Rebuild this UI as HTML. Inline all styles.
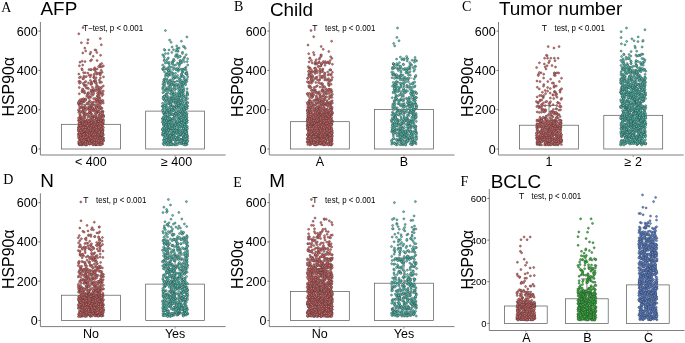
<!DOCTYPE html><html><head><meta charset="utf-8"><style>html,body{margin:0;padding:0;background:#fff;overflow:hidden}svg{display:block;will-change:transform;filter:blur(0.35px)}</style></head><body><svg width="685" height="343" viewBox="0 0 685 343" font-family="&quot;Liberation Sans&quot;, sans-serif"><defs><marker id="mr" markerWidth="4" markerHeight="4" refX="2" refY="2" markerUnits="userSpaceOnUse" viewBox="0 0 4 4" overflow="visible"><circle cx="2" cy="2" r="1.0" fill="#F46666" stroke="#3a3a3a" stroke-width="0.45"/></marker><marker id="mt" markerWidth="4" markerHeight="4" refX="2" refY="2" markerUnits="userSpaceOnUse" viewBox="0 0 4 4" overflow="visible"><circle cx="2" cy="2" r="1.0" fill="#48D8C6" stroke="#3a3a3a" stroke-width="0.45"/></marker><marker id="mg" markerWidth="4" markerHeight="4" refX="2" refY="2" markerUnits="userSpaceOnUse" viewBox="0 0 4 4" overflow="visible"><circle cx="2" cy="2" r="1.0" fill="#2AD232" stroke="#3a3a3a" stroke-width="0.45"/></marker><marker id="mb" markerWidth="4" markerHeight="4" refX="2" refY="2" markerUnits="userSpaceOnUse" viewBox="0 0 4 4" overflow="visible"><circle cx="2" cy="2" r="1.0" fill="#5E94FF" stroke="#3a3a3a" stroke-width="0.45"/></marker></defs><rect width="685" height="343" fill="#fff"/><text x="1.2" y="12.4" font-family="&quot;Liberation Serif&quot;, serif" font-size="14">A</text><text x="40.5" y="15.0" font-size="18.9">AFP</text><text transform="translate(13.9,116.5) rotate(-90)" font-size="15.9">HSP90α</text><path d="M40.4 22.0V155.0H225.6" fill="none" stroke="#7f7f7f" stroke-width="1"/><path d="M38.4 149H40.4" stroke="#555" stroke-width="0.8"/><text x="37.6" y="153.5" font-size="12.5" text-anchor="end" fill="#000">0</text><path d="M38.4 109.7H40.4" stroke="#555" stroke-width="0.8"/><text x="37.6" y="114.2" font-size="12.5" text-anchor="end" fill="#000">200</text><path d="M38.4 70.4H40.4" stroke="#555" stroke-width="0.8"/><text x="37.6" y="74.9" font-size="12.5" text-anchor="end" fill="#000">400</text><path d="M38.4 31.1H40.4" stroke="#555" stroke-width="0.8"/><text x="37.6" y="35.6" font-size="12.5" text-anchor="end" fill="#000">600</text><path d="M90.9 155.0v2" stroke="#7f7f7f" stroke-width="0.8"/><text x="90.9" y="166.2" font-size="12.5" text-anchor="middle" fill="#000">< 400</text><path d="M175.1 155.0v2" stroke="#7f7f7f" stroke-width="0.8"/><text x="176.6" y="166.2" font-size="12.5" text-anchor="middle" fill="#000">≥ 400</text><rect x="61.5" y="124.3" width="58.9" height="24.7" fill="none" stroke="#555" stroke-width="0.7"/><rect x="145.7" y="111.1" width="58.9" height="37.9" fill="none" stroke="#555" stroke-width="0.7"/><path d="M90.9 104.6V143.9M82.5 104.6H99.3M82.5 143.9H99.3" stroke="#333" stroke-width="0.6" fill="none"/><path d="M175.1 81.6V140.6M166.7 81.6H183.5M166.7 140.6H183.5" stroke="#333" stroke-width="0.6" fill="none"/><text x="83.2" y="31" font-size="8.6" fill="#000" textLength="59.9" lengthAdjust="spacingAndGlyphs">T−test, p < 0.001</text><polyline points="86.7,120.3 81,138.2 97.6,127.4 89.1,124.8 92.6,141 85.5,125.6 87.4,139.6 97.3,112 90.2,138 93.4,102.1 89,69.6 92.4,132.4 101,117.3 85,99.1 91.4,94.3 95.6,124.6 80.5,123.6 102.6,120.5 90.9,84.5 84.5,140.1 97.5,138.3 98.9,138.7 94.2,128.4 101.4,119.5 80.5,125.6 91.6,83.5 97.1,60.6 101.4,130 94.5,127.6 93.5,142.2 88.1,132.8 92.7,126.1 92.3,116.3 101.2,126 99.2,92 96.9,112.8 101.6,137.9 80,62.2 97.7,123.7 90,109.6 97.3,138.4 85.8,134 90.1,54 99.1,89.4 79.2,133.6 85.6,130.7 90.6,133.6 99.8,137.3 85.1,140.4 99.1,117.6 84.5,122 85.9,137.3 92.3,136.7 94.8,129.5 100.5,143.8 100.5,90.7 84.6,99.4 97.1,123.9 94.3,126.8 88,108.7 97.9,133.4 101,131.3 90.4,140 101.4,101.5 81.5,137.3 82.5,133.7 97.6,96.6 86,144.3 93.1,144.4 90.8,97.3 82,91.1 97.3,143.9 97,126.4 82,140.6 84.9,141.8 98.5,119.8 101.3,44.8 100.3,75.1 91,74.9 87.6,121.1 89.5,134.5 82.7,110.5 90.8,91.2 84.1,113 82.4,142.7 87.9,73.1 79.9,118.9 90.2,136.8 95.9,106.4 94.7,142.7 102.9,133.2 100.7,133.2 94.3,125.6 101,119.3 89.5,96.3 98.5,106.8 85.5,145 91.6,127.7 103,100.7 93.4,110.6 91.1,133.9 98.2,95.2 86.2,109.8 99.3,91.8 78.8,112.3 84.3,138.8 82.8,78.6 84.8,93.1 102.2,72.3 78.9,126.1 85.8,143.2 92.8,138.8 96.1,123.1 97.8,121.8 88,126.9 83.9,114 99.8,133.4 81.4,138.8 79.9,137.7 84.1,130.4 90.7,136.3 102.1,114.9 96.7,74.2 92.5,138.2 91.5,83.8 95.8,128.1 94.1,81.2 86.8,135.2 80.6,125.7 83.4,110 98.1,93.2 94.3,81.3 98.4,111.2 79.4,103.9 101,143.1 87.9,131.2 101.7,132.6 93.3,119.8 92.1,132.6 99,100.7 94.1,121.9 95.3,113.4 82.3,106.8 93.6,117.3 87.3,94.2 80.2,116.5 81.7,133.4 90.4,138.8 84.9,82.3 97.6,142.7 81.4,42.7 78.6,129.4 103.5,140.6 86.2,122.9 91.2,134.5 83.6,72.7 83.6,133.5 88.5,136.3 98.2,130.1 79.3,144.7 99.4,137.3 103.3,103 92.4,117.8 87.4,139.5 84.2,138.4 82.9,126 86.5,135.3 99.8,129.9 78.4,120.5 98.1,140.4 95.1,141.5 78.8,127.2 80,114.3 96.9,113.3 95.3,144.2 86.2,135.3 100,98.1 83.6,128.3 89.1,123.3 81.2,123 94.6,131 80.5,143.7 82.8,137.7 97.6,118.9 90.9,119.9 95,136.1 96.8,112.5 93.6,133.8 83.3,143.6 95.9,50.2 81.2,122.1 85.1,121.2 89.6,143.9 81.2,142.6 81,125.3 94.8,116.6 97,105.6 87.7,87.9 88.1,124.1 83.5,123.7 91.5,82 93,133.8 101.9,126.5 79.3,93.8 101.2,107.7 103.3,91 87,114 96.6,117.5 99.1,127.6 94.7,127.1 85.6,139.6 94,135.8 100.4,138.4 81,135.1 90.4,122.3 78.9,110.8 99.6,106.9 98,142.4 79.5,123.2 97.1,85.5 95.8,144.9 81.5,104.6 91.6,92 95.7,140.4 86.8,138.6 91,83.2 102.9,124.4 94.3,139.7 91,129 80,114.8 81.4,126.1 99.8,114.3 97,121 99.4,80.1 92.9,131.3 92.8,138.1 91.7,106.5 96.9,134.3 86.6,139.2 90.8,129.8 90.2,139.1 95,129 83.8,131 78.9,143.7 80.5,117.7 82.8,89.6 99.9,72.7 96.4,119.1 97.2,73.2 89.5,108.3 80.9,119.9 90,136.7 100.1,144.5 91.2,130.7 94.3,73.9 87.7,138.6 82.1,61.2 94.1,125.2 90.5,60.8 87,137.2 84.8,48.1 95.9,87.5 86.3,131 92.8,131.7 84.9,85.4 97.3,127.2 87.8,135.8 90.4,125.4 101.7,111.8 96.4,118.7 96.9,142.7 86.9,135.3 99.5,138 88,141 103.3,138.1 100.9,137.6 94.9,142.1 99.3,133.8 92,89.9 96.8,85.8 81.4,107.1 103.3,134.9 98.5,87.5 81.9,99.2 84.4,127.4 92.8,116.9 97.6,128 82.1,131.4 102.6,127.3 87,128.3 103.4,115.4 97.3,96.3 90.6,135.6 87.5,133 80.7,141.4 80.5,76.9 94.2,128.3 97.8,122.9 101.2,122.2 87.5,104.1 102,108.3 85.8,131.9 102,130.3 101.5,143.8 82.2,102.6 100,129.3 96.1,99.9 96,83.4 99.5,128.8 91.8,123.9 91.1,127.6 87.6,119.7 100.1,64.6 101.1,88.2 82.3,119.1 97.8,132.7 85.2,140.7 82.9,132.9 83.3,137.9 92.8,109 85.4,121.6 84.4,144 80.8,141 86.5,129.5 97.8,98.8 78.8,74.1 90.5,125.9 93.5,108.9 79.5,133.5 85.7,141.6 101.2,70.3 103.4,65.9 99.8,102.7 82.6,140.2 97.6,136 89.7,137.3 82.6,144.9 90.4,130.1 101.6,142.7 100.4,114.5 88.2,132.3 79.9,108.4 101,117.7 103.2,119.5 91.2,128.9 84,92.3 92,140 95.9,117.4 90.5,143.1 87.2,131.9 84.5,139.1 85.8,128 79.5,120.4 84.7,122.4 102.4,131 78.5,109.9 96.7,122.9 98.2,129.7 88.5,88.7 93.3,121.7 83.9,102.1 95.2,128 96.2,119.5 96.8,107.2 90.7,120 102.8,114.6 100.2,65.9 92.8,108.7 95.5,125.5 85.2,107.8 102.1,116.2 94.6,122.5 100.9,128.4 85.6,113.6 103.1,130 81,129.8 91.7,117.5 81.1,127.5 83.1,128.7 97.6,142.6 80,140.5 88,136.6 83.1,124.7 99.8,138.4 80.4,135.3 86.8,141.5 99.9,141.1 95.6,138.7 96.1,130.4 103.3,140.4 78.9,104.8 95.1,126.1 97.1,69.1 97.2,131.2 96.3,82.9 80.1,143.6 80.4,102.6 97.8,124.6 93.7,91.2 84.9,127.9 78.5,131.2 91.8,127.6 80.6,118.4 97.2,135.4 86.9,142.9 98.7,121.5 80.7,101.4 90.8,125.2 80.8,136.1 98,139.1 92.4,122.3 84.2,143.9 102.6,130.9 95.5,116.2 86.8,126.1 99.9,117.5 87.9,136.2 102.1,132.8 85.8,136.5 103.2,140.2 79.9,123.9 96.8,110.2 85.7,50.9 89,116.2 94.4,115.9 79.4,77.7 83.9,120.7 80.9,125.4 97,138.4 83.9,134.2 90.9,128.6 86.6,142.3 84.3,108.7 101.9,134.5 91.1,69.9 94.7,116.9 96.1,137.7 99,138.4 84.9,100.5 80.3,137.7 90.1,122.7 82.6,89 78.8,33.8 101.5,132.4 94.1,133.2 88.8,98.2 81.7,144.6 97.5,93.3 91.8,143.4 82.7,65.1 103.1,123.4 102.3,141.2 101.7,63.5 99.2,112 91.7,139.4 85.9,142.9 94.8,144.6 82.1,134.7 93.9,111.1 80,123.9 78.6,127.5 96.4,89.8 86.9,144.9 95.9,138.4 98,136.1 99.4,135.8 93.8,125.3 99.7,142.8 94.9,116.3 101.7,120.4 100.9,133.4 79.4,128.1 85.1,128.8 88.1,92.7 84.7,130.7 82.8,52.9 100.4,119.8 78.9,103.8 82.9,112.2 97.5,90.2 83.9,84.7 84.8,131.3 102.7,144 97.6,135.9 89.6,144.2 81.7,121.6 85.1,124.3 103.1,111.7 98.3,100.9 80.1,134.9 96.1,144.7 87.8,137.5 96.5,125.8 85.8,81.5 81.6,130.1 78.8,142.6 85.8,122.4 100,67.1 100.8,123.5 95.5,81.2 97.2,124.7 83.2,135.8 87.2,132.8 101,135 103.2,140.3 89.5,112.9 97.9,89 101.9,125.5 103.5,138.3 85.8,128.1 94.8,139.2 88.1,141.8 90,113 90,108.1 85.3,140.1 78.8,134.8 97.7,140.1 95.9,129.1 99.5,120.7 82.2,91.9 84.3,128.7 93.3,130.2 101.9,66.8 90.2,137.5 83.4,133 93.3,128.4 102.5,127.4 100.2,92.3 101,109.2 88.7,102 84.9,86.2 100.3,102.3 98.2,139.8 99.8,82.6 88.2,143.4 85.5,142.5 84.4,91.1 100.3,119.2 101.5,142.9 87.6,136 100.4,78 87.9,133.9 89.6,133.5 92.6,141.5 83.9,132.8 85,129.4 85,143.1 84.9,135.7 91.3,140.2 80.8,107.5 98,121.7 82.7,100.6 89.5,135.3 94.5,143.1 81.8,68.8 88.6,130.7 92.5,141.6 92.2,135.7 100.8,129.3 98.1,131.6 81.3,133.9 99.3,124.8 92.2,133.4 95.4,140.4 82.3,69.9 90.2,135.9 96,110.9 98.4,119.5 98.6,100.9 83.8,131.4 99.3,143.9 92.6,95.3 95.2,131 99.8,100.9 88.5,83.1 101.5,87.3 100.6,134.3 98.7,107.9 87.9,142.7 91.6,59.8 82.7,101.9 97.5,123.7 100.8,122.4 82.4,121.1 97.1,144.5 95.8,108.5 79.2,125.6 101.5,137.3 90.4,80.4 85.1,143.9 79.1,143.8 98,130.7 86.8,127.5 91.3,120 83.2,135.2 93.6,133.6 88.3,96.9 98.7,142 95.1,120.1 96.5,144.5 84.6,128 79.9,139.1 100.5,137.4 101.9,133.6 94.5,143 101.6,142.6 96.1,102.5 93.6,69.3 88.9,102.7 87.3,129.1 90.7,125.8 83.9,108.1 89.1,127.9 91.1,132.7 79.1,103.9 88.2,143.3 85.5,121.2 94.3,143.6 98.8,106.6 93.8,131.1 95.1,133.7 93.8,124.7 84.8,105.9 87.8,125.4 99.6,121.5 102.2,135.8 82.9,141 78.6,137.7 102.6,111.2 100,144.9 93.6,98.7 98.9,134.9 93.3,127.3 101.1,133.2 84.4,128.8 89.5,130.9 95.2,142.2 83.7,119.2 96.3,107.3 84.9,134 96.2,100.5 98.6,119.4 89,75.2 103.3,122.8 94.2,136 97.4,132.2 78.8,128.1 81.1,117.9 96.3,113.4 102.1,95.6 94.2,124.5 101.3,135.6 79.8,81.5 100.8,121.3 100.5,102 94.2,105.3 89.1,107 96.1,90.6 84.5,142 95.2,131.3 95.8,133.7 91.9,107.8 84.9,124.2 78.3,134 83.2,143.7 99.4,112.2 83.7,129.6 80.2,138.1 84.5,143.5 91.4,102.7 93.1,138.3 100.4,129.9 99.9,138.7 102.8,130 100.6,143.3 89.7,132 81.9,135.6 102.4,112.2 84.1,143.9 94,132.7 85,125.5 98.9,127.6 83.4,78.9 88.9,129.7 83.8,135.2 100,94.1 93.9,142.2 94.2,122.7 86.2,137.1 82.7,128.5 99.9,141.6 97.6,95.6 96.8,140.2 103.5,116.2 92.4,124.6 82.8,133.5 93.7,93.8 85.5,129.8 91.2,125.7 89.9,131.2 92.5,118.9 101.6,134.6 98.8,95.9 88.8,125.4 98.9,73.5 100,141.5 97.8,123.4 92.2,137.6 101,120.6 90.7,52.3 81,140.5 85.2,143.3 94.9,126.6 87.9,127.5 89,130.9 88.4,127.6 83.1,108.4 80.7,144 79.5,130.3 95.3,126.5 86.5,126.1 89.8,100.6 101.9,123.6 94.1,137 98.8,115.5 97.5,124.3 102.4,113.1 80,144.4 88,39.7 102.3,132.5 90,142.3 102.2,100.4 83,112.3 79.8,144 100.9,120 88.7,93.6 91.1,125.3 101.9,93 83.8,128.3 102.7,123.1 88.3,142.1 84.5,135.7 84.2,137.8 91.4,105.8 90.1,139.5 100.7,129.6 79.6,102.5 79.4,65.8 82.1,142.8 93.6,143.9 98,132.9 90.4,130.6 93.8,126 94.5,128.6 78.8,81.5 84.5,140.2 103.5,120.4 86.6,130.4 102.2,139.3 90.7,134.5 83.9,115.5 78.4,103 83.8,76.2 86.4,124.1 89.4,112.2 89.6,106 92.1,126 90.3,111.1 79.1,138.7 85,115.7 102.6,141.8 79,101.3 96.8,52.5 90.3,119.2 96.1,77.7 86.7,124.6 87.6,43 91.3,113.5 101.3,144.4 86.6,133.4 80.5,123.7 79.3,87.5 100.6,107.4 86.2,125.6 81.3,144.8 93.4,126.1 99.6,140.1 93.4,108.8 82.1,100.7 88.5,113.5 85,61.6 78.7,127.6 102.7,124.3 89.9,135.3 81.7,116.7 100.6,127.9 103.2,121.5 98.9,144.5 84.7,124.6 83.1,134.3 91.6,122.7 93,144.9 100.5,73.3 102.7,139 101.3,129.1 86.9,103.3 93.1,141.8 81.4,143.3 91.4,136.8 80.1,136.1 81.1,131 81.4,140.3 85.9,144.6 86.1,122.1 96.1,131.3 80.2,143.5 81.1,112.1 94.9,139.3 95.3,137.5 96.2,130.9 96.5,99.3 95,70.5 92.2,137.3 97,101.3 80.3,135.7 83.6,141.6 97,140.9 83.2,83.4 91.7,125.5 84.9,111.6 89.2,138.3 99.4,127.5 95,69.1 89.5,137.1 85.2,72.8 98.6,125.7 94.9,80.6 89.4,140.7 100.2,137.9 95.8,115.8 103.1,116 95.1,144.1 101,119.1 92.2,140.1 96.2,144.1 99.6,128.3 80.6,139.5 90.3,116.7 93.6,135.2 79.7,101.5 98.2,103.3 96.4,127.3 101.9,137.9 87.7,142.4 90.1,129.1 101.3,103.3 88.7,138.9 99.4,141.2 88.9,128.7 86.8,129.8 85.3,106.9 83.7,131.1 89.2,139.5 82.4,112.1 99.2,111.4 102.9,131.2 80.8,111.4 79.7,134.1 78.4,136.1 101.8,126.4 80.2,99.7 95.5,140.3 86,114.8 83.3,131.1 84.5,133.8 95.7,140.2 78.7,130.5 100.1,134.8 92.6,132 84.2,122.7 83.6,108.1 94.8,67.8 94.2,91.4 86.3,76.6 86.7,96 90,142.2 101.3,142.4 91.9,105.1 99.5,109 94.5,140.4 92.5,108.2 90.7,137.8 95.5,122.9 90.7,127.9 96.6,119.3 82.9,124.2 86.4,85.3 100.3,38.6 88.3,93 99.6,99.5 102,124.3 92.9,137.9 80.9,139.1 97.4,137.3 95.1,98.4 85.6,141.7 100.1,125.8 90.5,143.7 79.7,121.6 80,134.4 84.1,123.2 93.7,77.3 98.9,126.5 80.8,137.7 78.9,123.3 94,75.8 88.6,123.1 89.4,139.8 99,107.8 101.5,82.3 102.7,137.8 98,134.6 78.4,129.4 82.1,138.6 93.1,103.5 102.4,138 80.3,142.8 91.3,90 88.3,140.4 88.6,124.2 85.1,130.1 85.1,137.8 84.3,129.4 80.9,125.3 92.3,139.8 89.6,123.4 96.3,143.1 94.5,108.9 102.4,131.4 86.9,131.1 100.6,55.3 88,117 95,49.9 98.6,66.5 88.3,124.2 89.6,133 94.2,124.2 81.1,102.4 91.7,102.5 80.7,142.3 84,135.4 94,134.2 102.8,137.8 103.5,76.9 84.9,130.6 82,140.5 91.4,122.8 89.4,143.1 87.9,139.6 97.7,138.5 96.2,128.4 92.5,140 94,78 93,135.4 95.4,109.5 101.7,133.3 102.2,92.7 103,141.3 100,81.8 80.9,120.6 89.7,134.1 98,98.7 85.7,100.1 93.6,134.4 79.7,144 83.4,136.9 88.4,122.2 80.1,116.1 89,110.4 84.1,133.9 100.1,126.7 86.3,88.1 87.9,96.7 98.5,121.3 92.4,114.9 79.6,83.3 83.8,140.1 93.7,90 83.3,134.7 84.6,77.2 94,139.3 90.8,69.4 85.1,117.9 92.4,87.1 94.3,142.4 79.3,119.5 85.2,129.3 86.1,123.4 100.5,88.5 79.6,132.6 87.1,126.3 83.2,108.4 95.8,112.9 98.8,116.3 79.7,117.9 100.1,104.7 95.9,72.3 83.8,117.2 101.4,142.5 85.7,99 98.2,132.8 80.2,125.9 89.8,136.1 91.1,138.4 100.9,144.2 99.4,133.6 92.1,130 79.6,107.1 89.2,121.1 87.8,114.6 103.4,127.5 95.5,80.1 88.5,138.4 87.5,125.5 97.7,144.6 80.7,143.9 98.9,119.1 95.2,134.6 89.3,140.7 96.2,139.3 88.3,121.8 81.9,132.7 88.8,140.9 79.6,123.5 80.5,82.3 89.4,135.8 99.1,96.6 83.4,98.7 90.9,113.9 103,94.2 99.2,87.4 101.1,140.6 95.3,126.7 93.2,56.3 93,129.9 93.5,89.1 90,108.4 87.4,144.1 84.3,124.1 79.9,128.1 87.6,134.7 97.7,140 92.3,91.9 82.4,128.9 98.9,127.6 79.3,132.9 101.8,135.1 94.8,124.4 92.3,140.6 88.7,140.3 99.1,132.8 78.5,118 78.7,141.6 91.4,125.7 85.8,127.6 88.4,139.6 91.8,138.2 79.4,128.4 103.1,134.9 95.4,82.6 80.8,130.4 96.9,140.6 91.8,141 95.6,101.2 96.9,129 103.3,85.9 81.3,140.2 103.5,116.9 90.3,137.2 83.4,127.5 87.7,119.9 87.5,107.7 100.9,120.2 91.5,111 80,143.8 96.3,127.3 90.9,120 98.9,140.9 79.5,141.7 100.1,74.2 100.8,123.2 78.5,102.8 90.3,76.9 81.4,132.1 91.7,133.2 83,27.6" fill="none" stroke="none" marker-start="url(#mr)" marker-mid="url(#mr)" marker-end="url(#mr)"/><polyline points="166.9,73.7 180.8,112.1 166,74.8 170.1,139.7 164.3,57.5 178.9,69.8 180.8,101.5 181.3,74.5 182.1,108.9 172.5,63 167,110.6 162.6,69 173.6,135.2 186.1,98 173.8,139 178,69.8 185.6,125.6 184.3,121.5 181.2,86.7 177.5,112.8 168.3,121.3 181.4,134.8 173,74.1 180.3,91.7 168.1,121 186.3,135.7 166.6,124.4 182.5,138.8 185,144.1 166.3,143 184.3,127.5 178.8,110.8 177.7,142.9 168.9,74.6 170.8,105.7 168.4,62.9 173.6,59.2 178.9,93.1 180.9,89.8 180.3,56.5 171.3,97.7 171,137.8 181.8,69.6 187.1,128.1 168.1,117.3 172.9,113.7 169.5,86.2 187.1,138.2 162.9,92.7 185,109.4 181.9,113.8 170.9,108.7 179.7,139 171.8,133.7 178.6,133.8 173.2,135 185.6,84.8 174,115.4 183,127.6 177,105.5 171.9,134.2 186.9,144.5 167.4,69.4 185.4,135.4 187.3,120.5 183.9,127.2 177.9,85.3 178.2,125.7 185.9,67.2 173.4,125.8 183.3,115.2 182.1,142 184.2,106.9 173.6,109.8 179,86.9 164.8,129.7 164.3,60.1 165.2,128 181.1,140.1 171.5,88.6 185.4,118.9 164.5,139.1 166.8,62.5 183.6,84.3 173.1,131.2 168.1,89 182.2,143.6 168.4,74.4 187.1,129.8 169.4,136.8 184.2,139.3 174.6,85.7 186.1,133.9 170,103.1 185.9,106.9 170.1,118.2 173.8,85 178.5,88.3 176.5,130.5 179.4,79.9 180.1,62.3 169.3,64.2 162.7,134.8 180.8,139.5 177.7,48.3 176.7,49.2 175,77.8 185.9,143.2 170,107 185.5,73.4 166.7,130.8 180,113.2 186.3,73.2 166.4,107.4 181.9,85.4 169.4,123.6 164,114 173.4,110.4 180.1,141.2 169.6,102.2 186.5,131.7 162.5,106.3 169.3,120.9 171.1,91 171.9,101.3 170.1,84.1 163,87.1 167.8,83.8 169.1,103.7 179.5,139.7 172,102.3 180.7,134.9 173.7,65.1 171.1,42.3 166.5,128.1 168.3,135.8 185.3,142.6 174,128.3 170.4,126 168,123.4 184.6,120.3 180.3,119.4 180,60.4 182.8,127.8 168.6,74.4 181,104.5 164.3,104.8 179.3,99.8 170.6,128.8 179.2,123.2 168.2,76.4 171.4,99.1 179.4,64.4 186.2,81.2 171.1,141.1 166.8,100 165.6,123 179.4,104 185.1,125.5 162.9,130.3 171.2,132.6 166.8,97.1 186.6,113.9 165.8,113.2 164.2,79.4 181.9,130.2 187.7,102.5 182,115 165.4,122.3 172.8,119.9 175.6,86 185.2,99.9 181.5,74.1 164,79.8 173.9,78.3 182.2,124.4 176.2,123.6 179.3,83.5 186.9,139 187.2,74.7 183.6,139.4 176.9,107.3 170.3,102.7 166.5,93.8 166.7,124.3 178.7,90.7 182,140.5 184.2,126 185.6,117.1 169.8,89.2 170.9,110.1 167.4,142.3 176.2,106.8 186.4,139.4 181.6,61 173.5,49.7 166.5,120.1 183.8,82.8 185.1,139.2 181.9,84.4 169.9,80.2 172.3,128.2 177.2,54.5 185.7,126.3 168.6,127.5 173.1,96.1 164,81.4 162.6,135 168.6,112.6 182.9,91.4 179.5,56.4 174.5,124.6 172.8,96.6 169.2,62.4 181.8,121.9 174.8,99.7 164.3,132.7 178.3,129.5 187.6,138.4 164.3,99.6 187.7,76.9 165,132.9 170.3,136 187.2,106.5 187,142.9 167.2,73.7 180.7,110.1 178,96 172.5,128.7 182.3,134.2 178.5,132 168.2,116.7 174.9,143.6 180.4,122 178.2,51.2 176.2,120.7 181.1,76.5 165.9,134.4 163.6,119.7 163.3,70 178.2,104.5 173.5,78.7 183.6,95.4 187,79.3 165.3,99.7 172.1,136.8 173.1,73.3 176.3,123.4 185.5,129.8 177.6,144.5 170.2,125.8 179.2,142.5 170.8,82.1 176.5,139.8 165,95.9 176.7,137.1 174.6,132.4 178.8,123.6 176.8,123.7 177,140 181.1,95.5 165.9,128.3 181.5,131.1 178.2,99 179.9,95.7 172.6,144.8 164.6,123.6 185.8,144.4 183.4,110.3 187.1,88.8 174.1,67.8 184.8,128.8 184.5,129.5 176.4,77.3 185.2,69 183.1,121.5 165.1,79.2 165.9,120.5 172.8,84.5 176,114.8 179,118.5 176.7,131.9 184.6,126.4 182.7,70.1 165.1,102.3 171.1,79.7 184.9,79.6 181.6,83.9 162.9,134.1 178.3,98.4 165.7,130.1 175.2,134.4 187.6,106.2 164.4,118.5 183.3,121.7 174.7,144.9 187.2,108.4 184.2,105.3 164.1,140.8 178.7,129.7 184.2,46.8 169.5,141.2 180.3,125.1 168.9,127.4 167.7,68 170.9,72.5 169.9,124.7 186.8,72 168.4,108.8 173.2,61.1 174.8,137.4 179.9,96.3 187,141.3 178,101 184.2,132.7 165.8,94.3 179.2,48.1 166.8,79.4 184.5,123.4 177.5,138.5 165.9,141.8 184,138.7 175.8,144.2 174.8,138 164.5,133.1 185.4,108.7 175.5,56.4 184.3,127 164.4,119.2 179.7,89.1 172,138.6 176,69.1 178.3,69.1 183.3,93.3 185.8,115.2 166.7,119.7 184.2,110.5 165.4,75.9 162.8,109.6 170.1,119.8 169.7,113 182,124.7 176.6,122.1 172.3,118.5 182.5,100.1 186.1,108.4 178.7,107.1 179,113.5 184.3,77.2 169.9,129.1 187.6,58.7 166.9,118.1 163.6,123.8 183.3,59.6 166.9,115.8 171,144.3 175.5,101.9 165.3,117.9 173.2,129.9 171.4,111.5 164.7,125.8 177.7,112.7 173.9,108.6 166.5,111.9 182.4,90.5 172.8,126.9 163.1,97.1 184.7,123.3 172.8,92.5 164.8,50.2 169.8,114.4 168.9,90.8 163.6,122.8 170.8,104.5 166.8,122.5 167.9,138 179.5,68.6 166.5,133 163,130.5 167,125.7 170,104 166.7,133 177.6,75.5 184.7,57 183.5,90.4 174.4,116.9 182.3,122.6 182.5,72.3 178.5,123.1 182.8,86.6 172.1,47 181.4,142.3 175.7,95.8 181.1,96.6 181.2,116 164.2,114.2 183.5,83.6 163.4,139.9 173.3,69.4 177.4,115.6 183.3,119.8 163.9,134.4 179.5,113.6 171.2,120.1 163.5,120.8 170.9,113.6 178.7,111.8 164.6,71.9 183.9,119.5 163.6,124.2 168.5,110.3 170.8,109.8 164.1,112.5 185.9,112.6 186.9,36.9 185.3,48.3 167.5,137.9 183.5,117.3 171,97.8 169.8,101.5 179.9,107.4 164.6,117.9 162.6,103.3 186,133.1 171.4,71.8 182.6,132.1 173.2,74.8 164.8,96.7 174.5,98.5 166.8,145 164.5,85.5 163,68.6 172.6,129.8 169,50 171,128 186.8,120.2 183.4,144.1 180.3,100.5 168.7,71.3 181.4,89.4 180.1,111.6 175.8,129.4 168.5,117.4 167.7,137.6 173.1,93.5 169.5,128.9 184.8,137.5 174.3,102.5 179.6,120.8 185.2,121 178.2,137.6 166.6,120.7 170.6,144.7 185.8,82.7 163.7,122.9 168.1,75.2 178.1,94.7 184.1,114.2 183.2,109.6 181,133.6 180.2,105.3 171.9,67.1 164,96.3 178.5,119.4 164.3,142.8 182.7,75.9 165.8,129.4 163.1,118.3 187.7,140.8 166.7,110.8 177.2,55.9 164,82.2 187.3,94.8 162.9,129.2 179.9,134 183.8,88.8 170,69.6 162.7,122.4 163.4,125.1 164,118.5 181.5,104.3 175.8,113.6 185.1,134.2 178.5,98.3 177.5,63.1 167.6,96.2 168.1,98.7 187.2,92.8 186.5,121.4 173.5,94.7 182.6,106.9 180.7,93.4 169.5,86.4 167.5,136.7 181.4,109.4 186.8,131.9 187.3,93.5 171.5,137.5 164.1,121.9 170.6,74.9 164.3,49.5 187.4,103.3 170.2,128.5 183.9,58.3 168.7,71.1 186.7,117.6 174.8,98.5 183.6,113.5 177.6,104.1 181.8,91.2 164.3,96.4 164.7,115 171.5,140 184.7,113.2 185.5,128.7 180.4,86 177.6,118.3 163.7,55.7 185.9,69.7 179.2,135 178,128.3 183.8,116.6 168.5,134.8 178.1,104.9 179.7,92 181.6,123.6 164.9,114.5 180.9,127 185.3,133 178.4,105.3 166.8,96.8 185.7,102.9 165.1,130.4 168.3,82.7 184.1,126.7 177.4,98.3 171,84.8 182.8,102.3 178.8,64.3 165.5,90.3 168.4,57.9 183,69 183,112.2 164.4,129 175.7,102.6 180.5,102.5 170.7,105.8 164.1,126.9 173,106.3 186.1,144.4 180.9,95.4 167.9,125.1 183.8,142.9 179.4,120.6 169.8,136.2 169.3,66.4 167,124.9 172.7,94.9 171.6,124.4 169.7,144.7 184.6,144.8 181.7,93.6 174.9,131.5 186.8,81.4 179.5,134.2 186.5,141.7 183.3,144.2 178.5,86.8 180,63.3 182.1,122.3 181.6,62.8 184.6,139.8 171.1,142.7 171.7,134.7 168.7,133.5 185.8,107.7 185.3,124.4 173.7,89.2 172.6,133.9 165.8,109.8 187.1,134 179.5,120.8 186.8,135.9 178.5,133.9 175.5,141.8 181.4,80.6 184.9,81.1 183.8,90.5 171.2,100.8 175.3,101 186.4,138.9 175.3,113.9 182.7,131.7 175.7,103.2 183.5,118.3 164.2,141.5 162.5,106 164.8,106.1 173.5,139.2 171.8,125.6 186.7,95.1 187.7,136.3 165.9,124.5 183.6,138.3 175.4,125.4 183.7,122.4 171.8,84.4 182,98.6 162.6,129.2 174.3,128.3 170.9,115.1 168.9,124.9 170.1,142.6 173.1,122.9 175,77.2 175.8,140.1 181,132.9 183.4,46.4 186.8,136.7 179.4,135 169,143.1 177.1,55.9 173.6,129.7 168.4,70.6 170.9,104.1 168.3,129.3 176.1,69.7 164.2,136.9 176.2,131.4 172.9,119.1 162.7,88.1 169.5,141.1 187,73.9 177.1,124.6 164.1,140.3 177.1,95.6 180.3,118.5 165.9,127.8 172.7,132.9 167.9,93.1 176.2,130.4 183.3,137 168.5,73.1 166,104.5 166,69 178,103.3 164.2,60.6 175.8,55 183,135.8 181.9,69.7 179.4,127.1 162.8,106.6 173.4,108.1 168.6,145 175.5,137.5 166.3,108.2 165.9,122.5 186.5,105.1 184.7,119.2 165,142.6 183.4,70.5 164.2,66.8 171.1,138 187.6,94.3 186.2,106.7 174.3,117.4 180.2,118 172.2,136.7 183.9,141.6 170.5,124.9 167.7,115.9 166.1,74.2 178.4,115.1 176.6,139.5 185.3,104.6 166.2,117 182.8,111.8 186.3,123 181.4,122.4 165.4,132.6 166.4,89.3 164.7,131.1 170.9,96.7 181.7,124.8 166.2,124.5 173.8,107.6 163.6,121.8 179.6,134.8 165,82 182.5,103.7 178,112.5 167.3,104.3 180.1,79 171.3,142.8 175.7,93.4 176.5,122.7 169.4,139.3 173,144.1 182.4,135.6 184.3,124.5 183.9,129.5 176.8,126.5 184.5,111 166,106.2 187.3,126.4 163.6,81.7 185.2,111.7 182.5,82.4 172.3,140 182.5,52.3 186.7,132.5 166.6,132.1 178.9,133 162.6,122.2 179.3,132.5 164,123.6 179.4,124.1 163.2,112.2 172.7,98.6 184.4,61.8 170.2,102.9 187,91.7 174.4,139.8 167.1,69 186.1,126.2 166.4,130.5 177.5,50.9 186.3,73.8 186.3,116.6 176.5,107.4 167.8,107.4 175.1,100.7 169.9,140 170.4,130.7 170.5,86.3 167.6,81.8 163.5,106.9 181.5,105.2 162.8,84.2 177,109.6 171.8,128.3 178.9,100.1 177.2,84.6 174.6,126.4 182.1,117.2 176.9,81.1 185.2,134.9 177.3,132.7 184.6,130.4 184.3,122.4 180.3,139.9 170.8,134.9 174.8,130.7 164.5,105.5 180.8,76.9 178.8,108 183.2,76.5 164.6,121 165.7,119.1 178.8,136.8 181,90.3 164.4,107.8 163.3,128.1 170.7,104.3 171.1,143.5 163.8,99.4 165,135.3 167.6,136.8 162.8,120.9 166.2,133.7 163.1,109.8 171.8,109.3 181.4,95.7 179.2,139 177.8,57.8 174.3,60.4 167.2,136 163.7,144.5 167.2,112.5 186.4,122.5 183.1,101.7 176.9,100.4 178,99 181.3,82.5 183.3,87.1 168.6,140.6 182.8,126.7 178.9,136.1 169.5,118.1 169.8,81.5 166.8,117.3 176.3,105.5 187,113.7 182.4,124 166.7,144 165.5,89.4 169.6,40.1 166.6,100.1 166.1,139.5 181,139.7 170.4,119.2 176.8,139.1 170.5,93.7 187.4,141.6 177.4,133.9 166,90.1 182.1,125.8 169.8,111.5 174,107.4 169.7,67.3 174.9,120.3 170.3,135.4 170.6,89 166.5,137.3 186.7,120.5 167.7,129.5 169.6,114.5 172.9,105.8 165.5,126 168.3,119.6 172.8,61.6 177.2,122.1 176,100.7 171.8,52.4 179.6,130.1 181.3,100.9 169.2,124.5 168.5,140.6 178.3,102.9 172.9,114.8 183.5,123 162.7,118.6 176.2,84.5 171.3,122.4 167.9,100.8 184.4,96.4 168,140.4 182.4,53.5 184.1,137.1 186.9,135.1 165.4,135.8 166.4,95.1 164.6,118.4 170.6,101 185.4,128.9 178.7,97.4 166.4,140.1 165.2,63.1 181.4,97.1 178.2,134.5 162.6,119.1 177.3,68.3 167.3,101.8 169.9,127.5 165,134.2 187.5,95.1 174,87.2 178.1,71.3 167.6,58.8 172,91.3 178.8,103.7 181.4,140.8 185.4,135.6 168.7,122.7 168.5,131.3 172.7,81.4 170.3,119.1 183.2,93.3 171.9,109.8 171.9,133.1 175.2,117.5 176.7,46 171.4,85 162.7,54.8 181.1,143.9 165.4,53.6 184.1,109.8 168.7,129.8 168.9,124.7 176,104.6 185.4,96.8 172.1,121 174.6,89.6 173,130.2 165.3,125.6 169.8,118.8 185.6,144.9 186.2,99.8 168.9,99 185.7,121.6 162.9,89.4 180.6,61 163.1,143.4 173.3,133 172.9,120.5 173.5,99.1 186.3,115.3 171.4,93.7 162.9,118.4 165.3,114.2 181.4,41.2 165.7,87.7 164,84.7 167.4,132.7 187.2,122.4 173.7,133.3 166.2,129.1 179.1,139.3 172,62.1 176.5,88.7 187.6,98.6 180.1,140.8 176,113.9 187.7,65 175.3,76.1 173.9,81.9 184,120.8 186.7,115.9 180.7,82 171.7,144.7 172.7,128.2 162.7,110.5 168.5,130.2 182.1,102.4 174.8,124.1 184.1,81.9 179.4,123.4 176.8,131.9 182.8,72.1 175.1,125.3 179.3,65.8 174.9,143.5 171.4,137.2 181.8,71 164.3,68.5 187.2,61.6 186.8,108.3 183.5,128.6 174.3,128 173.9,100.2 172.7,77.1 174.1,94.3 168.1,53.5 182.7,106.7 184.7,126.2 175.1,123.7 184,79.3 169.9,122 184.2,141.3 187.1,117.8 179.4,95.2 186.8,135.3 180.8,117.8 180,141.8 174.4,108.7 164,91.6 165.7,118.1 183.4,142.3 167.1,74.7 179.8,143.4 166.5,60.5 181.6,94.3 186.6,133.2 178.1,92.9 163.5,117.7 181.1,108.9 174.5,115.7 184.4,121.3 166.3,128.1 169.6,98 185.7,101.3 183.6,97.7 185.5,128 175.6,65.1 179.5,128.6 186.1,54.7 179.2,138.5 164.7,138.6 166.4,131.3 162.6,132.8 165.3,78.5 163.2,112.5 172.2,63.8 178.1,103.7 184.2,131.1 172.8,114.5 166.6,90.9 185.4,118.2 185.7,136.3 187.2,128.4 163.1,98.5 177.4,97.2 178.4,78 176,145 167.2,130.7 185.7,105.5 176,51.2 163.4,132.5 171.2,102.4 180.9,62.3 167.6,132.2 182.1,130.7 167.8,80.7 173.4,82.9 169.9,112 165.7,126.4 184.8,68.5 171.1,101.2 181.5,119.6 185,114.3 169.6,109.8 162.6,129.2 175.8,125 168.4,130.1 184.6,132 166.7,112.1 180.7,124.5 163.1,117.1 169.3,126.3 167.5,118.4 184,138.3 177.6,117.1 179.2,136.7 164.6,83.7 170.3,144 185,139.6 178,124.2 181.6,109.9 175.2,100.2 167.7,87.4 185.6,131.8 169.2,114.4 166.8,79 178.9,116.2 164.7,127.9 181.8,117.3 180.5,133.9 172.2,91.9 175.5,73.3 174.8,111.6 164.4,100.3 164.5,144.6 171.4,138.2 162.7,65.1 165.4,30.5" fill="none" stroke="none" marker-start="url(#mt)" marker-mid="url(#mt)" marker-end="url(#mt)"/><text x="234.1" y="10.8" font-family="&quot;Liberation Serif&quot;, serif" font-size="14">B</text><text x="269.9" y="16.2" font-size="18.9">Child</text><text transform="translate(242.8,116.9) rotate(-90)" font-size="15.9">HSP90α</text><path d="M269.3 22.0V155.0H454.5" fill="none" stroke="#7f7f7f" stroke-width="1"/><path d="M267.3 149H269.3" stroke="#555" stroke-width="0.8"/><text x="266.5" y="153.5" font-size="12.5" text-anchor="end" fill="#000">0</text><path d="M267.3 109.7H269.3" stroke="#555" stroke-width="0.8"/><text x="266.5" y="114.2" font-size="12.5" text-anchor="end" fill="#000">200</text><path d="M267.3 70.4H269.3" stroke="#555" stroke-width="0.8"/><text x="266.5" y="74.9" font-size="12.5" text-anchor="end" fill="#000">400</text><path d="M267.3 31.1H269.3" stroke="#555" stroke-width="0.8"/><text x="266.5" y="35.6" font-size="12.5" text-anchor="end" fill="#000">600</text><path d="M319.8 155.0v2" stroke="#7f7f7f" stroke-width="0.8"/><text x="319.8" y="166.2" font-size="12.5" text-anchor="middle" fill="#000">A</text><path d="M404 155.0v2" stroke="#7f7f7f" stroke-width="0.8"/><text x="404" y="166.2" font-size="12.5" text-anchor="middle" fill="#000">B</text><rect x="290.4" y="121.7" width="58.9" height="27.3" fill="none" stroke="#555" stroke-width="0.7"/><rect x="374.5" y="109.5" width="58.9" height="39.5" fill="none" stroke="#555" stroke-width="0.7"/><path d="M319.8 100.1V143.3M311.4 100.1H328.2M311.4 143.3H328.2" stroke="#333" stroke-width="0.6" fill="none"/><path d="M404 78.1V140.9M395.6 78.1H412.4M395.6 140.9H412.4" stroke="#333" stroke-width="0.6" fill="none"/><text x="312.2" y="31" font-size="8.6" fill="#000">T</text><text x="325.1" y="31" font-size="8.6" fill="#000" textLength="50.3" lengthAdjust="spacingAndGlyphs">test, p < 0.001</text><polyline points="320.1,140 309.7,58.3 327.3,137.6 315.2,63.2 313.9,137.4 323.4,90.4 311.9,140.9 330.2,142.5 323.6,115.7 327.1,109.6 315.8,121.5 318,112.9 313.5,52.5 313.5,129.7 317.7,108.8 327.1,123.5 319.9,134.9 328.2,122.4 310,113.4 314.5,79.1 308.1,130.9 330.3,97.3 308.8,74.5 320.9,144.4 324.2,104 312.3,96.6 331.9,109.1 332,121 313.2,114 310.7,95 323.6,136.5 320.2,142.5 322.5,120.4 322.8,96.2 331.3,138.5 326.6,109.6 315.1,134.8 326.1,119.2 318.5,134.7 331.8,108.1 319.2,62.1 307.5,93.7 330.4,139.8 314.2,132 327.9,125.5 322.6,139.5 326,110.9 325.9,137.8 330.1,125.4 328.2,142.9 323.5,115.8 315.4,120.6 319.7,80 314.2,118 315.7,111.7 318.8,108.7 317.9,111.6 314.5,68.4 314.9,71.5 315.1,64.1 312,119.2 321.9,126.4 309.5,116.8 313.5,129.3 311.5,136.5 325,109 314.3,137.6 309.7,117.5 327.9,112.5 318.2,141.5 327.5,135.4 315.3,91.6 315.9,133.1 321.3,136.3 308.9,129.5 331.9,124.4 310.6,121.3 330.3,118.1 323.8,100.8 326.5,132.1 312.5,126 329.7,121 320.7,65.9 317.6,117.8 312.1,123.7 311.5,143.4 329,103 331.7,131.7 317.8,103 325.5,127.8 324.8,96.7 319.7,58 319.3,136.5 321.2,122.7 315.9,126.4 326,138.7 317.7,138.1 319.9,111.3 311.8,143.3 331.8,138.7 309.2,138.8 325.3,126.2 323.9,143 315.9,82.5 331.9,58.4 308.1,95.5 314.1,119.7 315.7,144.5 323.4,86.4 322.1,110.3 325.2,141.8 328.9,140.3 307.7,78.3 321.4,114.8 317.3,79.7 324.6,137.3 320.5,71.3 316,138.2 307.4,128.3 315,108.6 318.5,106.7 315.7,119 316.8,141.1 323.6,136.7 315.7,134.5 328.7,120.7 316.3,130 318.2,126.3 318.1,141.3 330,116.3 322.5,86.9 331.6,94.9 307.3,141.9 331.3,91.6 312.1,121.1 329.9,81.6 308.3,142.9 328.8,85.1 323.2,136.1 324.5,121.3 317.1,140.5 317,141.9 311.1,79.2 310.7,115.7 323,144.3 315.8,99.8 307.9,117.5 311.5,138.5 311.5,90.5 312.1,130.2 318.7,110.8 330.2,135.2 321.9,91.2 325.9,105.3 309.9,144.8 324.7,73.1 329,127.1 332.3,113.3 325.2,92 322.5,130.2 331.5,101.3 310.5,75.8 327.2,79.6 325.4,112.4 325.5,117.5 316.1,132.5 309.2,73.9 310.8,122.5 324.3,117.6 315.1,137.8 331.2,122.3 310.3,125.1 327.8,128.7 319.2,62.6 314.6,71.6 313.6,136.2 316.1,125.1 316.5,143.5 312.9,124.5 312.7,110.5 331.7,130.6 317.8,125.4 322.9,140.9 324.9,132.7 315.6,133.8 330.8,119.7 314.6,99.8 312,137.8 308.3,133.6 313.8,131 308.7,111.7 323,124.2 321.7,76.6 307.8,107 331.2,130.3 325.6,110.5 321.1,141.7 331.1,143.2 320.6,138.1 311.6,141.4 326.9,129.6 331.3,134.1 308.7,135.8 319.9,127.6 312.9,92.7 330,113.9 309.6,123.3 327.6,118 312.4,126.4 323.4,92.5 324.7,118.6 326.4,89.5 308.5,109.8 319.4,126.5 310.4,120.5 310.4,112.8 311.3,83.2 310.9,138.3 330.8,69.9 321.3,142.8 313.6,122.8 319.5,140.2 308.6,120.2 312.6,76.3 323,89.8 324.7,80 322.7,71.4 332.1,130.4 331.9,139.1 328.3,119.1 319,144.2 326.3,134.9 313.5,125.4 329,98.9 313.3,118.1 332.2,132 307.5,121.1 327.3,120.1 319.8,126.2 327.8,106.7 320.4,139.4 328.2,128.8 325.1,137.6 323.3,136.7 331.2,74.5 310.2,136.2 330.6,105.8 320.4,143 325.1,127.9 324.1,108.9 317.1,124.3 320.5,127.8 331.8,134 319.5,133.7 330.3,132 307.4,110.6 321.7,83.7 324.6,125.2 317.2,115.9 309.2,61.9 327.2,136.1 326.2,124.9 316.8,122.5 309.7,141.3 328.4,129.4 326.8,114 328.3,83.1 327.9,125.5 313.8,114.8 323,121.6 319,115.6 317.1,120.3 317.6,144.3 324.2,143.9 332.4,94.3 319.1,124.7 316.4,95.8 323.1,75.8 323.1,115.5 317.5,99.8 323.5,144.7 323.8,139.7 326,62.9 311.4,93.6 323.7,104.7 317.7,98.9 329.4,137 322.8,139 327.7,104.4 327.7,120.7 312.6,96.8 309.1,87.1 326.4,114.8 308.6,103.2 331.1,139.2 324.6,73.6 317.9,140.2 324.1,116.8 310.5,140.9 323.3,61.6 330.4,128.6 307.2,125.7 330.9,107.7 315,122.1 317.2,143.5 330.9,75.1 327.3,124.4 316.9,132.5 331.9,97.4 308,115.5 323.9,143.7 320.1,95.6 329.6,133.9 307.7,138.4 315.3,116 319.3,136.6 309,86.2 323.5,104.9 328.6,144.9 330.1,129.9 310.8,73 320,97.3 332.1,120.7 309,120.9 325,65.3 314.4,111 330.1,60.6 322.6,135.8 329.8,127.9 308.5,133.1 322.5,89.4 317.8,144 309.9,85.9 317.5,107.3 325.9,135.1 321.9,142.4 322.2,84.6 314.3,144.5 320,123.5 318.5,93.9 330.2,132.2 329.4,122.1 318.2,131.1 319.9,112.8 314.6,125.3 321.5,101.6 310.5,130.1 331.6,133.2 317.7,108.6 307.4,119 314.7,105.6 331.2,120.9 315,118.7 317,143.2 331.8,121.6 327,116.6 316.3,123.9 311.4,112.5 317.1,103.1 316.6,107.9 329.8,127.8 320.8,65.8 330.6,124.9 332.1,140.8 329.2,112.3 317.5,109.4 317.1,143.1 321,103.9 324.3,111.3 328.6,128.8 327.8,113 315.1,131.1 325.8,128.5 316.7,136.2 326.8,135.8 307.5,126.2 328.6,143.9 324.8,112.1 310.9,72.1 313.5,117.5 315.1,121.9 320.2,119 330.1,130.1 331.7,114 322.4,131.8 309.9,117.5 331.9,136.1 331.5,141.7 309.4,119.3 324,120.6 324,113.6 323.9,94.3 325.5,139.8 307.3,93.7 315,144.9 315.7,111.6 323.6,107.7 309.6,138.2 314.2,87.4 311.6,95.7 308.4,120.6 319.1,131.4 312.3,96.7 319.4,70.7 312.4,132.4 327.2,114.5 310,112.7 326.7,96.9 323.8,120.4 311.2,119.3 316.7,63.5 316.8,119.9 318.7,111.3 324.2,99.2 307.6,125.2 311.4,118 324.8,75 309.5,99.7 328.5,136.3 316.5,141.7 308.1,135.8 326.6,133.2 313.4,123.5 332.4,112.9 330.5,128.7 329.6,96.1 329.5,128.6 309,116 307.9,109.8 317.3,132.1 317.8,141.7 317.5,137.7 322.3,127 327,126.5 327.1,109.4 330.7,124.9 324.3,114.6 329.4,123.2 309.5,111.1 307.8,124.5 318.6,116.2 329.5,93.2 316.9,70.9 310,119.8 310.4,104.5 313,135.2 329,112.2 315.7,120.9 328.9,137.4 331,103.9 326.8,135.9 330.5,133.9 313.6,95.1 312.1,103.1 313.3,126.7 307.6,113.2 330.7,135.4 312.4,136.4 323.1,95.8 314.4,143.1 320.8,134.9 318.2,99.7 325.4,118 312.3,129.9 314.5,72.1 310.7,122.2 315.4,89.9 328.2,128 331.5,118 307.6,139.4 328.5,120.5 325.7,113.3 309.2,130.8 311.2,118.6 329.1,135.4 312.1,75.4 330.1,102.6 320.8,120.7 332.1,111.8 319.9,139.4 310.5,113.3 322.5,138.5 318.4,140.1 309,82.8 327.9,127.5 329.9,120.8 331.5,111.3 323.5,131.1 321.9,137 312.1,126.4 331.5,137.6 325.8,115 324.1,120.7 324.7,98.6 328.4,132 315.9,135 310,118.7 332.2,121.1 308,121 314.1,131.6 319.6,124.3 308.2,129.7 315,113.3 329.2,120.9 323,143.9 321.9,138.8 307.7,104.8 318,120.6 310.3,138.1 317,120.9 317,92.7 317.9,122 315.2,125 326.9,125.9 318.9,122 330.1,135 315.9,124.2 310.8,108.5 316.2,64.2 329.2,136.1 316.3,131.9 327.9,62.5 324.7,103.6 313.7,101.3 312,96.2 310,67.9 318.5,82.5 324.7,144.6 314.6,123.1 331.3,121.6 307.5,120.5 327,136.9 311.5,97.7 332.4,64.2 309.7,143.6 330.5,131.8 317.3,137 314.4,126.7 308.2,82.3 312.7,105.5 316.9,123.4 330.8,141.2 331.6,122.2 309.2,137 321.4,107.4 308,109.8 309.8,116.4 322.7,117.6 320.5,133.7 329.9,126.5 330,104.6 311.2,87.5 323.2,143 327.6,143.7 326.7,140.2 321.5,142.2 320.1,108.4 321.6,142 317.6,143.2 321.5,71.5 329.7,70.1 316,110.8 318.3,121.1 318.3,117.8 329.1,129.1 313.4,132.1 318.3,135.4 326.2,121.7 317.1,112.2 328.8,89.7 320.8,118.9 309.7,132.3 316.5,97.1 310.9,133.6 318.3,92.5 316.4,141.4 315.8,144.4 328.1,93.5 329.9,124.9 326.3,119 326.5,137 329.7,97.1 330.4,121 311.6,90.2 329.9,140 311.3,77.6 314.1,127 327.2,101.2 310.8,110.5 331.6,41.2 330.7,56.8 307.2,102.7 323.3,144.7 330.6,140 320.8,55 320.8,119.6 322,90.2 321.2,46.5 321.9,83.7 324.4,113.3 331.3,129.2 309.3,101.5 313.1,80.8 307.3,138.4 308.9,125 312.3,62.9 330,119.7 315.2,136.3 322.4,110.4 315.1,68 332.1,100.8 312.1,133.1 317.2,131.3 316.5,97.9 312.6,143.1 309.1,68.2 317.1,126.8 312.3,113.1 307.8,116.6 329.6,141.6 315.9,104.1 307.5,110.6 322.8,141 319.3,129.6 324.6,96.7 316.3,129.7 310.7,144.7 323.3,134.3 317.3,141.4 329.3,109.6 315.4,120.4 312.8,139.9 311.9,106.9 313.7,136.4 313.2,123.1 320.4,115.2 316.6,112.8 331.7,135.5 312.3,71.6 330.9,141.1 315.7,102.4 319.4,101.9 331.4,139.2 326.9,139.4 331.1,119.5 320.8,140.7 315.2,130.3 324.2,127.7 324.5,143 308.2,125 309.9,110.4 331.1,123.7 325.4,142.2 328,133 311.9,70.5 331.8,133.8 314.8,131.2 310.7,120.5 316.3,69.9 316.1,145 308.7,116.4 328.6,143.7 329.2,134.8 312.2,134 321.1,124.3 329.2,138.5 316.7,136.6 320,87.1 313.4,90.4 319,128.7 315.1,133.7 328,120.2 311.2,107.5 308,113.2 329.9,119 311.5,121.8 321.1,115.8 325.1,78 315.4,61.6 330.7,140.8 315.7,133.5 312.2,82 308.8,104.1 329.9,135.8 312.6,140.5 329.9,123.5 318.7,135.8 330.8,144.4 309.4,108.5 328.8,80.5 331.9,91.5 325.1,130.6 310.6,126.3 332.4,72.3 327.4,137.1 312.5,116.2 331.7,128.2 309.4,129.6 310.5,137.2 307.6,123.4 322.2,131.3 317.4,116.7 309.4,136.8 319.6,115.8 329.4,137.4 309.5,128 323.3,116.7 311.4,60.5 320.1,117.5 315.8,77.7 314.2,128.3 307.5,111.2 321.8,105.1 318.4,126.5 324.7,109.7 311.9,143.4 332,114.9 307.7,122.8 312.1,123.5 323.4,120.3 310.6,114.6 313.8,125.3 319.9,68.8 326.3,130.2 329,89.2 315.2,130.4 323.8,136.4 307.8,128 329.7,89.5 324.2,62.8 330,112.2 312.5,136.5 319.7,129.8 326,127.5 307.8,78.4 328.4,116.1 325.1,123.3 327.1,123.3 311.3,117.9 326.8,144.5 321.5,129.2 311,119.8 310.5,129.6 328.9,84.3 317.3,85.7 314.1,54.8 316.5,136.5 324.5,128.2 310.6,112.2 311.3,138.1 323.6,122.2 329.8,114.6 324.2,105.7 331.1,136.5 314.3,89.6 316.1,77.8 316.6,125.6 316.3,108.5 314,144.5 327.2,102.1 314.3,135.5 317.7,129 319.1,122.6 332.4,103 315.5,142.4 324.6,86.7 315.5,124.3 327.4,128.7 317,133 307.7,118.9 320.4,93.7 315.7,144.1 313.9,117 314.6,118.3 307.2,142.3 325.6,141.8 321,120.4 323.3,124.6 321.6,128.4 316.8,137.8 318.8,105.5 319.2,114.5 330.4,143.4 316,86.7 311,127.5 309.3,134 315.7,68.5 321.6,64.1 321.9,130 325.6,138.3 323.8,102.8 309.3,127.6 317,107.3 316.5,140.5 310,107 322.1,141.4 326.8,102.7 308.3,66.7 320.6,139.8 310.2,76.8 326.8,125.7 321.3,128.8 308.9,135.2 320.2,140.3 313.3,89.7 312.4,123.4 324,132.7 317.4,114.8 330.6,136.8 330.3,112 328.7,122.9 317.6,113.8 330,110 309,137.9 326.8,128.6 316.3,59.7 329.1,90.4 307.9,108.4 321.7,124.3 308.9,117.5 314.6,120.6 321.5,63.8 310.7,140.5 324.7,122.9 320.1,130.1 312.8,76.9 320.8,134.8 318.5,119.8 308,129.2 325.1,112.6 325.2,111 330.2,114.8 331,109.7 316.5,113.8 323.4,118.8 322.5,69.6 308.5,123.5 325.5,132.6 314.1,130.2 317.9,133.7 322.9,69 319.9,115.2 314.3,132.6 329.2,85.6 309.6,97.4 322.4,83.8 311.9,139 330.6,144.7 330.8,139.1 325.2,99.4 329.5,134.2 326.5,123.1 323.7,142.8 326.1,104 330.2,140.2 312.7,133.1 325.6,137.6 311.7,78.8 318.8,141 315.8,91.9 323.2,49.3 323.3,102.5 330,130.4 328.4,127.2 308.8,75.6 311.6,142.6 308.3,128.9 325.1,77.2 315.9,104.8 331.8,122.6 312.6,133.5 331.4,125.3 326.3,111.6 326.4,91.5 322.5,116 329.5,136.6 313.1,105 329.1,116.9 329.4,137.6 322.5,77.8 323.9,115 313,103.9 319.6,136.6 322,121.2 315.2,120.9 308.3,140.5 331.2,96.2 327.5,124 316.4,142.8 320.6,134.7 322.1,104.9 331.4,117.3 321.3,114.6 325.5,139 327.5,128.2 309.7,130.9 321.9,90.5 330.7,115 328,90.9 330.5,114.3 311.3,132.3 326.8,122.3 314.2,123 329.3,63.4 327,114.9 316.7,102.5 321.8,130.2 319,102.3 331,132.3 321.2,100.9 309.1,109.5 320.7,117.4 307.7,115.1 310.6,107.4 319.6,128.4 318.8,80 308.9,71 315.8,131.7 314.4,123 314.4,125.7 318.4,117 308.1,113.4 308,135.7 313.1,127.1 325.3,61.6 330.9,139.4 326.3,128 309.1,116.8 328,75.1 327.9,115.8 328.5,128.7 325.6,88.5 313.8,127.1 319.7,143.3 318.3,130.2 308.1,142.4 320.8,128.7 313.9,140.8 331.2,130.5 324,122 327.6,113.8 308,140.7 325.2,139.6 327.5,120.5 318.8,130.4 313.6,120.8 319.5,136 321.1,56.4 318.1,141.8 315.2,137 324.1,139 329.7,114.9 314,108.7 329.5,114 308.6,135 324.6,103.1 315.9,137.4 320.4,78 316.1,128.1 309.2,101.5 311.4,73 332.1,107.2 317.7,121.2 331.2,145 320.3,132 329.9,137.8 318.4,66.3 332.2,122.5 319.3,133.1 313.7,36.7 311.6,134.8 309,101.2 310,87.7 324.4,130.3 316.4,133.8 329.3,126 312.2,94.3 330.8,142.5 312,137 314,132.6 315.8,113.3 313.8,141.3 317.7,63.2 327.5,128.7 309,109 313.4,115.5 308.5,71.6 326.8,140 310.2,135.2 320.1,112.1 329.1,133.4 315.2,136.9 310.1,126.7 313.9,116.4 330.9,124.4 309.6,143.7 329,126.7 310.2,127.9 311.3,80.8 326.7,118.6 323.3,127.3 315.3,124.1 324.9,141.1 310.9,101.4 329.5,138.9 321.7,98.4 331.1,108.9 322.2,114.6 321.6,138.6 328.9,84.6 321.9,140.2 309.4,121 322.6,124.9 314.6,123.1 323.3,133.4 332.4,136.1 322.6,139.7 328.3,123.3 316.1,126.4 307.5,134.6 308.4,138.5 307.7,103.1 312.7,107.2 314,136 315.3,111.9 323.7,122.8 326.1,140.3 326.6,132.4 326.2,94.2 328.8,144.7 325.4,140.4 318.8,99.3 317.6,141.8 309.2,128.9 307.5,120.7 328.8,51.5 310.9,125.9 329,117.7 317.3,117.8 308.7,53.7 328.1,121.8 325.2,144.7 332.4,133 320.9,113.1 330.7,107.8 320,108.6 313.8,142.4 317.3,72.8 323.9,120.5 329.7,130.4 327.8,104.9 330.7,135.9 320.8,122.5 318.8,114.9 320.5,96.2 330.8,120.4 316.4,93 308.7,143.4 317.1,76.9 323.6,108.6 328.2,116.6 331,80.1 324.6,136 327.7,72.1 327.7,122.8 327.6,115 322.3,76.7 331.1,84.2 329.7,122.6 307.4,81.7 310.3,141.8 332.3,77.4 324,114.4 310.7,126.2 330.2,107.1 309.4,76 320.8,114.3 317,143.4 314.5,109.7 313.2,117.8 309.4,106 316.7,119.3 309.7,119 323,104.3 315.3,144.6 326.6,128.6 330.9,134.6 329.6,119.4 325.9,123.4 326.9,80.3 309.5,126.7 331.7,79.8 321.7,63.4 320.9,123.2 324.2,143.4 311.9,137.9 319.1,91.8 310.3,101.8 330.4,69.7 319.8,75.4 310.5,69 331.7,128.9 321.9,101.8 326.3,137.9 327.5,139.8 324.8,121.8 318.4,66.6 314.3,132.7 308.5,115.4 323,130.3 310,58.1 316.5,138.5 329.7,105 330,121.1 328,128.4 312.1,123.2 331,91.3 310.7,135 330.4,135.5 326.1,112.8 331.7,143.8 332.1,113.1 320.5,122.6 315.1,136.5 330.4,109.7 315.1,73.6 315.6,124.9 321.6,127.7 310.8,139.1 318.7,132.1 310.7,139.4 318.6,123.9 330.1,118.7 330.4,112.8 331.4,133 325.5,135 326,92.8 318,130.5 329.8,102.4 310.6,140.6 311.4,141.9 310.2,136.6 317.5,132.2 308.7,121.5 325,136.5 311.8,131.2 324.6,130.9 321.4,112.8 324.7,134.6 324.9,134.8 327,123.6 319.3,136.1 321.6,134.1 313.5,93.7 319.8,96.9 309.5,81.7 331.3,144.8 330.7,144 309,85.7 307.5,134.8 317.2,114 320.5,143 319.3,59.3 315.7,134.4 322.9,125 317.3,120.7 317.4,113.1 308,45.1 322.2,132.7 309.3,136.7 328.9,124.9 319.2,101.5 316.1,134.6 323.9,139.7 329.6,110.8 311.5,140.6 317.3,117.2 331.8,137.7 329,133.9 317.1,143.4 316.3,124.2 327.8,62 309.3,93.3 310.2,133.5 321.6,127.2 321.5,130.9 321.6,113.5 326.5,138 329.5,62.8 317.3,138.5 315.4,140.1 328.7,78.7 313.4,136.7 329.3,74.2 325.1,114.7 328.6,127.5 323.3,132.3 309.9,121.1 325.2,108.8 319.7,100.5 311.8,79.7 309.8,128.5 313.8,108.9 310.4,116.6 310.6,103.3 328.5,120.2 331.2,89.4 332.3,143.8 321.3,99.6 321.5,103.8 308.7,121.8 310.2,138.4 326.7,133.1 321.6,112.5 321.5,126.2 326.2,120.7 327.7,126.4 325.1,126.9 307.5,129.1 320.9,106.3 328.3,89.7 327.9,104.8 331.2,126.6 320.3,130.1 320.4,130.2 307.8,144.6 320.1,83.4 321.4,55.1 330.4,137.9 329.5,134.4 308.8,132.6 310.8,140.1 316.9,130.6 326.9,129.2 311.4,134.4 326.7,113.9 322.2,109 329.4,127.9 315.8,115.7 317.4,139.2 308.7,115.8 320.3,136 326.8,114.2 320.2,72.9 320.4,118.9 311,30.5" fill="none" stroke="none" marker-start="url(#mr)" marker-mid="url(#mr)" marker-end="url(#mr)"/><polyline points="403.5,134.1 408.7,104.2 408.3,125.8 402.6,144.8 412.6,84.2 414.1,111 403.3,130.8 399,135 415.1,57.5 409.1,99.2 400.6,105.8 395.5,117.8 401.4,131.5 402.6,131.8 411.9,90.4 409.1,113 404.3,58.8 414.3,126.4 406.2,79.5 413.2,109.5 393,119.2 393.4,136 413.1,100.5 410,137.6 397.9,82.2 394.4,68 393.2,118.7 399.5,88.1 413.8,127.5 396.2,108 397.7,119.5 412.4,94.8 396.1,89.6 397.4,143.5 410.2,110.7 413,92.7 415.2,76.7 392.5,67.4 399.7,123.9 406.8,132.2 399.8,66.3 410.1,106.9 397.1,99.2 406.7,134.2 395.5,82.6 395.2,74.8 411.5,105.3 407.2,58.4 405.7,132.2 400.9,94.2 408.4,81.8 415.4,91.8 400.9,84.5 392.6,131.1 397.9,120.9 411.1,134.4 398.9,135.6 410.4,136.8 396.5,74.6 406.5,110.1 400.6,66.3 404.8,134.3 400.9,72.6 406.4,98.3 410.1,112.5 409.1,125.1 402.3,123.7 392.3,97.7 412.3,107.4 394.1,100.8 401,71.1 411.3,92.4 416.1,114.6 409.7,138.6 394.3,116.6 415.8,128.9 392.6,107.8 392.3,125 410,67.2 414.6,109.3 407.6,127.2 413.5,133.7 407.8,115.3 393.5,85.7 407,85.3 410.7,130.8 403.9,136.4 409.3,115.4 403.2,64.3 394,107.8 413.2,105.9 396.6,59.1 396.6,139.6 394.7,106.3 400.1,75.7 401.5,79.5 396.4,95.9 395.5,97.4 402.8,111.2 391.7,72.2 403.8,77.7 394.1,138.7 394.8,90.9 394.4,129.4 412.8,135.6 412,92.5 416.3,132.1 411.7,111.1 404.2,69.4 401.3,140.8 406.2,130.5 407.3,69.8 416.4,108 399.9,94.7 414.2,78.9 415.4,142.6 415.5,66.5 407.2,134.6 406.9,138.4 416.6,136.7 401.8,59.4 411,128.2 393.4,123.7 397.4,65 404.1,132.5 410,101.5 395.9,130 412.1,103.6 405.9,136.6 394.8,116.1 392.4,112.3 401.4,118.2 412.2,144.7 416.1,106.7 410.6,132.3 397.1,126.3 414.1,96.8 395.3,85.7 401.4,128.6 408.3,79.6 399.9,133.1 399.7,78.1 402.3,123.3 414.2,114 403.2,114.4 393.6,131 400.4,57.1 406.2,141.8 405.1,77.3 415.5,130.4 404.2,116.5 411.4,87.4 410.3,143.9 403.2,134.7 402,96.2 403,136.7 394.4,122.8 393.6,64.1 394.3,87 394.7,120.6 393.5,133.9 401.4,123.2 395.1,92.7 416.1,143.9 401.7,119.8 391.5,140.5 408.1,87.2 409.5,112.1 415.3,131 397.6,69 399.4,132.8 410.3,75.2 407.2,60.9 407.2,117.4 415,118.6 416.6,105.8 391.6,131.7 401.2,75.3 415.2,141.9 391.8,122.1 400,129.6 410.7,134.4 393.3,113.1 406.2,90.6 414.6,130.6 404.9,136.2 391.5,120.8 394.3,74.8 401.7,127.1 391.7,144.2 408.1,123.2 398.2,124.2 400,131.3 411.2,64.6 409.9,122.3 411.6,144.2 396.2,91.2 400.1,76.7 407.5,91.1 404.1,104.2 411.8,121.8 401.8,135.7 414.4,96.5 397,78.2 407.9,101.1 411.6,96.1 416.4,97.6 400.9,91.9 413.7,120.5 406.6,87.1 407.6,58.7 397.9,120.9 413.6,141.1 393.1,125.2 416.4,93.2 405.7,145.1 406.1,106.5 395.8,77 408.5,72.9 395.3,115.9 412.5,138.8 410.3,109.9 395.7,97.6 411.3,94.7 407.4,121.6 398.9,103.9 408.1,103.3 409,97.3 404,83.5 408.9,131.1 411.4,98.3 413.9,98.9 412.4,113.7 394.1,89.3 413.1,104.2 415.4,137.6 403.6,121.7 414.3,140.4 397.1,76.7 392.4,74.5 402.7,133.5 394.4,122.9 394.7,45.9 402.6,136.9 416,132.7 404.5,118.3 416.3,107.3 404.2,131.5 403.1,90.2 391.9,115 393.5,91.7 413.5,123 408.8,99.3 405.6,92.5 413.9,98.3 407.8,119 398.5,139.8 413.3,82.7 409.8,125.7 393.4,85.4 412.4,113.1 400.6,75.9 412.7,137.3 412.3,120.8 414.3,116.2 394.3,102.2 410,69 399.3,139.5 413.1,136.7 394.3,126.4 413.5,94.6 416,126.5 404.4,90.2 405.3,120.8 406.8,118.4 414.1,124 393.6,74.9 412.9,131.9 400.2,133.4 401.6,75.7 413.4,111.5 394.5,78.4 395,143.6 408.6,105.4 409.8,105.9 397.1,111.9 408.9,103.6 400.4,139.6 392.1,142.5 398,64.6 395.5,88.4 402.8,82.7 402.8,100.7 401.1,139.2 414.4,109.7 401.1,131.7 396.2,114.7 415.3,103.6 407.6,78.9 415.4,100.6 402.8,58.8 406.7,137.4 399.7,120.6 415.7,133.6 398.4,111.1 414.9,142.3 400,131.5 410.8,131.3 407.7,131.1 411,132.4 396.5,119.2 416.6,133.6 403.9,85.7 393.3,133.7 408.6,68.8 393.4,64.2 407.8,133.8 409.5,86.5 396.5,133.5 394.3,142.7 394.8,100.4 408,128.9 410.3,135.5 414.6,116.4 399.6,141.7 393.9,126.3 407.3,124.7 412.5,83.3 409.7,62.7 403.8,144.5 398.2,110.3 409.8,103.5 413,105.9 396.9,129.6 409.3,108.4 410.9,121.4 416.6,139.4 400.9,116.8 401.3,142.9 392.5,86.2 395.4,132.8 410.2,84 398.3,87.1 414.4,98.5 399.4,110.2 411.5,126.3 400.5,100.2 410.5,125.7 402.5,141.6 396.7,84.4 396.6,144.8 398.6,89.3 394.4,124.9 413.3,120.6 414.7,82.2 411.5,65.1 391.5,120 413.7,118.9 411.5,142.4 412.7,111.2 407.3,69.4 396.6,140 398.9,90.6 401.2,126 396.1,87.3 392.1,77.7 415.5,76.6 401.2,99.6 406.8,109.2 394.1,74.6 413,91.2 410.4,93.5 392.4,68.6 396.5,81.4 410.2,112 392.8,104.1 392,127.5 394.4,128.4 395,84.2 410.9,123.5 411.2,91.3 405.8,141.4 399.1,132.6 411.2,121 407.4,99.2 392.9,131.8 396.2,123.4 409,122.9 405.7,81.9 401.3,86.9 404.8,68.5 397.5,141.7 406.2,142 394.9,104 416.3,138.4 412.2,60.3 403.9,59.9 416.1,97.7 408.5,77.9 406,124.4 407.7,139.9 409.1,139.1 416.4,116.4 411.2,121.9 397.4,144.5 392.9,139.2 414.6,86.8 410,126 406.1,120 403.8,105.9 415.4,103.6 392.5,130.3 395.3,117.4 399.4,128.9 416.6,93.5 408.9,120.3 406.6,73 400,79.6 395.4,144.3 391.8,141.7 395,130.8 395.8,118 404.3,79.8 400.6,126.4 416.1,135.6 414.7,69.4 405.4,138.2 395.6,85.7 399.4,62.6 392.1,130.4 408.1,106 401.1,111 414.8,100.5 399.4,68.7 412.9,121.9 401.3,68.1 407.9,141.5 400.4,114.4 411.8,113.1 397.1,136 395.4,130.3 392.7,125.6 401,112.7 409.9,106.5 403.1,90.7 412.7,87.5 406.2,135.1 404.9,92.3 404,99.6 392.4,129.2 406.3,143 396.2,85.9 393.5,138.5 394,114.1 395.6,98.6 407.1,102.6 398.6,115 398.8,101.2 401.8,144.2 415.6,133.4 397.9,103.6 399,40.7 397.7,122.3 399.3,103 398.9,68.7 412.4,139 416.1,117.9 401.3,139.7 413.3,115.2 394.1,67.4 403.6,64.6 412.2,125.8 393.7,115.6 416.6,60.8 401.5,127.7 404,112.6 415.3,117 414.6,60.2 396.7,63.6 402.9,121.6 410,71.7 403,143.5 415.1,66.2 396.4,98.3 416,113.4 407.1,71.8 406.9,68.6 408.7,100 398.1,76 402.6,128.4 396.9,110.9 411.7,134.3 399.8,100 395,84.5 413.9,71.2 400.1,131.8 415.4,60.3 402.6,106.6 407.8,127.8 411.2,102.6 404.4,118.2 415.2,98.3 411.8,140.9 413.9,109.2 404.8,111.8 394.7,119.4 395.8,94.9 395.1,130.7 404.9,143.1 415.4,127.2 405.4,132.2 402.2,103.9 394.2,104.7 400.9,85.9 396,113 402.9,79.8 403,75.1 415,85.8 401.4,84.1 413.7,141.9 392.4,118 400.1,104.8 409.6,138.5 402.7,140.2 393.4,64 400.4,124.8 405.4,112.6 415.5,126.2 397.4,121.9 393.7,43.5 410.5,112.1 406.9,138.5 400.2,83.1 401.3,98.6 399.7,136.4 408.1,125.4 413.3,116.2 399,128.5 414.4,92.3 402,135.1 403.8,106.2 397.9,91.8 393.6,109.8 396.5,67.6 397.7,125.5 402.4,138.1 403.9,122.6 412.7,139.4 400.5,137 410.7,131.4 397.8,130.2 403.5,88.5 393.3,72.6 413.9,113.6 400.3,112.7 407.6,115 405.6,144.3 403.7,107.2 397.4,100 412.2,117.2 403.3,69.3 394.7,65.3 393.9,75 404.1,136.2 405.7,131 398.4,114.5 397.3,107.9 412.4,132.2 408.7,67.2 395,126.9 411.8,117.3 392.8,69 412.7,144.1 412.5,107 394.5,88.5 416.4,105.6 414.1,114.2 395.9,82.3 407.9,121 403.1,93.6 395,101.3 396.6,122.3 396.6,133.2 408.4,86.9 405.8,118.9 415.9,104.3 399.1,69.5 403.5,133.1 400.8,144.3 401,123.6 406.1,70.4 411.2,142.5 408.7,136.6 394.3,143.5 398.4,70.6 407.2,139.6 410.6,123.4 413.3,142.8 400.5,128 403,96.1 392.6,105.9 404.5,127.5 399.1,89.9 404.7,120.5 406.6,141.4 395.7,118.6 393.3,82.5 409.4,126.1 409.6,137.8 416.3,121.4 404.1,106.4 393.1,92.8 393.3,63.5 415.9,75.4 410,89.2 395.6,116.9 402.1,130.2 396.3,115.1 411,144.3 409.9,128.4 414.8,126 408,126.7 401.6,120.5 414.4,62.2 401.1,126.5 410,65 396.9,37.4 398.4,95.7 406.7,111.9 398.8,138.7 413.1,67.6 404.4,121 414.8,102.6 406.6,56.5 405.9,72.5 404.2,104.3 396.3,129.9 400.2,144.7 414,143 408.5,75.1 410.8,103.8 401.9,134.2 396.5,124.9 411.5,110.5 401.9,109.6 411.1,119.6 393.1,129.6 400.3,112.6 407.8,140.7 397.5,28" fill="none" stroke="none" marker-start="url(#mt)" marker-mid="url(#mt)" marker-end="url(#mt)"/><text x="462.0" y="11.4" font-family="&quot;Liberation Serif&quot;, serif" font-size="14">C</text><text x="499.0" y="15.2" font-size="18.9">Tumor number</text><text transform="translate(472.8,116.9) rotate(-90)" font-size="15.9">HSP90α</text><path d="M498.5 22.0V155.0H683.7" fill="none" stroke="#7f7f7f" stroke-width="1"/><path d="M496.5 149H498.5" stroke="#555" stroke-width="0.8"/><text x="495.7" y="153.5" font-size="12.5" text-anchor="end" fill="#000">0</text><path d="M496.5 109.7H498.5" stroke="#555" stroke-width="0.8"/><text x="495.7" y="114.2" font-size="12.5" text-anchor="end" fill="#000">200</text><path d="M496.5 70.4H498.5" stroke="#555" stroke-width="0.8"/><text x="495.7" y="74.9" font-size="12.5" text-anchor="end" fill="#000">400</text><path d="M496.5 31.1H498.5" stroke="#555" stroke-width="0.8"/><text x="495.7" y="35.6" font-size="12.5" text-anchor="end" fill="#000">600</text><path d="M549 155.0v2" stroke="#7f7f7f" stroke-width="0.8"/><text x="549" y="166.2" font-size="12.5" text-anchor="middle" fill="#000">1</text><path d="M633.2 155.0v2" stroke="#7f7f7f" stroke-width="0.8"/><text x="633.2" y="166.2" font-size="12.5" text-anchor="middle" fill="#000">≥ 2</text><rect x="519.5" y="125.2" width="58.9" height="23.8" fill="none" stroke="#555" stroke-width="0.7"/><rect x="603.8" y="115.3" width="58.9" height="33.7" fill="none" stroke="#555" stroke-width="0.7"/><path d="M549 105.4V145.1M540.6 105.4H557.4M540.6 145.1H557.4" stroke="#333" stroke-width="0.6" fill="none"/><path d="M633.2 88.4V142.2M624.8 88.4H641.6M624.8 142.2H641.6" stroke="#333" stroke-width="0.6" fill="none"/><text x="541.7" y="31" font-size="8.6" fill="#000">T</text><text x="554.5" y="31" font-size="8.6" fill="#000" textLength="50.3" lengthAdjust="spacingAndGlyphs">test, p < 0.001</text><polyline points="554.2,86.7 542.4,136.8 552.8,94.8 549.7,124 552.8,135.4 558.9,141.6 554.4,91.5 551.9,124.8 553.6,139.3 549.4,143.8 561.5,78.3 557,72.8 540.4,122.2 540.3,131.2 547.4,143.6 559.7,129.1 540,137.9 542.4,131.4 561.6,88.7 555.3,121.1 550.1,106 540.6,123.3 537.2,144.6 544.7,130.2 541.2,133.4 558.7,73 549.5,136.5 549.2,103.7 551.9,136.7 548.9,128 542.4,92.3 554.9,120.1 555,125.1 559.3,138.6 548.7,142.2 539.7,95.6 560.7,134 536.8,106.5 540.4,140.9 554.3,134.6 558.2,132.3 560.2,105.9 551.4,122.6 543.4,124 537.2,96.9 555,73.6 552.6,137.1 539.3,89 555.2,141.1 560.4,129.4 541.1,132.7 551.6,132.1 547,140.9 551.9,123.8 539.4,107.1 559.1,119.9 543.8,84.6 552.6,133.6 542.3,135.6 540.9,122.3 560.6,130.9 542.9,128.8 560.5,129 558.1,126.5 550.5,124.3 550.6,79.2 537.2,111.9 555.9,95.4 553.6,142.5 551.2,132 556.9,113.1 548.3,114.7 546.1,120.5 555.1,138.6 548.9,134.9 551.7,138.5 540.2,100.1 541.5,139.6 541,72.8 556.7,120.8 561.5,140.4 561,139.5 550.3,137.2 556.2,122.4 539.4,62.8 544.7,118.2 560.1,116.6 543.9,132 540.4,125.7 547.3,131.1 555.8,144.8 561.3,123.2 537.2,130.4 552.5,133 557.6,102.5 557,97.3 559.6,141.4 552.7,132.3 557.8,117.8 546.6,137.3 551.3,141.9 550.3,114.4 547.6,87.5 547.7,127.8 554.3,127.3 540.2,136.7 557.4,138.3 554.3,112.4 541.5,112.2 545.2,90.5 557.6,134.9 547.1,65.7 557.8,137.9 546.5,55.3 561.5,141.9 546.3,129.7 561.2,120.7 546.1,124.5 547,132.5 540.8,119.7 556.2,128.7 538.4,120.8 556.1,113.8 549,138.1 558.1,102.7 552.1,131 560.3,124.5 549.4,144 542.1,104.6 559.7,134.9 559,114.6 557.6,142.6 551.5,119.8 543,137.1 536.8,133.8 556.9,127 553.1,104.7 547.5,122.8 549.4,125.9 556.3,130.2 542.2,125 536.9,124 538.8,124.3 561.4,144.6 541.7,129.5 561.1,126.9 537.1,139.6 553.4,126.2 549.7,130.3 548.9,141.1 536.4,101.5 550.7,136.5 552,135.4 557.5,126.3 557.4,141.8 556.9,139.8 537.9,136.3 558.5,131.9 549.6,103 558.3,142.5 559.3,142.8 538.4,74.4 546.7,136.4 549.2,142.3 551.6,140.2 560.1,123.1 537.3,87.3 551.6,115.7 548.8,131.9 539.8,106.7 553.7,98.5 554.8,92.3 539.3,138.9 539,125 548.7,120.7 560.6,132.8 557.4,140.7 553.2,122.4 546.4,116.1 560.4,136.7 548.4,128.6 539.9,142 551.5,136.7 538.7,132.1 558.2,141.3 549.1,125.3 555,60.7 557.9,114.9 556.3,129.5 556.4,122.4 556.2,125.9 546.1,126.4 537.1,124.4 542.8,133.7 552.8,120.7 544.4,134 561.3,137.1 544.4,134.8 554.3,138.9 539.5,121.2 547.9,128.6 556.7,94.2 559.4,81.5 538.2,132.1 556.7,142.9 560.8,138.2 537,141.8 556.9,105.6 537.5,143.1 553.5,83.1 561.3,134.7 538.5,119.8 555.2,91.8 539.2,144.7 551.1,131.4 545.1,127.5 550.5,111.8 555.5,129.3 541.3,95.5 544,109.7 539.3,137.9 546.7,134.9 538.4,106 537.1,137.7 554.9,112.7 554.2,75.2 537.1,138.4 552.9,130.2 553.4,109.4 545.1,118.3 543.8,122.7 542.2,127.5 551.6,144.2 539.8,101 550.2,93 546.6,132.3 549.3,131 555.6,128 542.1,128.2 544.3,141.3 548.6,143.7 544.6,126 553.6,144.2 540,144.8 559.5,127.2 560.2,124.8 539.6,133.6 548.7,62.7 545.1,126.9 545.1,145 541.4,134.2 550,139.9 556.7,135.4 542.4,129.5 556.2,108.7 555.3,75.6 552.3,83.1 558.8,137.5 551.6,134.8 556.6,109 560.5,120.3 558,126.3 550.9,140.2 543.8,140.4 551.6,131.7 554.6,73.2 554.6,133.3 546.4,124.8 555.3,135 544.8,143.4 539.6,141.7 560.6,122.9 559.6,129.1 547.1,120.9 550.3,133.7 536.8,126.5 560.4,126.9 545.3,118.7 551.8,124.9 539.8,139 539.9,123.3 551.2,121 553.4,131.8 561.1,135.3 554.1,144.2 551.8,139.4 551.7,123.6 543.3,117.1 545.7,143.3 552.2,111.3 539.8,143.6 544,136.9 540.6,118.5 537.3,143.2 547.8,81.6 545.8,139.3 550.5,101.7 546.5,118.5 538.2,139 558.1,144.9 537.4,143.5 536.9,120.1 537,143 556.3,125.5 545.7,109.7 560.3,142.5 544.4,64 546.7,137.5 554,143 560.3,123.8 559.5,141.8 545.9,143.7 553.6,113.5 537.9,142.1 550.8,138.8 552.7,122.9 543.4,102.9 553,116.9 544.1,127.9 555.8,93 538.2,102.6 549.6,141.5 560.4,127.2 552.3,139.4 560.1,92.2 560.3,90.1 555.7,126 556.7,128.7 554.9,141.7 549.3,137.7 556.3,130.5 556.3,86 558.2,144.5 536.6,67.6 537.3,128 548.1,143.5 554.5,121.1 547,137.1 546,134.2 536.9,138.1 551.7,119.3 560.5,109.8 551.9,111.9 542.6,135.5 552.4,126.4 545.7,138 545.6,123.5 537.8,102.6 554.4,120.4 536.4,135.5 557.6,137.5 536.6,132.8 556.1,121.6 545.2,66.9 545.2,105.7 548.8,133.4 541.1,138.9 541.6,104.6 554.4,144.5 559.3,142.5 539.9,140.3 543.3,97.8 561.2,141.3 553.7,131 559.6,106.7 546.1,142.5 555.8,112.3 554.3,85.6 555.2,142 548.4,144.9 543.8,111.7 545.6,93.6 540,81.6 538.4,126.5 546,139.6 558,126.3 544.7,138.6 550.6,140.9 557.2,142.8 539,136.3 545.7,110.9 545.7,101.9 554.4,128 559.2,137.1 536.6,133.4 550.1,130.1 536.5,138.1 544,137.1 546.5,144 543.5,138.1 546.8,101.4 545.5,134.7 549,143.4 542.7,138.1 546.2,135.5 541.9,131 547,122.7 554.3,121.5 537.2,129.5 561.6,140.3 540.2,140.6 556.4,134.9 543.7,74.2 538.2,137.1 556.3,141.6 550.7,128 543,122.7 546,68.9 558.2,132.5 554.2,128.5 543.4,139.2 542.4,130.2 550.7,121.1 539.4,124.7 542.2,141.8 556.7,117.1 554.7,122.2 537,81 547.7,127.9 546.5,144.7 555.1,114.3 547.1,55.8 542.1,119.2 557.6,138.1 541.3,127.1 552.7,137.5 543.5,86.2 552,127.2 540.8,134.9 558.5,139.6 545.7,139.4 553.6,140.5 555.3,126.2 548.2,123.6 550,145 539.4,112.4 550.1,134.7 549.8,137.7 559,110.2 545.3,133.9 540.3,121.1 546.6,119.7 556.2,118.2 536.7,127.7 537.3,126.7 561.6,98.4 550.4,132.3 554.5,124.4 548.2,141.3 541.3,144.7 553.2,112.3 542.5,120.8 547.8,137.6 541.7,121.3 559.3,126.8 546.3,134.2 553.9,130.7 541,132.5 551.8,130.3 543.9,110.1 539.4,142.6 544.4,132.4 538,103.2 551.6,143 550.4,98 558,142.5 537.1,125.9 546.7,130.9 561.3,140.2 545.2,121.3 537.9,124.3 556.6,118.1 538.7,126.5 554.4,144 549.7,137.8 558.5,137.5 549.4,141 553.5,125.3 542.9,139.2 561.2,134.5 541.7,109.9 557.5,142.8 553.6,123.4 548.6,126.9 545.8,133.7 538.5,126.1 556.4,131.6 542.1,139.4 558.4,136.9 558.8,128.5 541.7,127.2 543.7,110.3 554.3,72.9 555.7,128.2 537.6,139.3 557.2,130.6 557,133.4 552.1,139.2 558.9,122.7 561,99.4 541.6,141.8 560.2,126.1 558.2,142.6 551.2,127.4 539.2,127.3 560.7,121.1 555.2,126.8 545.7,127.5 544.5,112.1 560.4,137.9 542.2,108.9 557.1,128.8 547.6,91.1 554,87.2 557.1,133.8 538.9,107.7 543,96.6 539.3,72.6 546.5,135.4 540,117.2 559.5,103.4 556.3,137 551.1,144.6 541.2,107.6 541.7,118.8 551.3,112.8 559.3,127.9 560,128 559.9,90.5 544.5,138.3 554,123 549.5,61 550.4,123 553.5,131.8 543.8,134 543.2,139.5 546.8,139.9 542.3,105.8 558.1,125.2 545.6,125.1 537.4,129.4 552.4,129.8 561.3,139.7 550.3,88.6 543.5,132.5 559.2,125.5 552.3,127.9 552,65.5 548,140.7 555.9,138 553.3,95.1 550.2,117.7 544.8,139.1 556.2,131.7 559.4,128.1 538.7,135.9 537.1,121.2 538.9,143.2 558.4,141.6 552,116 546.4,126.1 561,106.8 560.2,139.1 547.1,127.5 545.7,143 549.8,133.6 551.4,121.6 557.7,143.4 558.6,143.1 543.6,78 558,114.7 538.3,75.5 541.7,100.1 547,137.4 538.3,131.7 545.2,134.9 537.1,136.1 556.7,122.7 553.5,122 543,127.5 549.6,139.7 546.2,116.5 557.1,143.4 543.8,95.6 542.4,128.4 556,137.2 555.5,67 554.2,140.8 538,141.1 537.4,139 559.9,120.2 561,140.5 541.6,120.7 548.2,46.6 553.9,48 559.1,46.6 544.6,58.2 547.6,58.2 550.8,58.2 554.3,58.2 558.1,58.2" fill="none" stroke="none" marker-start="url(#mr)" marker-mid="url(#mr)" marker-end="url(#mr)"/><polyline points="644,90.6 621.7,132 642.8,142.6 621.8,87.7 635.7,117.7 625.8,143.6 638.7,141.8 639.5,93.7 641.2,106.4 628,88 624.6,68.4 639.8,102.4 637.9,143.6 632.1,117.9 631.5,131 633.3,116.4 644.7,69.3 623.8,102.6 635.6,130 642.3,122.9 623.2,132.3 639.4,124.5 641.3,124.5 626.9,133.8 629.3,102.1 631.4,128 645.6,95.1 643.5,107.6 644,100.8 629.9,109.6 642.9,84 633.1,88.8 635.7,70.4 637.2,100.5 639.2,105.9 629.1,131.3 630,141.1 623.7,106.1 642.6,143 632,125.1 644.8,143.7 627.3,100.4 636.5,91.7 645.8,123.5 638.2,127 643.2,143.8 644.2,90.2 634.1,141.7 625.2,70.2 636.5,84.4 637.1,115.4 628.7,110.2 625.2,108 629.4,136.2 640.3,137.7 628.6,124.4 640.7,128.3 629.7,92.4 640.9,101.4 636,70.2 644.3,108 626.3,136.4 640.1,136.5 631.9,85.7 625.8,88.3 624.8,108.1 626.8,101.4 637.7,119.2 642.1,107.7 628.3,78.6 629.2,121.1 623.7,63.9 634,122 623.4,111.5 628.5,110.4 643.5,97.8 633.7,111.2 628.4,112.6 639.6,88 620.6,99.8 639.3,137.2 641,116.9 632.9,120.4 626,136.9 626.2,124.1 643.3,79.9 638.7,109 645.2,116.8 625.4,141 631.2,94.1 640.3,142.7 635.4,104.5 632.8,88.4 623.9,125.4 644.4,127.4 625.9,94.9 638.8,119.4 635.8,110.5 640.4,115.1 640.1,113.3 632.2,92.3 634.2,118.7 622.6,69.5 639.6,133.2 627.7,84.7 623.6,125.6 621.7,105.7 628,137.4 623.9,62.1 624.9,108.1 630.8,137.3 629.3,79.3 627.4,108.1 625.1,130.7 636,61.1 634.2,111.3 630.5,108.1 625.5,109.2 640.4,78 623.2,127.9 630.2,85 625.8,131.9 638.9,98.8 634.1,132.5 643.6,109.2 637.4,89.3 636.9,106.3 622.6,102.1 620.9,92 636.8,117.8 640.4,141.8 642.4,138.5 645.6,92.7 642.7,79.9 634.5,128.1 638,108.4 629.5,76.2 645.3,123.6 645.2,135.6 638.5,74.8 626.4,130.1 634.8,100.7 637.9,61.4 641.1,79.2 636.9,124.6 640.8,139.6 640.2,103.1 637.1,115.9 623.5,142.5 639.2,120.5 632.4,82.4 640.8,112.1 623.3,121.5 633,98.1 628.6,69.6 632.8,98.8 645.4,132 640,70.2 642.8,125.5 641.8,106.9 622.2,121.9 638.8,141.7 639.4,95.4 639.7,141.7 627,136.9 630,137.9 637,144.4 627.5,119.8 633.4,98.7 631,122.9 622.5,105.3 622.4,117.4 625.8,137.2 632.1,122.7 643.7,108.6 639.9,93.3 628.4,83.4 640.4,111.3 641,125.9 644,120.4 638.3,117 636.2,123.1 637.5,75.8 622.5,74.4 635.6,142.5 621.7,136.4 636.6,93.7 637.4,138.5 630.1,69.7 625,94.1 633.6,143.2 624.5,124.2 630.2,69 638.4,76.9 621.4,94 644.2,80.4 643,98.9 629.8,70.3 641.4,123 641.2,132.8 638.5,127.7 631.2,88 629.7,120.8 625.7,119 640.9,143.2 637.6,84.4 645,135.5 636.2,127.2 620.7,82.5 625.7,108.3 621.7,88.1 627.9,86.3 635.1,139.9 634.5,87.9 635.9,87.1 629.9,97.9 643.7,80.5 631.6,104.2 626.6,140.8 631,71.9 630.3,103.6 625.1,93.7 635.1,141.2 633.9,113.8 621,101.5 628.2,142.2 623.5,120.3 629.2,92.5 624.8,88.3 622.3,140.8 630,93.7 621.6,118.5 622.3,103.2 638.9,118.9 626.2,107.1 639.9,103.8 631.1,63.5 635,126.9 641.7,93.8 623.3,115 621.2,118.8 629.5,132.5 644.7,117.9 629.7,76.3 630.9,61.1 635.9,74.3 620.6,107.5 635.6,81.7 637.2,131.5 643.5,121.8 636.9,114.9 637.4,106.9 623,105.5 631.8,79.3 625.9,116.2 628.3,82.5 622.5,119.4 630.4,67.3 624.4,115.9 628.2,132 621.4,79.9 645.2,131 630.9,132.8 629,105.5 638,41.6 639.5,112.2 637.7,111.4 628.6,139.1 634.3,84.2 631.5,124.8 639.7,123.3 630.5,123.1 643.9,108.5 631,143.5 626.1,57.2 642.5,88.1 622.3,103.3 645.7,105.7 645.6,82.4 633,108.5 628.6,57.6 623.4,96 632,116.3 638.8,77 625.8,127.8 637.9,135 628.4,93.7 634.3,98.5 640.6,103.9 632.8,139 637.2,124.5 629.4,143 635.3,47.8 641.1,85.6 642.9,54.3 644.6,112.3 627.8,112.5 623.2,113.3 621.3,122.9 624.5,127.1 638.7,136.9 625.4,121 639.9,103 622,93.9 640.4,112.1 630.9,72 624.6,87.4 635.6,101.4 639.6,130.2 622,96.7 631,137.2 623,91.2 644.7,121.1 631.4,117.9 632.4,139.9 635.7,125.8 641.3,113.5 644.3,133 630.8,137.4 631.2,107.3 641.7,89.1 639.2,135 637.8,75.4 640.9,144 644.1,95.8 621.9,68.1 635,125.7 627.3,123.4 643.8,116.5 621.1,51.1 630.7,102.2 632.5,93.4 622.6,97.5 629,125.9 630.2,126.5 623.2,63.5 640,111 629.5,59 632.3,131.6 640.9,84.3 643.7,62.5 627.1,68.4 639.6,69.6 628.1,136.2 644.6,87.4 643.9,107.6 633.1,71.6 622.9,88.5 642.1,47 637.9,129.8 640.6,94.7 633.6,81.1 644.9,59.8 629.6,141.4 640,119.2 623.1,82 643.8,107.2 629.1,113.7 624.1,79.4 631.2,61.5 623.9,111.6 635.1,97.5 636.6,96.8 626.6,73.2 622.9,87.6 642,78.6 637.8,73.8 636.2,60.6 644.9,127.1 623.3,98.8 633.9,110.2 621.9,86.8 642.5,127 641.9,90.7 630.6,96.7 635.5,91.6 639.3,115.5 637,130 638.2,114.4 627.3,130.2 638.9,114.1 639.4,136.7 632.9,103.3 634.3,134.5 630.9,63.5 636,85.4 643.6,96.2 621.5,74.3 640,71.2 639,55.3 631.5,130.5 625.9,142.9 636.4,137.3 639.9,96.5 624.5,97.4 634.8,124.7 639.4,106 627.3,127.1 641.4,68.7 634.4,103.2 622.5,110.6 641.6,125.2 621.4,89.7 641.4,64.8 634.5,94.3 620.7,78.9 624.4,135.4 623.8,98.4 636.9,129.1 640,75.6 629.8,86.7 636.9,144.6 634.8,87.4 642.3,118.5 626.7,84.5 623.8,76 630.9,115.6 641.7,89.2 627.1,129.4 641.2,109.1 622.8,90.6 642.3,122.3 631.9,87.4 641.6,135.4 632.4,81.5 633.9,142.2 638.2,36.9 624.8,117.5 621.2,143.2 630.4,124 624,140.1 626.3,131.1 624.8,85.4 623.6,85.4 642,138 636.3,130.1 629.5,135.3 643.1,86.2 620.8,89.9 643.6,120.6 640.8,98.5 632.4,142.3 644.2,124.2 629.4,133.3 624.1,80.3 623.1,118.6 639,98.6 628.1,120.8 627.3,80.7 640.9,129.2 642.6,106.3 630.3,80.5 629.3,67.1 633.6,66.3 630.8,79 642.8,41.2 634,103.9 627.3,67.9 620.7,92.1 644.5,134.3 629.1,54.5 644.4,118 643,107.6 631.4,126.8 626.4,129.6 638.8,85.7 623,127.2 622.2,144.2 621.3,141.4 634.9,70.7 640.3,55.5 636.9,113.6 644,80.5 622.6,105.6 639.1,127.5 638.3,113.6 638.8,79.9 633.6,101.3 624,54.6 629.3,127 626.7,87 644.8,77.2 640.2,113.3 643.7,98 635.2,120.9 622.1,88.9 639.4,81.1 629.7,144.1 637.1,143 631.7,97.1 634.9,46.2 624.7,93.7 643.3,65.2 628.5,121.6 642.3,127.7 643.5,101.1 635,136.3 624.7,133.4 630.7,119.4 633.4,96.7 627.9,114.7 622.5,119.6 644.6,121.6 635.9,124.6 633.5,104.5 623.1,58.9 633.8,122.2 641,106 625.2,106.3 643.7,83 625.7,137 623.9,134.7 640,119 625.3,113.2 642.9,142.6 627.3,92.7 622.8,119.3 636.2,108.9 621.1,83.7 623.4,132.8 635.4,124.5 639.3,111 633.3,141.4 641.6,137.7 624.9,92.9 640.8,142.8 631.9,126.2 642.2,142.7 624.1,141.7 634.2,100.1 623,101.9 624.9,117.1 629.5,137.5 634.6,143.2 634.8,73.3 626.7,94.1 628.3,97.3 645,115.5 621.3,93.4 630.7,71.4 642,82.1 637.8,142.6 635.2,102.4 624.5,73.5 627,107.7 645.7,107.5 634.9,120.8 627.9,82.7 644.1,106.8 641.2,90.3 639.7,142.3 626.5,74.1 630.8,56.1 641.9,123.2 627.7,65 644.9,123.9 631.1,116.6 633.3,72.7 639.9,85.4 623.1,118 636.3,64.8 635.8,104.1 624.8,84.8 624.9,94.8 621.3,132.9 629.9,134.8 636.8,93.9 622.4,88 633.6,131.2 625,44.8 641.3,117.7 622.4,135.4 620.7,92.5 637.4,101.6 629.5,80.3 643.6,89.6 630.4,97.5 640.6,123.8 632.7,87.3 633,92.5 630.4,120.5 638.2,143.4 621.4,140.5 641.1,130.1 637.3,114.6 639.1,137.1 623.2,128.8 638.7,111.9 633.6,86 638.7,91 633.9,127 643.1,40.5 641.1,120.5 635,82.8 645.5,144.1 633.7,134.3 629.3,83 642.4,105.9 625.3,88.2 640,116.2 634.4,125 645.4,121.4 621.8,127.3 628.1,94.3 643.9,80 635.3,109.6 625.9,136.6 638.3,113.5 633.1,134.8 635,103 625,137.5 621.4,43.8 643.5,69.8 637.4,78.1 645.1,93.1 633.2,114.8 627.4,109.3 621.9,135 634.7,126.9 640.3,133.6 644,133.9 630.1,116.7 627.4,138.6 626.6,88.6 644.2,114.1 637.7,84.1 634,142.3 643.8,91 639.4,83.9 634.1,73.5 640.1,124.4 637.4,140.3 639.6,108.3 629.1,96.6 638.4,109.1 624.7,71 621.7,136.8 633.2,140.4 639.9,80.2 626.2,142.2 643,136 632.4,122 637.4,140.7 642.6,134.3 640.8,119.9 637.1,84.1 627.6,94.9 625.1,109.6 635,132.5 635.5,79.2 635.7,90.2 630.6,95.9 625.1,126.1 644,135.8 637.7,125.7 638,136.8 621.2,31.7 634,40.7 634,89.1 622.5,134 626.1,109.7 624.6,103.2 636.2,71.7 642.6,83.7 636.5,138.5 628.8,126.6 642,127.4 634.5,99.6 641.3,134.4 635.3,87.9 624.6,67.6 631.4,110.4 627.3,126.8 628.5,132.5 622,132.9 640.1,55 634.8,99.6 628.7,66.8 638.6,107.5 632.5,69.7 622.4,91.5 640.9,64 641,138.7 634.6,103.2 636.9,56.2 634.8,141.4 627.9,70.2 622,141.2 637,126.7 627.7,121.7 639.3,99 628.4,105.6 630.4,141.7 643.4,58.8 623.4,60.2 627.3,127.8 638.1,132.6 631.4,133.2 642.5,120.6 623.7,54.2 621,133.3 640.8,87.2 624.5,129.7 627.8,92.6 625.6,109.7 631.6,77.2 643.5,91.3 632.9,89.6 638.9,142 624.5,100.8 634.1,98.2 626.2,117.7 626.1,115.2 628.4,108.4 630.4,125.5 638.7,128.8 623.2,66.9 627.2,118 645.1,79.4 629.7,71.2 621.1,116.7 642.6,125.7 620.7,144.2 630.2,72.8 638.6,68.8 644.4,70.1 643.1,114.7 644.2,112.8 635.6,111.8 645,77.4 626.5,102 628.7,101.2 637.1,109.2 636.4,87.8 641.3,87.6 623.7,98.3 630,133.1 636.4,110.4 622.8,97.1 633.3,143.6 642.8,98.2 621.2,125.1 641.7,54.1 638.7,119.8 631.4,85 626.1,90.6 640.4,111.5 629.6,115.4 636.5,92.9 623.8,145 639.8,126 643.8,134.4 643.8,129.8 645.4,139.7 622.2,127.8 641.1,125.6 626.7,115.5 623.3,120.2 640.7,130.3 643.2,99.9 622.3,86.4 625.8,82.3 632.6,105 642.5,101.6 632.3,122.7 621.8,128.2 639.1,138.3 644.7,86.2 624.6,65 641.4,70.1 644.8,130 631.1,96.1 641.6,79.6 636.6,108.2 645.3,127.7 637.6,101.1 627.9,118.9 638.4,75 629,140.1 629.5,77.1 620.7,106.4 622.6,119.8 625.3,76.8 637.5,105.5 633.7,102.8 630.6,135.8 636,137.4 628.6,87.6 628.9,125.6 636,97.6 639.5,140.4 639.3,139.5 634.6,141 645.3,134.4 645.6,98.5 644.1,140.8 628.1,58.7 639.3,103.3 623.3,89.1 645.6,116.3 635,104.3 622.4,83.4 623.8,103.8 636.9,141.9 637.8,121.5 630,111.8 631.9,38.8 641.1,106 640.4,84.9 639.7,127.4 630.1,86.7 629.4,132 637.2,67.2 623,77.7 637.7,88.8 638,76.5 640,136.2 626.8,132.2 629.2,104 626.7,41.4 631.7,89.2 636.7,103.3 632.1,120 642.8,80.1 635.4,77.9 640.7,83.9 644.9,81.4 640.7,110.4 626.1,59.3 629.2,137.7 621.8,106.8 630.8,98.5 631.8,110.4 628.8,107.8 630.1,95.1 625.7,138 641.3,117.5 630.5,114.3 621.1,116.5 631.8,123.1 629.9,94.4 625.1,89.5 638.3,71.4 631.1,114.8 640.3,98.1 636.1,128.3 644.7,110 629.1,132.8 621.6,129.9 625.2,78.2 639.7,91.8 625.5,80.6 635.6,85.5 623.5,112 642.2,98.4 630.3,127.1 628,86.6 643.1,89.2 638.4,108.9 635.8,112.2 643.5,136.5 641,98.7 620.8,60.3 643.6,98.9 625.6,80.9 639,141.7 628.2,84.3 628.1,138.7 631.3,100.1 620.8,92.6 641.9,127.4 627.3,90.7 636.7,114.1 624.2,128.3 623,100 621.1,37.6 632.9,98.2 631.1,125 638.8,77.8 631.5,79.2 633.4,112.4 635,130.8 624.3,87 630.1,114.5 641.6,135.8 645.6,113.9 632.9,107.2 628.5,110.6 642.2,119 634.4,112.9 621.6,136 624.7,118.9 636.8,103.1 623.7,69.2 633.9,114.3 645,85.5 633.7,123.1 632.1,134.8 640.8,77.3 633.8,75.9 641.7,144.9 620.9,142.3 641.9,78.5 624.8,104.4 626.1,106.7 634.9,108.1 637.9,119.2 624.7,136 640.7,124 632.7,93.6 639.6,132.8 629.6,106 629.6,118.1 634.1,89.6 637.3,97.4 640,138.2 629.1,135.1 636.2,108.1 627.1,63.6 638.3,135.3 630.8,121.5 644,111.3 639,112.8 622.5,86.1 636.7,51.2 630.2,97.5 628.8,136.1 625.9,80.7 638.3,55.7 642.1,133.5 631.8,143.4 633.2,133.8 629,125.7 641.1,125.3 645.5,78.3 632,137.6 631.9,130 625.4,109.5 627.8,114.7 630.5,118.8 631,121.3 624.8,130.9 629.7,110.4 622.1,115.2 627.7,106.6 637.2,72.7 643.5,132.5 626.1,91.7 638.3,77.6 626.4,105.8 644.6,108.3 626.9,105.6 621.8,128.2 644.6,134.7 629.3,78.8 625.8,72.2 632.1,141.7 641.9,96.3 630.5,70.7 632.2,78.8 637,136.5 621.2,126 643.5,81.8 638.6,103.7 635.5,141.5 629.6,111 645.1,89.5 622.5,81.3 620.7,80.5 635.6,90 637.7,107.7 624.4,76.2 641.9,90.5 631.6,123.2 629.1,87.4 638.7,85.5 630.9,123.9 624.7,104.3 631.5,84.1 621.6,107.2 628.4,130.3 635.3,115 622.6,133 631.6,127.9 632.7,111.5 621.5,92.7 625.9,138.1 621.8,107.5 633.7,97.2 636.8,105.1 620.7,145 634.9,130.1 642.4,141 621.7,117.7 635.6,81.5 628.7,115.7 624.2,76.5 642.6,99.1 628.5,130.7 642,58.5 643.4,108.4 626.9,90.6 642.6,112.6 643.6,93 620.6,118.4 642.9,115.9 636.6,104.8 620.7,106.3 633.9,73.9 642.2,88.5 642.1,95.1 643.1,124.5 633.6,127.8 623.2,134.4 629.3,108.7 628.1,118.8 636.3,66 627.3,65.4 634.7,138.3 628.4,102.7 632.3,119.8 636.8,137 641.2,131 621.6,56.5 632,129.2 628.8,142.6 636.5,65.5 638.8,107.2 638.6,132.2 624.5,139.7 624.3,102 642.4,63.7 628.5,125.7 638.2,143.5 621,117.5 635.7,110.5 626.5,121 637.5,95.2 622.7,114.8 642.9,119.3 638,135.7 636.3,90.8 632.5,134 640.7,117.6 631.7,105.7 636.7,126.1 630.6,91.2 620.9,74.6 632.2,78.7 640.9,71.8 636.8,71.3 622.8,114.1 621.4,78.9 625,118.1 636.4,126.3 628.3,124.3 626.8,81.8 642.6,62.3 620.9,82.6 641.3,94.9 629.4,112.2 641,120.3 627.9,114.7 633.7,95.9 624.2,125 627.6,102.3 636.9,141.5 637.7,91.5 624.9,109.7 636.7,100.7 645.3,124.7 635.9,112.2 627.7,116.5 637.8,128.8 635.4,140.3 637.2,110.5 641.7,101.4 644.2,82.3 624.5,134.3 626.8,116.1 623.9,69.5 645.8,71.2 645.4,109 639.6,117.9 636.4,118.9 624.6,89 628.3,72.7 623.9,89.6 629.7,115.7 623,94.4 621.1,134.9 622.1,141.4 631.8,77.4 624.7,95.9 622.1,76.7 639.6,117.7 639.9,67.6 644.4,84.2 640.9,123.8 644.5,122.7 637.1,102.8 634,119.8 631.1,51.6 629,134.8 621,72.1 638.5,126.1 628.6,109.7 639.1,133 644.4,61.5 640.6,134.2 633.4,90.7 634.7,77.3 643,132 626.6,105.6 635.4,143.2 635.7,65.7 635.8,105.4 627.9,103.5 632.1,140 633.4,113.9 640.6,121.5 645,94.1 621.9,62 640.7,115.1 632.9,85.4 636.9,91.3 634.3,137.5 640.9,127.4 630.9,75.7 630.6,134.3 634.5,121.8 645.1,84.9 631.3,132.9 631.3,121 633.4,137.4 645.8,143.5 624.7,134.4 635.7,84.6 636,88.8 643.1,70.3 629.4,135.2 636.1,119.9 627,112.1 630.4,120.8 622.5,122.1 627.7,93.8 630.4,88.7 628.1,127.4 631,74 627.9,94.4 627,142.5 629.3,107.8 637.5,143 636.3,80.9 645.3,136.9 624.1,99.7 641,95.9 622.6,97 626.3,94.7 621,65.5 633.2,97.1 620.9,143.9 622.2,95.2 636.9,100.3 637,115.7 623,82.6 636.3,88.5 631.4,131.5 642.5,68.4 635.2,94.7 633.9,96.4 645.6,125.3 627.6,113.6 632.1,66.7 640.1,62.5 638.9,102.1 621.6,101.6 620.9,124.1 627.6,132.8 645.1,74.4 622.3,87 621.1,80.4 643.9,108.5 624.1,129.7 628.6,97.6 642.4,138.8 630.6,131.2 621.7,79.4 631.1,94 639,78.4 624.6,81.1 627.3,99.8 629,130.3 620.9,128.5 638,134.8 622.9,88.8 626.1,88.9 631.9,95.1 639.8,115.5 622.7,87.6 645,95.2 633.4,94.8 624.8,135.5 625.1,143.8 634.2,127.3 622.9,89.1 624.7,116.1 644.7,95.9 642.7,89.2 636.1,113 639.5,117.5 623.4,123.8 627.6,72.2 621,141.8 635.3,92.6 620.7,132 623.3,105.5 645.8,118.4 622.9,117.2 645.5,117.6 634.2,139.7 632.9,118 623.8,98.5 630.5,84.9 629.4,132.1 638.2,92.1 645.4,136.2 628.8,129.8 621.2,128.9 645,112.4 632.8,135.7 631,122.7 639.8,123.2 636.8,101.7 634.2,107.8 624.1,111.6 640.8,85 626.8,114.2 635.9,55 625.4,97 626.4,125.8 636.4,121.6 639.4,127.5 645.1,142.8 637.8,120.1 636.7,72 635.7,62.9 627.9,99.3 643.7,87.4 635.3,113.6 622,70.4 632.6,132.5 629.2,138.7 624.6,135.5 638,92.7 641,120.8 643.3,117.4 642.7,115.4 645.5,143.2 625.4,65.9 635,114.9 630.9,121.6 638.9,91.7 638,128.2 626.5,28 644.9,29.7" fill="none" stroke="none" marker-start="url(#mt)" marker-mid="url(#mt)" marker-end="url(#mt)"/><text x="3.2" y="183.8" font-family="&quot;Liberation Serif&quot;, serif" font-size="14">D</text><text x="40.2" y="187.0" font-size="18.9">N</text><text transform="translate(14.4,289) rotate(-90)" font-size="15.9">HSP90α</text><path d="M40.4 193.3V326.6H225.6" fill="none" stroke="#7f7f7f" stroke-width="1"/><path d="M38.4 320.5H40.4" stroke="#555" stroke-width="0.8"/><text x="37.6" y="325" font-size="12.5" text-anchor="end" fill="#000">0</text><path d="M38.4 281.2H40.4" stroke="#555" stroke-width="0.8"/><text x="37.6" y="285.7" font-size="12.5" text-anchor="end" fill="#000">200</text><path d="M38.4 241.9H40.4" stroke="#555" stroke-width="0.8"/><text x="37.6" y="246.4" font-size="12.5" text-anchor="end" fill="#000">400</text><path d="M38.4 202.6H40.4" stroke="#555" stroke-width="0.8"/><text x="37.6" y="207.1" font-size="12.5" text-anchor="end" fill="#000">600</text><path d="M90.9 326.6v2" stroke="#7f7f7f" stroke-width="0.8"/><text x="90.9" y="337.8" font-size="12.5" text-anchor="middle" fill="#000">No</text><path d="M175.1 326.6v2" stroke="#7f7f7f" stroke-width="0.8"/><text x="175.1" y="337.8" font-size="12.5" text-anchor="middle" fill="#000">Yes</text><rect x="61.5" y="295.2" width="58.9" height="25.3" fill="none" stroke="#555" stroke-width="0.7"/><rect x="145.7" y="284.1" width="58.9" height="36.4" fill="none" stroke="#555" stroke-width="0.7"/><path d="M90.9 274.9V315.4M82.5 274.9H99.3M82.5 315.4H99.3" stroke="#333" stroke-width="0.6" fill="none"/><path d="M175.1 255.1V313.2M166.7 255.1H183.5M166.7 313.2H183.5" stroke="#333" stroke-width="0.6" fill="none"/><text x="83.2" y="203" font-size="8.6" fill="#000">T</text><text x="96.0" y="203" font-size="8.6" fill="#000" textLength="50.3" lengthAdjust="spacingAndGlyphs">test, p < 0.001</text><polyline points="92.9,297.9 94.8,296.7 81.3,313.7 100.5,285.7 103,294.4 84.3,314.2 84.2,313.2 99.8,300.7 91.1,310.6 83.2,301.8 102.8,305.8 99.4,266.2 87.7,301.8 94.2,303 96.7,296.4 87.3,272.1 93.1,314.6 87.9,314.5 99.6,247.5 84,307.3 89.7,261.8 79.7,311 93.4,229.8 79.8,305.1 86.9,306.5 97.5,307.6 92,299.1 87,288.3 90.6,309 81.2,288.5 84.7,299.6 101.5,286.5 81.9,306.9 98.1,298.1 97,309.5 94.4,310 98,294.3 81.7,315 87.4,286.4 87,309.8 83.9,269.4 84.2,297.5 86,270.7 102.6,244.5 87.9,295.5 98.3,314.5 97.2,306.7 97,312.1 90.7,245.7 91.1,308 82.9,294.3 100.6,303.5 87.8,276.6 96.3,295 100.2,295.3 92.7,260.5 87.5,304.1 100.4,296.9 80.8,305.2 97.4,263.7 85.6,274 96,308.5 83.8,300.4 100.7,299.8 90.3,307.5 81.2,268.3 98.6,286.4 87,307.1 80.7,306.1 99.6,288.4 80.4,312.5 83.5,296 83.2,303 88.5,305.4 102.9,309.5 80.1,272.9 103.2,279.7 85.3,248.9 88.9,286.1 98.2,244.1 99.8,239.3 81.6,287.1 95.7,303.1 89.7,315.6 80.4,311.6 103.5,289 88.7,248.2 95.9,287.5 97.2,248.9 84.4,269.2 85.5,309.6 88.2,302.2 100.6,267.7 99.4,297 94.8,252.7 87,300.5 86.2,286.6 87.3,304.3 88.1,297.4 90,297.3 88.5,297.2 86.9,302.7 97.3,300.8 100.5,296.3 100.4,304.4 82.2,298.7 92.9,272.4 82.7,304.9 100.5,303.3 91.2,310.2 78.6,305.1 98.8,292.6 95.3,304.6 81.2,311.5 100,271.1 79.8,302.7 100.9,315.1 103.5,310.6 89.5,303.9 93.4,295.8 88.2,298.9 90.4,297.7 99.2,227.2 98.3,291.8 88.7,277 99.4,268.2 86.4,281.9 98.2,268.7 86.3,300.1 99.3,315.3 85,250.7 91.3,250.1 82.9,298.5 80.1,285.5 88.7,309.3 80.3,298.9 81.8,305 87.8,292.6 97.6,275.5 87.6,307 79.3,299.1 89,248.8 89,308.2 84.6,296.1 86.8,276.6 90.3,310.5 91.3,253.4 93.6,248.8 102.1,310.5 102.2,305.9 95.6,302.1 87.6,313.6 78.7,287.7 89.4,304.2 85.2,263.4 94,313.5 83.6,304.3 93.5,301.5 84.9,243.5 82.5,300.6 79.7,305.6 90.4,298.3 81.4,310.7 83.2,314.4 85.2,295.8 82.3,301.5 78.6,242.8 81.4,247.3 96.7,312.9 88.9,304.8 95.3,296.8 95.8,303.2 93.5,302.7 92.6,310.1 99.7,305.3 80.3,274.3 86.2,285.5 78.4,308.3 89.6,310.4 100.2,249.1 91.5,258.9 99.9,290.4 93.8,303 79.4,287.6 80.5,255.4 95.2,258.3 102.4,308.6 82.3,308.5 101.7,297.9 95.8,315.2 81.8,306.6 85.8,310.2 99.7,231.8 100,313.2 95.7,299.8 102.3,314.7 98,283.8 101.8,302 88.1,299.4 89.4,278.9 86.5,302.7 83.8,279.9 86,303.5 81.9,288.7 102.2,276.6 94,313.4 102.4,267.9 81.8,302.6 94.1,273.7 89.6,310.4 101.3,297.4 78.8,314.7 93.6,302.1 91.5,243.8 79.7,269.9 90.3,270.4 85.6,302.5 85.7,297.8 79.3,235.6 99.2,291.7 83.2,291.2 101.3,311.7 81.8,308.9 100.5,279.4 102.6,313.1 90.5,295.3 100,307.8 84.8,262.8 81.8,301.8 96.9,306.1 92.7,301.8 99.8,313.9 92.2,297.2 103.2,310.8 88.9,286.6 88.6,286.6 97.7,311.4 103.4,305 86.5,268.3 84.5,293.2 98.8,306.2 85.6,273.9 82.2,314.4 92.5,311.4 85.8,276.9 81,312 94,290.1 88.2,278.9 80.9,316.5 86.1,285.9 88.8,309.4 82,303.9 95.8,289.6 79.5,301.9 88.9,307.8 86.2,238 101.4,296.4 81.4,294.3 80.2,244.8 86.5,295.4 102.5,304 90.4,310.6 100.4,266.2 79.4,312.4 98.2,289.6 96.3,312.9 103,299.6 83,261.9 81.1,304.8 102.9,296.1 101.9,276.2 91.3,297.1 101.1,299.2 99.1,291.8 92.9,283.8 90.1,297.5 78.9,262.2 95.3,276.2 97.2,297.3 93.1,271.1 97.4,267.9 90.4,311.5 84.2,299 102.3,300.9 80.3,301.7 85.1,282.3 83.5,306.1 93.7,254.1 90,301.9 92.7,278.7 90.1,303 93.7,278.1 81,313.4 87.6,304.8 92.1,258.7 93.6,248 89.3,257.4 79.6,313.8 96,256 91,315.6 102.6,304.1 87,283.2 95.5,266.2 79.4,299.2 95.6,296.6 80,291.6 93.8,295.5 94.3,222.2 96.3,314.4 90.9,236.4 90.5,316.5 81.3,283.3 84.7,306.6 98.7,309.7 102.4,237.5 86.7,296.5 91.9,310.9 85.5,309.7 85.4,304.8 98.3,250.9 99.4,296.1 93.9,284.8 100.2,288.6 78.4,286.3 101.2,302 80.9,286.6 78.9,300.9 81.2,315 84.7,282.9 91.9,307.1 79.8,301.9 101.3,296.5 89.3,290.3 103.1,305.6 96.3,300.7 84.8,311.7 83.4,301.1 98.9,314.6 92.8,299.7 80.7,306.9 85.1,310.4 81.4,302.7 93.3,305.3 100.8,304.5 87.6,295.5 79,297.2 102,279.9 99.3,226.8 79.2,290.8 85.4,311.4 88,245.8 103.2,312.8 79.1,300.3 103.4,274.4 94,314 88.4,235.5 88.5,269.5 95.1,301.7 86.2,268.3 85.9,314.2 98.3,304.2 86.5,279.1 98.8,297.1 86.9,282.8 95.5,291 78.3,250.6 91.9,274 89.4,263 98.1,308.1 93.7,309.8 94.8,270.4 82.7,314.6 100,246 99.1,293.7 91.4,315.7 94.9,285.2 85.1,280.2 85.2,238.8 92.2,298.4 89.4,302.9 81.5,280.2 100.4,311.7 96.4,306.2 83.2,311.8 101.8,302.4 92.7,293.2 90.2,314.8 100.1,296.5 80.9,306.4 80.6,291 103,288.6 81.4,238.7 89.6,297.4 103,315.7 86.3,294.5 101.7,271.6 82.4,291.6 100.6,262.4 78.3,265.6 91.1,311.1 101.9,282.3 98,306.8 95.5,302.1 90.3,289.2 97.9,288.6 96.4,261.7 82.3,297.7 96.4,308.2 98.8,311 95.3,313.3 84.3,312.1 88.2,283.5 83.6,290.8 87.7,295.7 88.6,294.9 98.6,266.7 97.2,301.9 82.7,314.5 98.7,298.8 96,278.2 86.7,316.3 93,310.8 81,314.1 82.5,254.1 85,276.4 97.9,306.5 82.9,298.3 85.3,316.6 91.3,309 88.8,304.8 83.6,308.5 91.5,304 103.5,299.7 91.1,298.4 100.1,293.1 99.5,295.1 82.1,249.3 90.8,315.9 89.3,307.4 98.9,283.2 96,302.3 94.2,311.5 100.9,302 81,280.1 81.3,312.1 90.5,284.6 94.8,286.4 95.1,291.3 100,288.4 82.7,300.7 80.9,313.7 87.1,299.5 95.8,314.6 85.9,303.2 96.6,263.7 92.1,293.9 85.6,315.3 92.4,311.7 90,271 99.6,290.9 98.6,236.8 84.1,303.2 83.8,292.7 99.7,298.5 99.7,311.5 100.1,242.9 87.7,296.3 81.5,300.2 92.1,312.3 102.4,309.1 93.1,301.6 95.6,314.2 79,298.6 88.7,261.9 82.7,306.6 80.3,305.9 83.8,310.7 85.6,303.6 90.9,301.8 93.8,259.4 92,302 87.3,307.4 82.1,308 90.8,256.8 101,312.3 101,310.9 101.4,300.4 100.8,301.1 92.8,284.3 91.4,305.1 83.9,283.4 97.1,267.9 93,278.9 88.4,293.3 79.8,296.4 82.8,316.3 95.7,305.7 91.3,306.3 97.9,314.4 81.2,295.5 95.4,308.6 100.5,304.8 79.1,247 103,309.5 79.8,311.1 96.7,310.3 91.8,301.1 86.1,247.4 87.2,304.6 79.2,289.2 97.4,314.8 78.8,296.8 102.6,313.1 102.8,293.2 99.4,281.5 81.5,302.3 94,306.1 98.8,295.7 88.5,279.3 89,290.8 98.3,302 78.8,263.4 87.8,243.3 99.6,298.3 98.5,311.4 101.7,282.4 100.2,311.9 83.3,313.6 101.7,308.1 84.6,294.7 92.2,304.4 92.8,309.8 95.2,315.8 94,298.2 84.1,306.3 100.2,312.3 82,304.3 97.1,255.5 78.4,277 100.9,278.6 100.5,275.8 84.9,315 92.2,277.6 90.5,264.8 101.8,313.9 85.6,301 80.2,267.7 88.3,312.9 86.1,289 84.9,296.8 97.9,283.3 88,230.9 81.8,255.5 83,271 100.3,271.7 90,307.6 83.4,314 90.3,273.3 81.1,307.2 90.4,249.3 84.3,310.8 88,291.1 101.8,315.5 90.5,299 96.9,303.4 86.5,288.4 83.2,307.7 87.1,260.3 83.6,255.8 91.2,309.8 95.3,310 85,307.2 96.1,311.9 91.2,279.7 98.4,293.6 97.5,307.5 102.1,282.4 95.6,310.2 79.9,280.9 87,295.8 88.3,298.3 100.3,307.9 100.2,313.7 83.8,314.1 101,311.1 88.7,297.1 95.3,310.7 95.2,315.5 89.2,312.5 92.5,298.5 90.2,306.1 95.5,301.8 99.2,295 92,265.4 100.5,311.7 91,306.8 79.6,297.9 93.3,297 86.5,290.2 96.9,315.6 85.5,305.1 94.6,236.7 83.2,270 94.7,297.2 93.5,258.9 95.8,309.5 79.1,261.4 89.7,305.5 97.1,290.4 89.6,301.5 85.7,293.9 97.3,245.7 95.4,259.4 89.5,314.9 99.6,315.6 95.4,309.3 103.4,285.2 94.9,296.8 102.7,295.2 96.9,276.2 89.7,312.2 78.5,316.5 96.9,286.9 89.1,312.2 100.1,308.4 100.6,281.1 99.3,307 92.1,313.2 94.3,264.1 94.5,285.8 89.6,309.2 88.4,290.5 103,251.1 78.3,237.7 100.2,307.7 81.6,274.4 81.1,309.6 97.7,306 78.7,306.2 95,257 84.4,307 100,239.9 92.6,307.6 84.1,232.1 93,257.1 96.8,309.2 99.7,308 78.8,275.9 101.7,315.9 99.1,309.5 84.2,282.9 93.5,267.7 91.5,229.4 93.6,292.8 84.5,313.7 101.6,301.4 96.1,285.1 92.6,295.4 102.2,282 87.7,301 91.9,314.7 94.3,292.7 93.9,295.6 86.8,306.7 93.3,291.1 89.1,293.4 96.7,290.4 87.5,312.4 89.7,307.1 93.2,299.3 83,290.2 92.1,270.6 100.5,312.9 95.9,307.9 90.9,300.1 81.6,307.3 92.8,253.6 88.7,300.5 87.8,298.7 96.4,266.8 102.9,257.4 91.4,250.4 83,315.2 95.4,311.3 89.7,309.8 99.8,303.6 97.3,297 87.3,281.8 99.1,315.6 91.8,312.5 96.1,312.2 79.8,228 85.3,265.6 99.9,306.1 78.8,298.7 95.6,274 101.7,306.3 99.6,313.5 82.1,314.6 81.5,269.6 87.8,296 79.8,240.7 93.8,310.2 94.9,236.4 95.5,284.4 99.1,242.6 86.4,304.5 78.7,300 82.8,248.5 99,307.1 82,315.1 81,220.8 95.6,308.5 93.7,287.4 101.4,285 98.8,281.5 100.5,301.3 101.1,303.9 78.6,314.1 102.3,313.2 84.9,309 80.6,299 101.1,295.5 85.8,275.1 81.9,294.6 92.6,308.7 99.2,293.3 86.5,310.3 99.9,304.2 102.8,301.2 91.8,282.9 84.1,295.8 85.8,281.3 82.5,308.3 89.4,293.7 88.3,304.4 85.6,308.7 88.5,308.9 84.9,262.4 100,297.6 101.4,276.6 89.3,295 81.2,270.2 85.7,312.2 95.6,270.6 103,304.7 97.4,313.6 80,307.6 87.1,298.3 80,316.5 92.5,293.7 88.3,313.5 89.6,258.8 85.5,269.9 80.6,292.2 98.1,300.2 87,269.9 80.1,306.2 83.4,301.9 79.5,297.1 100.4,288.3 82.6,306.9 102,273.5 102.8,296.7 81.4,304.7 98.2,289.5 83.7,300.2 96.3,245.3 102.7,309.8 90,265.6 83.7,288.3 95,272.5 93.7,307.3 84.4,272.5 91.9,309.3 91.1,311.3 88.7,307.8 87.7,283.7 101.6,289.3 95,261.3 88.7,296.2 92.5,300.1 94.1,297.7 100.2,304 89.7,296.5 98.9,301.5 82.3,302.4 96.7,242.5 96,297.6 78.6,304.4 94.6,314.9 80.2,315.3 101.3,290.7 92.3,312.8 82.1,314.8 96.8,277.5 85.2,298.9 80,251.6 92.5,300.9 98.5,315 96.3,261.2 98.6,237.8 96.2,313.3 88,291.7 83.8,313.4 86.9,311 99.3,304.1 78.9,271.6 80.2,306.5 101.5,297.2 78.6,262.6 92.3,311.5 100.9,313.8 91.5,314.5 97.1,293.5 79.1,307 96.9,270.1 93.9,282.2 94.3,307.2 85.2,252.7 93.7,284.4 97.6,257.7 99.6,310.9 80.2,245.6 100.7,280.5 96.3,302 92.1,227.7 96.9,232.9 97.2,297.1 92.2,303.7 100,283 100.4,308.8 98.7,293.9 83.9,298.1 88.1,311.5 101.5,311.6 92.6,267.7 82.6,302.1 98.7,306.5 82.7,254.6 102.6,310.4 95,289 102.2,241.1 86.2,240.1 100.6,311.5 86,310.5 80.2,301.3 97.3,316.1 101.8,273.9 101.6,309.7 81.7,261.4 92.3,254.8 95.1,315.7 86.2,278.9 96.7,312 87.8,309.8 100.2,254.1 92.5,247 89.1,297.3 90.9,234.8 88.8,311.6 90.5,306.9 95.9,304.7 86.6,243.3 78.9,287.8 95.5,298.6 89.7,314.3 100.1,257.1 78.9,272.5 97.6,293 85.9,300.8 98.9,303.8 86.4,272 81.4,295 94.6,307.4 83.6,301.9 98.5,289.8 92.3,281.6 99.8,250.9 95.3,298.8 89.7,241.3 93.5,290.6 79.7,306.8 80.8,277.3 84.6,276.4 91.3,266.5 100.9,310.7 78.5,292.2 84.9,293 80.6,302.2 99,244.4 100.6,305.1 92.3,309.4 83.8,315.7 99.2,314.8 86.7,265.8 93.9,294.1 98.4,310.1 86.8,281.6 83.7,289.2 80,298.7 101.5,302.7 79.2,296.4 99,281.4 101.9,307.3 88.8,310.4 81.7,266.3 95.7,296.1 83.3,296.1 89.3,293.7 86.6,309.3 96.7,293.4 97.2,290.5 93.9,306.1 91.1,306.4 97,297.2 82.9,231.3 83.4,310.7 82.7,297.5 83.1,314.3 89.7,293.9 81.9,314.3 101.7,295.7 80.1,266.6 101.8,274.9 98.3,300.1 92.3,311.7 91.6,304.1 98.4,304.1 86.6,299 98.8,271.2 89.2,303.1 98.6,309.1 91.3,306.4 103,303.6 93.8,300.2 94.5,279.4 84.2,309.1 103.5,309.8 79.9,254.8 78.9,308.3 87.3,307.8 103.1,312 84.9,308.1 80,304.6 86.4,304.3 97.6,281.5 98.3,299.5 80.3,301.6 88.8,234.9 89.1,299.6 82.7,307 82,303.2 86.4,300.5 88,282.5 93.6,294.7 94.8,302 93.8,295.1 89,297.9 82.7,300.8 81.1,302.5 81.8,272 96.8,313 83.1,303.3 90.3,245.2 84.5,305.5 85,301.5 97.1,310.6 98.2,301.6 91.9,288.6 94.1,307.9 94.3,283.5 98.4,290.1 78.3,284.4 85.1,275.3 98.3,244.1 103.5,276.7 96,295.9 99.1,312.6 83,297.2 79.2,306 102,306.7 84.4,247.4 85.3,264.3 94.3,315.2 91.3,307.7 99.6,301.2 84.4,246.8 82.7,310.3 80.3,293.3 98.3,299 94.8,274.4 95.4,300.8 85,298.4 83.3,279.1 96.7,268 98.5,233 85.6,307.4 86.2,312.8 98.3,312.1 98.6,315.6 82.6,275.1 84.9,297.3 97.5,312.5 96.1,271.3 87.9,256 98.5,316.2 95.7,282.1 89.3,281.3 90.8,296.6 83.6,281.1 88.5,309.4 81.1,313.1 91.3,246.6 80.1,253.7 78.5,299 102.6,275.8 81.7,279.8 86.4,295.3 100.6,306.4 80.4,312.7 92.8,292.7 90.9,274.5 93.1,300.8 94.8,315.4 90.8,305.4 101.1,303.3 94.5,307.7 82.2,257.8 92.9,301.5 79.6,282.1 84.9,305.2 101.1,303.2 79.7,251.1 87,225.4 80,314.5 100.9,245.8 79.7,300.7 92.5,276 90,313.7 100.6,304.4 79.5,289.7 78.7,289.3 99.1,288 82.9,294.8 89.4,274.5 101.3,315.9 86.3,257.1 83.7,305 99.2,240.3 98.6,299.7 103.4,307.9 98.3,315.2 93.4,313.3 83.5,301 97.3,299.8 92.3,315.8 88.9,273.1 93.1,313.2 82.2,310.7 101.9,309.4 87.7,271.2 80.8,202" fill="none" stroke="none" marker-start="url(#mr)" marker-mid="url(#mr)" marker-end="url(#mr)"/><polyline points="172.2,291.7 175.1,294.1 167.5,251 175.3,266.2 173.7,296.8 186.3,309.2 172.3,274.9 185.5,272.6 180.4,304 185.7,305.8 186.5,276.5 184.5,280.6 174.4,239.7 179.6,287.6 166.8,272.5 186.5,261.4 184,274.1 174.6,298.4 182.9,266.5 178.5,309.5 164.1,260.3 170.3,306.9 163.9,207.2 178.7,291.3 184.1,315 166.2,294.9 165.4,265.3 164.1,311 175.5,287.5 187.1,308.1 186.4,256.9 179.2,312.8 170.9,302.6 184.6,306.3 163,261.4 174.9,261 177.2,298.6 187.5,245.7 171.2,292.9 187.3,290.7 172.3,282.6 186.6,288.6 177.3,303.9 170.7,302.1 176.3,242.2 178,277.7 172.6,215.4 165.9,232.8 163.1,279.6 175.8,256.2 186.5,263.5 165.4,254.7 169.4,313.3 176.5,266.2 167.5,234.2 173.8,303.2 184.5,267.1 173.5,239.2 183.2,315.4 186,269.3 185.3,292.8 172.1,275.6 180.7,239.4 171.8,270.3 182.1,279 178.8,212.4 179.7,284.3 169.1,295.7 170.5,306.6 185.7,272.6 182.7,295.6 171,301.8 180.5,305.6 164.6,227.9 170.2,297.9 173,285.4 176.7,241.3 179.8,256.8 164.4,264.3 173.5,291.5 167.7,314.3 187.1,262.1 163.7,243.3 170.5,276.8 169,257 165.7,301.1 169.4,298.4 167.4,315.3 177.7,239 176.6,293.3 179.4,287.1 187.7,265.5 172.1,304.6 183.8,286.5 179.9,286.4 182.2,301 179.8,270.2 163.7,305.1 186.2,260.4 177.9,249.7 187,261.5 186,299.3 163.7,281.2 169.3,261.8 174.4,294.2 183.9,253.4 166.3,281.8 177.6,250.7 168,258.9 172.5,277.7 170.2,270 165.6,305.2 184.8,280.7 179.3,303.4 185.8,270.3 167,244.8 178.8,247.2 176.6,246.7 184.9,283.2 167.3,283 168.3,248.8 172.7,245.6 187.5,242.6 167.8,245.2 175.2,299.4 169.5,295.5 163.6,297 183.6,262.9 173.5,313.4 171.7,296.6 184.9,280.4 178.8,281.9 186.5,294.8 166.7,242.5 182,280.9 166,294.4 181.9,292.5 173.8,255.1 185.1,273.3 171.6,257.5 182.9,297.4 171.3,303.7 164.5,313.9 178,311 168.3,305.5 181.8,289.2 182.2,283.8 172,313.6 167,295.3 183,287.9 185.7,267.4 186.2,293 182,293.4 167.6,253 184.4,311.7 172.5,277.4 175.1,298.4 169,276.8 181.6,269.9 187,244.9 171.8,313.5 167.4,258.4 174.5,283.3 167.3,268.2 166.2,258 174.4,287.1 173.8,280.4 162.8,250.2 186.7,226.5 187.6,283.8 183.3,310.1 170.2,262.4 178.6,309.3 185.8,308.6 182.7,307.4 187.1,290.9 181.1,286.1 170.7,283.1 169.5,274.7 168.4,302.6 187.1,289.2 172.5,229.1 177.5,307.8 181.7,307.5 163.5,308.2 169.4,273.5 185.2,284.7 173.8,292.8 170,304.6 178.8,282.3 167.9,243.5 181.6,279 179.1,313.7 185,278.3 167.5,237 166.1,265.4 180,249 176.6,245.1 185.8,287.2 186.1,249.1 185.6,286.5 163.4,240.2 181,239.4 182.6,300.4 179.4,299 168.6,311 172.8,233.9 174.2,284.2 165.8,284.2 178.3,248.6 167.9,241 168.2,269.2 178.9,287.9 171.6,264 183.4,290.4 162.7,290.4 186.6,259.9 180.1,288.4 170.4,316.5 172.8,309.5 184.8,287 186.5,255.8 169.9,299.7 179.2,296.6 174.5,302.1 180.7,292.9 181.6,308.3 173.3,282 166.2,265 165.7,257.7 183.4,267.7 174,298.8 183.5,282.2 183.6,310.4 180.9,244 166.9,310.7 187.5,265.3 173,296.9 187,237.8 162.8,231.4 181.7,304.7 184.8,301.3 183.6,286.5 178.9,285 187.7,256.2 168.6,226.1 173.8,286.8 168.4,254 182.9,314.5 176.6,289.2 182.2,299.7 164.4,247.9 163.6,301.9 164.6,267.4 184.2,240.3 175.9,227.1 164.1,228.4 163.9,237.3 181,305.1 167,277.3 179.4,276.8 167.4,224.6 185.3,252.1 171,272.1 181.8,280.3 170.3,269.5 162.7,308.4 166.5,298.3 182.7,306.7 171.3,300 180.2,312.6 167.2,224.5 173.6,266.4 176.4,279.4 181.7,282.7 186.1,308.3 171.8,302.1 169.9,232.6 168,302.4 180,313.1 179.5,233.6 169.4,291.2 167.6,272.7 165,221.7 165.5,260.4 181.8,297.6 182.6,309.6 174.4,278.1 181.9,292.8 175.9,283.9 177.7,288.6 184.5,312 174.2,271.3 175.8,288.5 187.6,289.9 187.5,309.6 178,308.8 175.1,223 162.9,278.6 174,250 169.8,274.6 173.8,293.1 168.4,267.9 187.4,299.7 168.4,281.4 179.2,300.5 163.2,311.6 172.8,298.5 187.6,313.9 172.2,278.2 164.8,281.9 179.6,302.4 184.1,237.4 163.6,283.4 178.1,314.7 164.6,286.9 182.6,307.4 177.9,256 183.3,232.9 186.4,282.6 181.3,259.7 182.7,238.3 173.4,299.6 170.5,306.9 186.1,302 170.4,248.9 184.7,255.2 174.2,315 163.1,296 177.5,244.2 181.5,267.3 163.1,292.9 187.5,289.9 171,231.2 174,287.4 181.3,308.7 177.2,248.8 174.4,277.3 186.9,313.4 165.8,291 180.6,274.7 162.9,313.8 181.9,258.7 180.5,250 172.9,264.7 172.9,271.6 176.9,272.9 185.3,311.9 166.4,285.5 172.2,269.4 174.1,309 171.4,280.5 168.6,285.2 174.8,293.9 171,301.9 177.4,279.4 173.4,224.1 183.5,238.1 183.6,232.3 176.2,280.5 184.6,278.6 175.3,283.6 171.4,252.7 177,278 184,260 176.3,274.1 182.8,296.9 171.4,299.9 179.3,258.7 176.7,307.4 179,268.4 173.7,239.7 165.8,310 162.9,304.4 164.7,293.6 164.3,225.9 173.2,235.3 172,292.1 178.4,307.9 186.6,248.1 173,258.1 170.7,260.9 178.1,243.5 175.7,240.3 163.8,307.8 182.4,269.7 171.4,286.3 176.3,287.7 178.9,296.1 186,268.4 170.6,291.7 174.3,285.9 184.5,310.8 186.4,265.1 180.9,252.6 183.4,292 163.3,233.1 177.1,288.8 170.2,286.9 177.6,313.6 178.5,294.1 172.7,294 184.2,286.8 183.1,313.3 164,268.3 185,257.8 181.2,275.2 184,299.9 170.2,298.2 172.7,315.5 181.4,291.8 184.4,223.9 169.9,271.5 179.7,312.1 172.4,266.5 174.3,260.9 174.8,275.3 172.2,240.7 184.9,249.2 183.6,298.3 163.6,296.6 164.1,290.3 164.5,314.1 166.2,253.8 167.9,316.3 167.5,245.1 169.6,276.3 172.3,235.2 180.8,243.6 177.6,287.4 165.7,296.4 179.5,299.3 177.2,238.1 162.5,301.1 184.4,296.2 167.7,293.8 175.1,312.5 175.6,285.8 164,274.7 166.2,290.8 166.8,262.6 185.8,314.9 185.2,312.9 184.8,239.9 168.7,267.4 173,293 176.3,303.6 163.9,299.1 165.9,277.7 174.5,246.8 165.3,254.8 174.1,314.9 175.9,301 163.3,275.5 182.1,298.9 172.2,245.6 174.5,270.6 179.1,277.9 184.5,310.3 166.5,271.3 167,257.2 178.5,301.9 185,269.1 168,252.4 174.3,278.1 163.5,291.6 162.7,265.9 185.9,243.4 181.8,263.9 180.1,297.3 163.8,301.6 180.2,276 180.6,272.9 171.1,291.5 182.9,271.2 187.7,313.8 168.8,301.3 163.4,291.5 169.8,243.4 179.6,277.6 185.2,278.9 186.3,305.9 183,286.4 178,264.7 167.8,264.9 170.6,284.8 167.8,240.8 177.1,308.2 164.9,285.8 182.6,292.5 178.8,263.5 182.6,289.4 180.4,288.7 179.3,311.7 170.5,205 185.4,305 181.8,271.9 165.6,266.8 168.3,268.2 164.9,310.7 179.6,307.4 174,307.4 168.4,271.1 180.3,294.4 165.3,243.5 187.4,267.8 186.6,241.6 165,242.8 179.6,237.4 177.9,313.8 170.1,313.8 170.9,259.5 186.7,296.2 164.5,287.1 185.2,290.2 174.9,298.3 176.4,256.5 175.3,307 182.3,293.1 167.3,211.2 168.4,247.5 165.3,303.8 173.8,283.8 163.5,255.8 187,253.9 173.6,307.6 171.3,290.4 186,291.9 184.2,289.9 168,253.4 164.4,314.7 180.6,308.2 171.5,281.9 183.4,248.7 172.1,245.5 170.1,296.2 174.1,303.5 163.6,247.2 166.9,313 166.3,262.6 180.4,228 170.1,264.1 183.1,270.1 186.5,254.9 175,260.5 167.2,224.8 162.9,302.6 186.8,235.6 165.5,315.5 181.3,285.3 163,310.4 185.6,237.7 176.6,305.5 179.1,253.2 178.1,258.2 168.4,297.9 165.5,240.4 183.6,299.5 176.5,312.8 176.9,311.4 165.3,250.5 186.4,242.8 180.1,251.4 173.2,283.2 163.7,252.9 174.4,275.3 187.2,236.7 181.7,274.4 163.1,296.1 181.4,231.4 184.5,312 169,222.8 183.8,240.8 187,296.5 173.1,272.2 165.1,301.1 171.9,256.7 185.4,312.7 174.2,290.4 170,315.9 173.7,281.7 183.5,242.8 177.9,314.2 165.4,239.3 170.5,305.8 169.7,314.5 181.9,307.7 175.4,278.6 164.3,306.6 163,212.6 171.7,266.1 176.8,266.5 177,314.6 172.2,234.8 172.9,269 170.1,296.8 166.5,251.2 170.8,281.7 179.1,267.9 169.9,283.6 185.4,255.3 176.6,304.3 166.6,209.5 174.2,234.3 166.9,278.8 165.8,248.7 165.3,285 166.8,303.5 167.2,258.5 187,287.2 163.7,307 173.9,281.1 178.9,273.1 164.3,244 170.8,281.6 172.7,300.9 174.5,296.9 179.6,304.5 175.4,298.1 175.7,268.4 169.6,269.6 163.8,240.4 179.2,274.3 175.8,266.1 175.5,309.4 177.1,259 186.1,290.7 181.6,309.5 174.9,294.7 167.7,311.7 166.7,314 177.1,255.7 182.2,259.1 179.5,264 181.7,297.7 164.5,300.8 164.6,244.4 176.8,283.8 182,233.5 167.5,250.9 187.5,252.1 174.4,272.7 164,261 177.7,236.5 187.7,295.4 187.4,255 187.1,272.2 173.7,259.5 184.7,299 171,219.2 184.5,263.6 175.6,312 172.1,288.6 163.6,276.6 172.4,292.9 179.4,311 167.2,253 173.8,274.9 168.7,265.1 166.7,272.8 171.1,309.1 166.6,212.3 177.4,243.9 179.3,276.2 170.9,255.6 164.7,308.4 170.2,303.8 165.8,270.5 178.5,259.4 184.6,303.7 164,265.4 173.7,299.1 174.8,296.1 163.5,268.7 187.4,298.2 165.5,235.5 165.5,306.9 164.2,310.6 172,315.7 179.2,278.4 175.8,257.1 173.2,294.9 168.7,244.9 183.6,272.2 168.8,271.7 173.8,299.2 179.5,262.4 163.1,315.7 166.4,300.3 174.1,281.3 169.3,304.5 167.3,309.6 186.9,259.7 162.8,288.4 170.3,282.8 166.8,282.1 167.9,241.7 186.1,315 171.6,315.7 177.3,314.9 178.3,266.9 185.5,313.4 185.9,270.2 171.2,227 179.2,306 165.1,249.9 179.2,306 168.6,279.4 162.8,307.2 181.9,280.7 187.6,294.2 180.1,311 182.3,234.2 186,247.5 171.3,289.1 184.7,285.7 174.9,253.8 175.5,285.6 164.3,305.2 169.5,263.7 172.6,250.7 176.4,313.1 168.2,293.7 187.2,258.5 184.5,284.6 166.1,281.2 165.3,256 163.8,285.7 167.4,298.1 182,266.5 168.4,231.5 177.5,286.6 176.7,309.1 186.8,237.4 173.4,249.8 167.8,247.7 175.5,289.6 172,231 165.4,229.8 184.7,264.9 171.3,289 162.7,250.2 184,303.8 183.9,262.4 172.4,292 182.5,247.7 175.1,257.2 177.9,294.3 174.3,252.2 165.7,273.9 186.5,309.2 162.9,294.5 163.2,260.8 173.8,297 167.5,270.4 183.6,296.6 184.5,310.5 170.2,263.9 164.8,257.8 176.3,306 172,259.4 187.5,250.8 172.1,295.2 178.2,280.9 186.7,296.5 185.3,299.3 166,308.2 173.4,268 175.7,279.4 181.6,239.3 184.1,274 185.2,299.6 177.3,302.8 183,313.7 184.5,274.1 165.2,257.2 187.3,292.5 170.9,269.4 162.9,240.9 169.4,257.5 178.9,226.1 172.1,293.2 177.5,246 182.4,277.1 170.5,239.1 167.7,245.3 181.4,298.1 164.6,282 185.9,310.3 183.6,291.9 171.1,251.9 175.1,239.2 181.1,265.2 185.3,302.5 187.3,313.1 175.2,268.9 173,296.1 164,268.5 187.6,253.8 169.3,287.3 168,272.1 184.9,308.7 181.5,233.2 174.8,273.6 178.6,310.4 186.1,302.4 174.4,282.6 164,315.6 187.7,246.4 187,249.3 185.3,285.4 167.5,316.4 170.1,265.3 163.7,261.3 177,315.2 185.9,307.3 176.2,277.9 165.3,296 165.8,276.6 181.8,219 168.3,282.1 181.9,308.3 177.5,283.3 172.3,303 173.7,271 183.4,316.1 186.8,312 166.4,297.4 182.2,298.2 178,228.5 168.4,305.4 167.5,307.2 168,268.1 186.6,239.9 180.8,302.6 162.5,261.9 173.1,245.2 181.2,254 167.6,280 173.6,310 170.6,297.8 168.4,199.5 186.4,201.6" fill="none" stroke="none" marker-start="url(#mt)" marker-mid="url(#mt)" marker-end="url(#mt)"/><text x="233.2" y="186.9" font-family="&quot;Liberation Serif&quot;, serif" font-size="14">E</text><text x="269.3" y="187.3" font-size="18.9">M</text><text transform="translate(242.8,289) rotate(-90)" font-size="15.9">HS90α</text><path d="M269.3 193.3V326.6H454.5" fill="none" stroke="#7f7f7f" stroke-width="1"/><path d="M267.3 320.5H269.3" stroke="#555" stroke-width="0.8"/><text x="266.5" y="325" font-size="12.5" text-anchor="end" fill="#000">0</text><path d="M267.3 281.2H269.3" stroke="#555" stroke-width="0.8"/><text x="266.5" y="285.7" font-size="12.5" text-anchor="end" fill="#000">200</text><path d="M267.3 241.9H269.3" stroke="#555" stroke-width="0.8"/><text x="266.5" y="246.4" font-size="12.5" text-anchor="end" fill="#000">400</text><path d="M267.3 202.6H269.3" stroke="#555" stroke-width="0.8"/><text x="266.5" y="207.1" font-size="12.5" text-anchor="end" fill="#000">600</text><path d="M319.8 326.6v2" stroke="#7f7f7f" stroke-width="0.8"/><text x="319.8" y="337.8" font-size="12.5" text-anchor="middle" fill="#000">No</text><path d="M404 326.6v2" stroke="#7f7f7f" stroke-width="0.8"/><text x="404" y="337.8" font-size="12.5" text-anchor="middle" fill="#000">Yes</text><rect x="290.4" y="291.6" width="58.9" height="28.9" fill="none" stroke="#555" stroke-width="0.7"/><rect x="374.5" y="283.2" width="58.9" height="37.3" fill="none" stroke="#555" stroke-width="0.7"/><path d="M319.8 268.4V314.8M311.4 268.4H328.2M311.4 314.8H328.2" stroke="#333" stroke-width="0.6" fill="none"/><path d="M404 258V308.3M395.6 258H412.4M395.6 308.3H412.4" stroke="#333" stroke-width="0.6" fill="none"/><text x="312.2" y="203" font-size="8.6" fill="#000">T</text><text x="325.1" y="203" font-size="8.6" fill="#000" textLength="50.3" lengthAdjust="spacingAndGlyphs">test, p < 0.001</text><polyline points="331.2,301.6 325.2,308.6 310.7,313.6 312.7,296.3 308,274.7 328.3,231.8 311.7,243.4 327.8,304.2 313,292.8 329.5,241.6 308.9,291.8 326.6,294 330.6,267.5 319.2,313.9 315.4,298.7 322.2,314.9 330.9,235.3 310.3,271.6 324.2,308.9 317.7,311.9 329.6,306.7 311,316.2 326.6,263 320.9,286.5 322.7,280.8 319.8,273.7 317.2,237.3 312.6,293.5 323.9,315 318.8,310 330.6,281.3 311.5,239.3 309.1,315.9 324.2,289.5 327.6,311.8 323.7,287.2 319.1,258.5 309.4,271 309.2,292.5 318.3,238 329.9,313.4 311.6,312.6 324.7,258 326.6,314.7 327.7,270.9 324.8,305.6 322.7,290.1 324.7,266.9 319.4,311.6 320.8,304.4 329.6,296.7 327.6,303.7 309.5,296.4 315.6,279.8 313.9,280.5 307.7,313.5 308.1,303.8 317.8,251.9 312.8,297.7 332.2,312.8 314.5,303.8 314.8,296.4 307.8,296 324.8,298.1 332.2,293.4 326.9,293.2 328.8,289.7 308.5,287.6 309.8,300.3 314.6,301.5 317.7,300.2 311.2,312.2 308,288.7 320.2,256.9 332.1,278.1 317.5,233.3 311.7,276.3 313.2,298.9 311.5,288.8 307.7,316.3 323.6,283.2 324.9,301.3 331.7,258.7 317,278.9 310.2,290.9 310.2,305.4 319.4,290.6 326.6,273.6 309,307.1 327.5,308.9 312.5,291.8 308.6,289.7 310.8,288.3 323.8,302.6 308.5,285.2 320.8,309.8 331.2,292.5 318.2,293.5 331,296.1 313.3,293.8 324.9,298.9 331.4,273 313.8,315.6 330.1,284.7 329.8,273.5 329.7,297.4 317.4,310.3 308.1,310.6 314.3,309.1 317.3,265.6 315.1,282.7 324.5,237.7 323.6,272 312.7,290.3 319.2,294.8 328.9,310.2 323.3,270.9 326.1,299.6 328.1,292.5 320.5,308.8 325.4,293.4 321.3,266.8 312.3,284.6 308.9,304.3 320.5,287 327.5,273 329.1,290.2 326.9,272.8 318.5,300.1 324.4,299.5 319.1,308.9 327.3,287.9 315.1,297.9 317.9,271 325.3,301.3 329.6,282 327.5,287.6 310.6,281.6 310.6,307.6 312.9,287.9 314.5,298.5 310.5,268.7 331,302.2 320,271.5 308.3,279.3 316.6,315.2 319,292 326,289.7 327,252 311.5,303.8 315,314.8 329.5,275.9 318.2,300.7 321.7,315.4 331.9,304.4 317.6,263.4 309.2,236.6 320.6,275.8 312.4,250.1 312.5,289.6 315.1,305.1 317.3,300.4 311.5,303.8 327.4,266.8 307.3,284.1 330.5,299.1 322.9,290.7 313.1,311.6 307.4,264.9 313.2,294.1 330.5,295.6 315.9,308.3 316,289.2 310.1,290.9 324.1,282.7 314.4,231.6 314.6,310.8 309.1,301.9 310.9,299 311.3,304.9 332.1,254.7 321.3,264.9 331.3,286.8 314.9,271.6 319,285 330,296.4 325.8,294.1 321.5,298.8 323.6,296.3 308.7,303.3 331.5,298.7 331.2,243.8 325,239.9 316.8,290.8 314.7,240.8 314,315.9 311.5,292.6 308.1,312.3 307.6,301.5 318.4,234.9 318.9,288.9 313.4,305.8 319.1,304.4 332.2,298.3 314.5,316.2 330.6,249.6 313.9,260.8 320.3,311.3 322.8,262.8 310.5,257.2 328.7,263.9 311.2,310.8 315.7,277.1 320.5,313.3 329.4,301.6 328.7,281.6 315.9,290.4 322.8,281 313.6,285.8 316.7,296.2 315.6,286.2 320.5,310.5 317.4,306.4 332.1,314.4 315.8,308.4 328.9,245 330.8,264.1 329.2,282.4 331.5,288 328.5,297.5 317.8,310.7 322,270.7 327.1,258.4 318.9,270.6 326.1,293.2 326.2,306.9 322.8,291.2 312.6,302.8 316.3,277.2 329,304.9 316.2,281.8 321.2,287.4 311.6,302.3 320.1,232.6 330.2,297.2 324.2,300.1 329.5,312.3 328.1,296.7 317.9,291.8 310.8,310.6 328.1,301 330.7,292.7 324,311.3 314.3,283.3 326.3,308.5 319.3,265.5 310.9,289.3 316.7,306.9 325,294.3 321.3,266.1 321,313.4 312.5,269.6 319.2,294.6 312.4,314 322.4,298.1 320.4,281.8 308.4,315.9 319.7,281 312,285.8 326.1,305.2 330.5,258.3 322.9,290.2 323.1,284.4 311.2,288.2 312.6,310.2 309.7,287.4 328.9,244.6 331.6,313 330.4,292.9 323.5,245.5 324.3,303.7 322.9,272.5 330.2,304.9 327.4,277.3 320,244.5 319.6,279.9 326.9,298.3 312.3,313.2 322.8,304.5 316.7,237.2 323.9,312.9 316.8,261.3 313.3,298.3 328,310.8 320.6,271.9 324.9,285.6 321.8,280.9 328.9,316.5 326.3,254.5 331.7,295.8 324.8,310.8 327.5,282.5 329.4,315.4 324,307.1 331.8,293.3 310.6,309.2 310.9,312.5 319.6,259.7 325.9,288.3 323.5,255.9 330.3,254.3 323.4,299.4 316.1,263.8 313.5,295.3 332.1,265.3 323.4,312.2 307.3,312.8 315.6,273.3 319.1,289.6 317.9,251.3 331.7,313.3 314.6,298.2 314.5,261.1 307.3,263.2 325.3,229 318,311.2 308.8,306.8 322.9,301.6 312.5,239.9 311.6,290.8 327.6,290.5 307.5,258.9 331.2,299.9 329.5,302.7 313,278.4 313.1,304.2 319.3,280.3 308.6,233.8 327.8,316.4 320.4,316.2 328.4,261.7 328.1,289.1 323.1,293.6 325.5,269.6 332.3,224.8 314.7,303.7 313.7,289.8 319.6,272.3 311.6,260 323.9,251.4 330.6,292 322.9,313.9 315.7,308.4 322.4,230.9 322.9,313.6 307.9,286.8 325.8,292.8 314.1,293.4 314.7,289 309.5,294.8 327.2,303.2 326.3,315.3 312.6,283.3 317.6,270.9 325.9,276.3 319.3,295.6 323.5,310.7 318.3,277.5 327.4,277.4 327.1,285.6 325.7,266.5 310.3,280.2 319.7,315.3 322,290.8 309,295.9 322.9,229.3 327.5,293.5 322.3,279.4 331.1,277.4 313.8,295.5 326.1,315.7 325.9,313.9 326.4,276.5 319,280 322.4,299.6 328,253.1 332.3,257.8 316.5,305.6 315.2,233.2 311.8,311.4 314,296 314.1,307.9 316.4,283.2 314.6,302.3 311.1,271.9 322.2,268.4 322.3,268.6 315.3,240 324.9,309.5 314.4,310.7 318.9,292.6 310,311.8 308.9,250.2 321.8,310.1 327.7,308.3 332,302.5 309.7,315.3 308,304.1 317.6,265.3 324.3,219.4 330.2,272.5 317.7,309.5 320.8,287.3 307.5,304.6 313.2,282.8 330.1,290.7 314.5,315.7 329.6,290.1 312.3,295 312.6,253 316,301.4 316.9,309 318.2,269.4 319.1,304.3 322.8,263 314.7,296.3 321,261.7 321.3,242.9 326.1,315.7 332.1,259 320.9,306.7 328.7,244 329.2,283.5 321.5,299.6 331.5,295.3 309.7,300.7 314.8,292.2 326.1,295.9 309.7,298.9 311.3,300.8 309.2,276.5 329.5,283.6 317.7,288.1 313.6,299.4 328.8,308.3 324.6,274.4 313.5,225.4 312.4,304 325.5,305 331.6,222.4 312.6,241.3 307.3,304.1 330.5,316 324,314.8 310.9,298.1 311.9,295.7 314.4,309 312.1,305.3 327.6,264.1 331.9,306.5 318,300.6 313.3,286.8 314.5,305 330.4,297.8 324.1,271.5 330.4,299.4 326.3,313.4 313.8,245.6 313,315.4 327.2,290.1 329.8,237.5 309.6,298.5 313.8,271.6 315.3,279.5 324.8,280.3 312.8,315.4 319.3,281 319.9,280.6 329.3,284 307.9,276.3 319.7,269.7 319.9,298.3 317,244.7 309.4,312.6 317.3,278.3 325.4,311 332.1,281.2 331.4,266.5 330.3,310.5 329.5,310.2 308.9,275.2 330.1,299.2 313.4,281.1 328.4,310.4 326,290 328.2,300.5 319.5,301.1 317.9,248.6 322.3,273.9 329,298.6 323.5,276.6 319.3,297.8 311.9,290.1 321,297.3 332.1,300.7 313.2,298.1 326.7,260.2 327.5,298.9 331.4,290.9 327.6,310.4 323.1,298.8 319.7,253.1 318.2,313.8 322.9,267.6 312.9,315.1 315.5,283.6 329.3,220.8 309.4,307.6 330.6,308.8 325.4,272.5 307.9,249.4 319.7,303.4 318.5,286.8 323.3,242.9 317.8,271.5 331.9,283.9 318.8,293.3 307.9,290.1 314.5,284.5 313.9,309.4 309.9,304.2 308.8,265.8 328.5,278.6 308.6,283.5 309.3,265.4 309.2,262.3 323.5,300.5 318.8,311.3 317.4,284.7 326.7,316.6 319.2,287.9 317.9,299.6 325.3,285.5 315.7,269.3 313.5,289 329,279.1 307.8,312.6 323.2,246.6 308.4,268.5 310.3,298.8 313,302 313.3,258.5 322.1,307.1 322.5,273.3 330.9,271.7 326.9,276.4 307.8,283.1 317.5,254.9 326.2,309.7 332,254.8 318.1,310.6 308.7,287 310.5,311.7 326.2,291.4 326.8,287.4 321.5,304.2 323.6,264.6 327.6,297.5 320.5,299.4 313.9,286.6 323.2,305.3 310.1,298.8 325.2,300.2 317.7,293.1 317.8,316.5 322.8,304.3 325.2,314.8 316.7,283.3 329.8,294.1 331.1,312.3 331.4,311.8 330.6,302 320.2,291.7 313.6,261.1 328.8,276.8 320.8,306.3 314.8,266.7 320.1,299.1 317.8,273 319.1,315.1 331.2,303.1 319.8,301 316.3,283.2 326.1,276.7 328.8,259.2 324.9,258.6 309.2,286.2 315.6,289 330.5,311.6 322.1,302.5 309.4,237.1 324.9,248.1 324.9,304.3 313.7,237.4 325.4,293.8 312.9,304.7 331.3,284.3 323.3,282.8 311.1,297.2 321.1,313.1 328.8,293.3 311.3,294.3 329.1,279.1 329.4,285.7 310,298.9 328.7,293.4 307.8,250.7 322.9,263.9 321.7,266.6 331.3,307.2 322.3,275.2 318.7,296 312,310.1 325.4,309.8 329.1,309.2 315.7,280.3 331.3,268.8 328.1,267.4 317.4,314.4 312.8,310.9 316.3,304.3 320.9,314.2 309.8,243.6 331.3,313 316.7,311 312.8,296.1 322.6,299.5 326,278.4 311.1,314.8 316.6,314.1 317.4,305.6 328.5,295.3 313.7,309.3 316.1,302.3 312.1,260.5 319.7,269.4 317.1,301.3 324.9,260.7 316.3,286.9 311.7,274.7 310.7,272.6 324.9,303.6 311,251.7 311.5,245.2 325,309.3 326.2,295.1 308.6,307.2 309.9,280.7 313.9,300.2 315.9,243 320,302.9 311.4,289.5 330.6,290 311.2,247 329.7,309.2 314.2,304.5 321.9,270.6 318.4,310.1 311.6,314.2 310.1,263.8 318.4,262 318.1,295.4 308.1,270.3 316.3,257.7 307.9,311.7 308.7,268.7 325.8,302 330.1,311.5 312.1,312.5 318.6,315.5 330.3,304.2 315.2,254.1 311.5,298.2 324.9,291.8 313.3,289.4 319.6,300.8 314.9,280.5 317.1,274.3 312.4,273.3 307.6,303.6 316.8,299.1 329.2,289.6 324.4,255.5 329.4,313.6 315.3,289 307.6,273.6 312.5,296 314.5,268.3 329.6,296.6 330.2,285.3 313.4,304.4 313.6,294.3 318.1,311.3 313.8,260.5 328,310.3 324.8,280 330.8,276.7 317.7,276.6 332.3,276.4 317.4,309.2 313.2,315.9 328,261.7 324.5,235.8 318.4,290.3 323.1,313.3 308.3,290.1 321.1,273.2 307.6,316.2 320.4,293.9 328.8,304.6 309.2,303.4 314.8,279.3 315.5,312.3 309.5,280.3 320.9,293.3 327.7,248.2 322.6,269.8 309.7,294.9 313.1,240.2 319.2,290.4 325.8,249 316.6,298.4 332.3,306.5 319.7,301.4 332.3,235.1 327.6,258.9 312,283.9 329.8,290.2 318.1,302.3 331,311.9 317.1,304.9 327,310.2 325.8,298.6 313.9,312.8 309,315.6 311.5,269.2 317,291.1 330.1,314.4 320.4,300.8 330.4,301.2 328.4,249.9 330,311.5 321.6,256.5 323.4,256.8 323.8,290.8 331.3,310.9 328.7,242 322.3,310.4 322.8,272.6 321.8,224.9 324.5,288.3 328.4,299.5 307.7,273.4 323,269.2 324.7,293 309.9,311.2 311,297.7 325.4,264.8 316,277.5 325.9,308.8 332.1,309.3 325.5,277.2 321.2,264.5 309.4,288.6 328.1,237.2 325,276 313.1,311.4 328.6,305 328,278.6 328.5,306.4 317.1,262.5 325.8,289 322.4,305.5 314,290.3 312.5,273.8 314.2,315.9 307.3,272.5 309,302.9 325,257.6 330.5,294.8 329.9,307.7 328.6,302.7 315.3,315.6 313.1,221.3 317.5,248.2 324.2,218.8 329.9,274.8 318.9,297.5 329.8,252.3 329,282.3 317.3,289.8 310.4,278 323.3,282.5 317.3,315.9 330,285.8 319.8,289.3 321.2,250.5 322.6,266.7 315.2,260.9 312.7,270.3 321.2,312.7 309.7,290.9 322.3,305.1 321.1,276.3 330.7,281.2 308.1,302.9 313.5,279.7 313.3,309.2 330.5,282 319.6,271.4 331.4,299.3 320.5,256.9 312.6,314.9 308.8,310.1 323.3,290.3 330.6,291.2 319,284.8 331,302.3 317.5,315.5 307.4,312.2 330,267.4 318.4,286.2 316.1,300.1 332.3,299.4 318.3,307.8 311.5,296.8 316.3,279.7 321.4,232.3 331.1,291 328.2,306 317.6,281.9 330.4,309.2 322.9,308.3 313.6,293.7 312.2,313.6 308.6,291.9 312.2,314.1 311.7,269.6 311.4,257.2 311.6,285.9 316.7,290.1 307.9,269.5 313.3,280.9 322.6,293.9 319.6,296 322.7,249.3 323.6,276.1 325.2,292.4 311.7,290.7 325.5,316.3 327.7,302.4 325,291.5 320.3,303.3 310,255.3 313.1,303.8 319.2,295.9 315.8,309.2 317.2,303.5 313.8,310.9 319.1,272.7 327.5,308.6 309.5,305.6 331.7,246.9 311.3,280.4 328.5,308.4 312.8,293.5 313.7,267 329.6,246 331.2,315.3 321.2,282.4 325.9,271.4 313.7,313.8 309.6,297.9 315.7,259.7 314.9,295 315.3,298.9 323.2,254.9 312,294.1 316.6,312.4 321.5,272.4 331.7,313.4 321.3,298.3 324.8,283.7 319.5,250.7 327.2,264.5 308.4,239 317.4,312.9 312.5,315.1 316.1,270.5 314.8,277.3 324.9,299.1 322.6,266.7 323.9,279 318.2,293.5 311.7,282.8 312.8,316 320.9,271.6 313.4,290 318.3,285.5 330.7,311.8 314.8,288.6 309.9,296.5 331.6,282.2 327.8,306.2 310,290.8 329.7,306.4 322.3,284.7 311.9,277.3 326.1,274.8 318,235.6 330.5,299.9 331.4,307.7 309,311.2 328.9,293.2 308.4,299 329.9,299.6 319.5,275.8 309.4,281.7 317.3,293.7 315.4,308.8 324.8,295.4 325.1,254.2 316.5,299 325.2,315.4 307.4,277.6 313.1,269.8 309.9,314.6 311.2,287.7 314.6,276.7 311.7,279.2 320.2,310.3 331.4,309.6 330.6,261 326.5,273.5 327.7,296.7 310.8,280.5 309.3,298.5 323.9,269.8 317.8,259.7 312,283.1 309.3,239.1 314.9,255.3 318.5,294.9 307.8,243.7 317.4,303.5 311.2,305.4 329.2,296 325.6,297.5 312.5,314.1 310.4,272.6 326.9,286.1 326.4,292.1 331.7,259.5 310.7,272 321.1,248.6 328,284.6 318.5,292.9 313.5,295.4 310.4,272.9 314.5,294.5 316.3,289 323.7,260.6 309.2,292.3 326.2,273.9 310.4,297.1 313.9,264.6 318.6,309.9 308.4,297.7 315.8,255.5 331.2,287 331.2,299.8 327.6,272.5 314.7,299.7 320.7,261.2 327.8,283.1 307.2,287.3 317.7,270.9 320.6,316.1 323,248.1 313.2,284.8 315.7,269.1 332.4,294.9 309.2,291.3 328,299.8 321.9,316 332.2,292.6 321.9,291.2 317.3,297.9 331.5,291.2 322.3,300.5 322.2,301.2 328.1,267.6 315.9,247.9 322.3,314.9 327.1,234.3 312.7,315.1 313.4,301.1 326.2,264.7 328.8,300.9 325,270 323.4,288.3 310.6,304.8 328.6,303.1 332,302 329.5,298.8 320.5,304.5 310.4,275 318.4,290.3 330.3,270.2 324.2,289.8 311.1,265.6 331.2,304.9 323.7,289.5 326.4,304 309.9,303.7 322.5,281.2 327.2,270.9 311.3,277.4 314.2,300.8 329.2,312.4 320.6,238.6 326.9,267.2 326.7,285 320.5,310.5 317.9,252.9 325.9,299.8 316.7,315.1 324.2,306.4 309.5,306.4 326,289.8 326.5,311.3 328.2,306.3 319.9,315.6 327.8,309.1 312.8,257.6 307.7,290.8 329.6,264.7 310.5,303.5 313,305.1 314.2,295.6 307.8,313.8 313.1,302.1 317.4,300.2 311.5,225.3 330.4,245.8 308.6,229.3 314.5,249.3 312.6,271.6 320.7,292.1 309.2,251.5 320.9,313.4 311.4,251.1 326.3,284.6 316.9,311.8 316.5,312.4 328.9,312.3 311.3,294.7 320.2,288.8 325.6,312.3 319.5,308.8 332.3,309.7 332.3,301.7 309.2,300.8 331.1,294.2 329.7,280.3 309.9,296.6 326.3,219.2 315.7,274.4 313.8,307.4 320.6,304.6 309.2,293.5 327.2,299.3 331.5,274.3 314.5,228.8 332.1,300 330.9,316.5 318.3,247.5 318.9,270.6 323.5,284.3 308.9,307.3 312.5,309.7 321.3,276.1 316.3,316.4 320,288 311.6,271.3 331.3,286.8 318.1,291.1 313.2,289.5 308.3,301.1 321.9,298.4 317.6,314.7 324.5,278.4 324.7,277.3 308.9,264.8 309.8,251.2 318.7,281.6 318.1,289.3 317.9,299 320.5,282.2 318.4,284.1 328.5,313.5 322.2,253.9 314.7,278.1 317.3,242.1 313.1,300 321.5,285.7 329.2,282.7 323.6,290.9 330.5,237.8 326.3,315.7 322.2,311.1 328.1,275.4 324.1,282.7 307.5,315.5 323.6,309.3 326.7,305.2 326.7,242.1 314.4,295.5 311.7,257.3 307.2,302.9 313,274.4 312,270.6 314.5,290.2 309.7,259.7 311.8,266.7 310.4,304.5 313.2,289.4 317.3,298.4 327.8,306.9 330.3,288.6 322.1,309.4 320.1,292.3 319.5,292.4 331,259.5 329.6,315.3 323.3,276 316,266.8 328.4,254.6 331.2,299.1 319.7,248.9 312,289.2 319.5,303.6 315.5,254.8 309,298 323.4,291.1 322.4,256.6 321.8,301.3 309.7,279.4 324.1,291.2 317.8,304.3 315.4,277.3 315.5,279.8 318.5,236.9 320.7,314.8 327.4,263.1 322.2,284.2 308.1,305.6 318.3,304.6 325.1,286.2 316.6,304.5 308.2,306.6 331.2,309.1 320.4,234.2 311.8,310.2 330.9,279.1 308.5,295.9 309,247.4 310.5,269.4 312.1,299.2 322.3,284.5 330.8,315.8 316.4,311.4 330.3,312.2 314,316.3 315.3,297.5 320.9,299.6 328.3,314.9 324.5,266.3 316.8,273.3 314.5,309.5 315.8,307.7 329.3,302.5 315.1,303.7 311.6,283.7 313.9,265.5 317.1,298.8 331.3,259.8 319.2,284.2 329.4,259.4 329.8,306.4 322.1,296 325.6,265.4 310.6,293.5 317.7,270.9 309.9,307.9 309.9,262.3 319.5,315.5 328.2,291.3 309.4,283.6 308,285.7 328.3,259.2 318.5,252.9 310.3,263.2 329.9,314.6 321.1,287.8 326.2,231.2 330.3,266.4 310.5,303 311.1,266.4 330.9,266.1 315.3,312.2 322.1,315.2 321.1,264.9 312.7,258.7 314.7,314.7 310,286.2 320.2,270.6 323.1,286.2 307.6,260 328,281.8 313.6,292.9 320.5,273.1 308.8,312.9 315.6,252.1 309.5,298 322.1,293.5 315.3,301.2 330.4,289 310.5,285.1 320.9,222.6 331.3,308.9 314.5,296.2 329.2,267.2 332.2,306.6 309.3,293.7 320.8,310.9 317.7,287.6 319.3,261.4 327.8,308.9 327.3,307.8 313.7,315.7 321.8,301.3 331.4,306.1 313,316 312.1,297.6 321.4,306.6 317.3,289.3 314.5,285 326.8,307.5 331.2,292.7 313.5,288.6 310.3,307 318.7,297.5 320.6,295.5 329.5,294 331.3,298.5 320.7,316.4 323.6,313.2 321.4,312.8 307.3,297.7 321.5,313.8 324.6,249.2 316,310.2 322.7,298.7 317.9,293.1 330.4,278.8 319.3,261.1 321.4,263 311.6,308.3 325.5,295.1 318.9,310.1 311.1,287.2 320.1,292.7 312.6,305.7 316,310.1 314.3,314.8 320.1,308.8 321.6,270.1 327.3,297.6 320.2,272.4 329.4,299.6 328.3,306.7 308.3,237.1 316,266.7 309.7,298.6 329.1,310.8 308.2,273.4 313.3,277.4 322,276.2 310.3,289.3 330.9,298.7 314,283.1 309.9,269.5 310.3,285.9 317.6,259.5 319.4,311.6 322.6,310.5 309.7,297.6 311.6,267.9 315,218 308.9,312.6 309.3,302.4 315.9,270.8 316.6,304.1 325.9,286.1 331.8,275.2 311.1,287.8 326,267.5 308.1,243.8 311.9,291 308.8,295.2 308.8,290.4 311.6,295 321,311.9 326.7,310.6 330,312.4 330.4,282.1 315.2,290.1 328.5,310.8 322.1,298.3 324.1,275.9 324.4,290.5 313.6,280.6 330.9,313 316.5,291.5 309.6,297.3 319.5,265.7 321.5,316.6 321.5,273.2 322.2,308.8 331.9,316.2 320.9,269.8 326.5,307.9 325.7,307.9 321.2,315.1 322,273.1 329.8,301 313.3,271 326.6,293.5 317,291.4 323.9,316.3 332.3,267.6 318,290.6 327.9,309.3 317.8,287.1 313.4,295 311.3,315.7 329.5,265.8 331.8,294.2 326.4,306.4 315.9,301.9 330.9,307.5 319.4,264.8 319.7,236 329.3,285.3 307.6,292.2 325.9,304 317.9,289 327,285.2 315.9,283.8 311.4,304.5 322.4,276.7 322.7,274.9 317.1,255.8 316.1,314.2 331,309.7 311.4,288.6 324.5,313.5 316.9,283 332.2,293.8 331.9,274.7 326.4,308.7 320.9,265.1 319.3,312.8 310.7,308.3 321.7,314.5 311.4,199.5 313.1,205.9" fill="none" stroke="none" marker-start="url(#mr)" marker-mid="url(#mr)" marker-end="url(#mr)"/><polyline points="410.5,267.3 413.6,229.7 398.7,258 392.4,287.8 413,270.8 407.9,290.1 399.4,307.3 399.2,280.2 403.9,262.9 414.8,255.9 396,310.9 415,306.5 401,260.5 412.9,313.6 398.3,300 408.6,308.2 406.8,298.1 413.5,303 416.3,305.3 408.3,301.4 411.1,292 399.8,297.2 396.8,223.6 408.4,299.5 395.7,312.1 397.4,292.4 406.8,257.3 393.9,264.4 394.5,248.1 408.4,292.5 403.9,304.1 394.9,252.1 406.2,303.6 410.7,238.3 403.6,251.4 394.7,250.4 396.4,295.5 411,285.3 395.5,277.2 416.1,293.6 414.5,243.6 397.8,260.2 398.4,241.8 416.3,294.4 413.3,292.6 416.3,308.1 409.4,256.9 404.6,286.5 399.4,297.3 395.3,294.1 408.7,306.8 410.7,238.8 410,294.1 399.8,288.4 409.8,263 409.4,252 401.7,315.1 393.9,273.1 416.3,295 407.8,299.6 407.2,250.8 393.1,228.8 407,309.3 405.2,307.4 401.5,307 408.5,250.6 414.4,312 414.7,313.5 394.3,304.7 394.3,315.3 400.6,268.2 409.6,278.7 394.8,312.4 396.7,315.3 398.2,290.3 404.6,294.1 415,279.3 407.7,258.2 405.1,253 405,309.2 407.2,284.2 410.7,282.8 402.9,245.7 407.2,316.2 411.3,272.8 400.3,244.3 401,234.7 394.1,311.5 396.9,219.8 406.7,246.3 413.2,286 402.3,262.9 405.3,307.4 408.2,288 403.1,298 410.5,311.2 395.2,302.7 395.3,299.1 415.8,263.9 408,257.7 391.8,289.1 404.6,305.4 413.1,301.5 413.4,286.4 415.4,297.2 402.8,293.6 394,218.4 413.9,273.7 416,301.4 394.1,241.8 398.2,233 399.2,297.2 399.8,252.8 413.1,285.9 399.9,308.3 392.4,219.4 410.5,315.7 404.2,256.5 411.9,275.4 408.1,291.4 416,262.4 403.9,218.8 404.1,286.5 415.5,311.3 396.1,291.1 401.1,273.1 416.1,305.4 416.3,247.7 411.8,304.7 409,259.1 412.3,266.4 413.8,278.8 407.4,300.1 403.6,211.7 404.8,230.9 399.3,229.2 400.9,290.2 410.9,312.6 392.6,299.7 413.5,314.8 398.6,239.7 406,294.1 396.1,313.2 411.9,301.2 410.4,274.5 396.2,307.8 403.6,283.5 404.1,316.1 406.4,296.6 392.3,315.4 411.2,283.9 409,308.6 406.9,234.9 400.3,312 407.2,281.1 406,294.7 398.5,307 401.7,307.1 415.3,290.3 399.1,304.1 403.8,285.8 400.2,305.4 408.3,307.4 401.4,291 414.7,304.2 395.2,310.6 399,271.1 415.9,243.7 408,313.7 409.8,285.5 402.8,310.4 393,310.7 392.6,228.7 410.9,220.4 416,288 403.5,288.1 409.4,278.4 400,260.4 410.4,295.7 398.2,314.9 400.9,247.9 411,300.1 404.1,297.5 404.5,274.1 392.2,308.9 399.1,278.3 398,245 402.2,294.5 395.9,299.4 414.7,238.2 412.1,239.7 411.6,264.3 401.7,312.7 407.7,279.3 400,271.9 398.5,305.5 414.4,279.2 411.2,288 413.2,310.6 407.4,314.4 408.4,277.2 416.3,274.4 405.9,312.8 398.2,297.6 396.7,258.7 414.6,304.3 396.6,305.9 393,312.9 405.8,292.8 393.8,278.6 403.1,259.2 399.3,304.2 399.9,272.7 410.5,280.5 399.8,299.8 414.5,262.8 412,251.5 412.7,311.9 398.2,310.4 400,271.6 398.2,302.8 401.7,261 398.7,283.6 401.5,313.9 407.1,259.6 406.5,261.3 410.6,278.9 412.5,303 401.1,281.6 414.2,280.9 401.6,242.5 397,283 401.3,266.8 398.5,248.1 397.8,249.4 394.3,312.6 413.6,283.8 397.6,295.8 414.2,249.1 414.4,259.4 416.4,307.2 400.4,239.6 392.1,309 411.1,308.8 411.4,258 414.4,266.6 404.7,307.8 412.9,304 399.6,254.9 392.8,287.3 397.2,274.5 413.4,314.4 410.4,286.1 395.2,278.2 400.1,248.3 403.3,263 414.7,284.7 412.1,236.3 397.3,311.6 397.9,294.6 414.4,291.6 410.5,299.1 410.4,269.8 401.3,261.2 414.2,229.1 396,279.6 392.2,237 415.1,300.6 394.3,285.8 391.7,256.4 412,227.2 403.4,265.4 414.8,297.3 403.3,298 407.4,309.3 402.8,269.9 404.8,314 397.9,266.6 393.7,269.2 403.7,244.2 403.3,261.3 407.4,270.1 394,250.2 398.3,294.8 394.1,254.2 391.7,290.8 398,226.6 394.4,260.1 396.4,267.5 405.6,252.6 404.9,314.1 398.6,260.2 392.1,313.6 415,252.5 416.3,316.1 400.1,293.6 406.8,307.5 395,258.7 407.8,283.1 396.4,285.5 404.6,302.6 415.2,298.5 410.6,303.8 398.6,267.8 413.3,271.5 398.8,240.3 408.8,284.2 397.6,260.5 413.4,246.7 394.8,287.2 396.8,296 407.7,289.6 392.5,310.1 410.2,245.7 399.7,251.6 412.8,220.3 398.6,302.5 407.6,314.5 404.6,227.4 411.9,285.1 398.6,295.6 392.2,260.5 414.5,303.6 398.3,312.6 412.9,306 400,290.6 399.5,303.2 398.3,266.3 411.2,258.6 395.5,310.6 408.6,281.6 403.6,306.4 405.2,312 412.9,299.5 391.7,282 408.6,315.3 406.4,290.4 397.8,316.3 391.7,303.2 414.1,215.9 406.4,297.8 416.6,268.5 406.1,247.6 401.5,236.7 407.3,302.3 415.6,308.1 396.4,315.5 416.2,263.7 400,252.5 403.5,301.3 405.2,224.5 394.7,304.3 397.7,297.2 399.9,314.7 399.1,285.7 392.1,300.7 410.1,267.9 413.6,257.7 398.4,272.3 391.8,287.1 406.8,294.3 403.2,293.1 394.3,270.1 413.9,261.9 406.8,240.5 411.7,265.4 394.2,314.8 402,312.2 407.4,311.7 402,268 412.2,232 415.1,291.1 411.1,314.8 400.7,250 401.4,280.6 405.1,281.4 394.8,234.3 406.9,239.3 410.3,294 393.4,303.2 410.6,302.7 407.3,297.9 409.6,295.9 395.2,312.4 409.4,259.5 396.8,224.2 402.4,308.6 413.7,250.3 409.3,312.9 401.3,261.7 414.5,226 394.4,274.8 394.7,263.9 411.8,275.1 400.6,273.3 410.8,273.2 392.6,290.4 393.4,299.7 403.5,313.8 401.8,306.6 408.4,295.7 405.2,298 414.2,232.7 391.5,313.3 402.2,286.3 408,234.1 392.9,310.4 414,289.9 409.3,276.7 402.2,310.4 407.1,315.4 398.1,297.4 403.5,277.4 395.8,258.7 392.6,225.5 396.5,237.3 410.8,283.1 399.6,300 408.8,314.4 414.1,266.9 395.3,306.1 409.6,292.5 402.5,284.8 407.5,305.8 414.6,292.4 411.2,289.7 412.3,298.2 395.6,282.5 412.2,304.2 415.9,229 415.2,287 411.6,285.2 412.5,306.9 405.6,289.3 415.1,297.3 410.2,280 393.8,282.9 400.6,295 394.3,311.9 414.7,265.5 391.5,246.5 404,302.5 409.2,308.2 401.9,316.2 414.5,279.3 400.1,298.7 401,259 397.4,264.7 413.1,275.1 407.1,310.4 410,295.1 406.5,315.6 402.1,300.5 391.7,284.5 410.6,308.8 415.5,296.6 396.7,290.8 407.7,279.3 407.4,255.9 392.6,278 405.3,303 408.3,279.2 412.1,257.1 404.9,258 391.5,295.1 404.7,271.5 415.3,303.2 404.9,315.8 407.8,256.3 391.7,263.7 412.3,248.8 400.6,281 393.8,281.4 413.3,241.5 399.3,283.5 413.7,314.3 399.7,297.9 396.5,316.1 415.8,247.3 391.8,315.1 402.9,277.2 407.4,274.5 415.2,302.9 405.5,276.7 403,289.9 397.8,290.9 398.8,280.7 398.3,315.4 403.6,229.4 393.2,300.5 412.1,235 414.2,251.9 401.2,307.9 408,315.2 415.8,255.1 411.4,303.3 403.7,276.6 393.4,308.1 394.4,202.6 415.4,201.6" fill="none" stroke="none" marker-start="url(#mt)" marker-mid="url(#mt)" marker-end="url(#mt)"/><text x="460.5" y="186.0" font-family="&quot;Liberation Serif&quot;, serif" font-size="14">F</text><text x="490.7" y="187.8" font-size="18.9">BCLC</text><text transform="translate(472.8,289.5) rotate(-90)" font-size="15.9">HSP90α</text><path d="M489.3 189.0V330.5H684.5" fill="none" stroke="#7f7f7f" stroke-width="1"/><path d="M487.3 323.4H489.3" stroke="#555" stroke-width="0.8"/><text x="486.5" y="326.8" font-size="9.5" text-anchor="end" fill="#000">0</text><path d="M487.3 281.7H489.3" stroke="#555" stroke-width="0.8"/><text x="486.5" y="285.2" font-size="9.5" text-anchor="end" fill="#000">200</text><path d="M487.3 240.1H489.3" stroke="#555" stroke-width="0.8"/><text x="486.5" y="243.5" font-size="9.5" text-anchor="end" fill="#000">400</text><path d="M487.3 198.4H489.3" stroke="#555" stroke-width="0.8"/><text x="486.5" y="201.8" font-size="9.5" text-anchor="end" fill="#000">600</text><path d="M525.9 330.5v2" stroke="#7f7f7f" stroke-width="0.8"/><text x="526.5" y="342.3" font-size="12.5" text-anchor="middle" fill="#000">A</text><path d="M586.9 330.5v2" stroke="#7f7f7f" stroke-width="0.8"/><text x="587.5" y="342.3" font-size="12.5" text-anchor="middle" fill="#000">B</text><path d="M647.9 330.5v2" stroke="#7f7f7f" stroke-width="0.8"/><text x="648.5" y="342.3" font-size="12.5" text-anchor="middle" fill="#000">C</text><rect x="504.5" y="306" width="42.7" height="17.4" fill="none" stroke="#555" stroke-width="0.7"/><rect x="565.5" y="298.8" width="42.7" height="24.6" fill="none" stroke="#555" stroke-width="0.7"/><rect x="626.5" y="284.9" width="42.7" height="38.5" fill="none" stroke="#555" stroke-width="0.7"/><path d="M525.9 291.4V320.5M519.8 291.4H532M519.8 320.5H532" stroke="#333" stroke-width="0.6" fill="none"/><path d="M586.9 278.9V318.7M580.8 278.9H593M580.8 318.7H593" stroke="#333" stroke-width="0.6" fill="none"/><path d="M647.9 254V315.7M641.8 254H654M641.8 315.7H654" stroke="#333" stroke-width="0.6" fill="none"/><text x="519.1" y="199" font-size="8.6" fill="#000">T</text><text x="531.6" y="199" font-size="8.6" fill="#000" textLength="49.6" lengthAdjust="spacingAndGlyphs">test, p < 0.001</text><polyline points="525.1,317.3 532.8,315.7 534.8,318.6 525.1,308.9 534.1,286.1 524.3,314.7 530.3,294.4 517.6,310 531.5,302.4 520.2,295.8 532.9,319.1 517.9,305.2 527.8,319.8 516.8,319 525.9,308.5 524.9,304.3 534.3,316.5 533.6,311.1 528.6,306.8 527.5,291.8 533,303.8 526.8,305.6 525.1,273.9 517.9,309.6 532.5,294.9 525.3,309.1 521,283.4 519.5,305.5 523.4,318.9 527.4,298.8 531.7,309.4 524.5,317.7 534,306.3 516.9,307.1 524.6,281 519.1,304.9 521.4,319 518.4,315.4 533.3,315.3 521.7,282.1 526.2,319.9 520.3,293.8 522.2,317.9 532.9,284.3 522.4,314.9 520.6,318.9 520.7,304.9 533.8,317.3 528,311.4 530.5,305.2 520,317.3 524.2,319.5 520.5,303.4 530.9,306 517.1,318.6 526.4,312.6 517.4,262.3 521.5,307.2 523.5,282.8 529.4,297.4 531.2,319.9 528.2,316.9 528,312.6 529,307.6 525.9,302.5 526.6,304.5 530.4,316 524.1,303.9 518,291.4 530.5,311.5 528.5,314.4 526.5,306.9 517.2,301.7 531,310.6 527.7,317.3 533.6,310.4 521.1,314 531,301.7 522.4,307.9 527.3,307.5 521.1,314.4 525,294.9 521.9,303.4 527.8,304.5 525.6,299.7 528.7,305.4 522.7,315.7 530.5,318.2 518,313.3 526.9,305.4 520.5,305.2 520.6,315.5 529.1,314.8 521.7,299.9 522.7,297.9 525.6,286.5 521.1,295.3 524.5,310.8 529.9,304.2 520.6,314.1 522.5,317 532.2,309.9 531.3,319.7 522.4,313.3 530.2,286 529.4,301.1 529,307.9 531.6,311.1 518.6,318 520.5,307.4 534.7,306.3 525.1,308.1 518.1,314.5 529.1,317.2 517.5,313 518.5,311 527.8,301.4 525.9,299.9 518.1,318.4 534.7,305 520.4,319.5 528.2,305.1 517.2,295.5 524.9,278.3 534,314.5 522.1,298.1 517.8,302.9 522.2,313 528.5,307.6 522,313.8 517.6,309.6 523.7,290.3 526.8,311.6 520.6,307.1 518.8,318.5 519.3,310.4 529.8,304.7 523.8,304.4 520.3,290.2 520.8,300.5 519.6,277.4 521.2,319.3 527.9,304.9 533.7,267.5 526,293.2 518.1,301.8 530.3,308.4 527.5,294.1 519.8,311.4 518.3,315 516.9,314.8 534.7,315.7 535,317.9 527.7,299.4 519.2,308.4 534.1,305.7 523.4,308.1 528,319.7 524,308.2 531.2,311.1 519.4,299.8 529.1,317.2 529.4,316.6 534,316.9 526.6,306.1 524,302.6 524,311.6 532.8,315.2 524.4,300.8 527.1,318.5 518.2,307.6 534.3,275.5 522.3,312.7 531.7,300.3 529.9,306.9 517.4,306.1 532.4,314.2 517.4,316.8 524.6,309.1 521.8,303.9 525.9,320 523.7,306.3 534.3,315.2 528.6,315.5 534.9,306.3 533,294.2 528.1,314.1 530.1,268 525.9,309 530.2,306.2 517.6,304.5 527.5,304.7 523.4,301.8 525.5,265.3 522.3,297.5 525,309.3 533.6,319.3 534.2,318.5 519.4,307.3 521.9,300.4 534.6,305.7 518.9,311 519.5,317.9 524.5,309 527,315.2 523.6,291.5 521.7,306.4 520.9,269.6 518.9,313.2 519.4,307.8 529.1,294.5 525.5,292.4 534.1,297.3 531.4,317.5 519.2,305.8 516.9,292.6 528.3,317.8 534.7,303.2 519.7,312.6 525.5,308.8 519,304.1 528.6,316.1 530.6,311.7 530.9,312.8 531.5,318.5 517.2,311 521.8,302.1 518.5,302 524.8,311.6 519.7,303.8 524.7,315.8 519.6,317 517.7,309.3 517.9,319.8 528.9,314.3 532.7,294.7 525.8,309.4 532.6,304.4 534.4,303.4 529.9,302.8 530.1,308.3 525,307.4 518.2,318.1 530.7,317.4 534.1,313.3 527.5,320 521.5,282.9 531,308.1 526.8,262.6 519.5,310.9 530.5,308.9 526.7,305.2 530.5,292.8 530.6,296.6 525.7,316.2 530.6,313.2 522.8,304.5 530.5,296.3 519.2,302.7 519.6,317.6 530.4,275.9 534.4,315.3 517.9,319.6 534.4,309.5 518.6,317.4 533.2,303.7 526.7,316.9 524.2,303.7 525.2,302.7 529,310.5 518.3,308.2 533.7,303 524,307.1 523.2,312.3 525.3,315.8 527,317.4 517.2,274 521.9,305.5 529.7,311.1 521.7,294.4 533.6,296.1 531.2,314.6 519.8,317.3 521.1,308.8 526.2,302.3 523.8,304 529.2,306.3 525.9,305.9 523.1,309.5 528.4,306 526.5,278.2 520.9,307.6 529.8,309.4 524.4,315.5 530.1,308.1 527.8,288.9 529,303.1 531.4,314.4 520,306.6 521.9,305.8 517.7,275.8 527.3,296.3 524.4,319.5 520,304.9 526.6,305 532.2,305.2 528.2,317.6 529.5,316.3 519.9,303.6 524.2,259.2 524.4,318.6 525.4,308.3 532.2,305.4 527.7,312 524.8,317.3 533.6,319.2 532.8,319.7 522,297.1 523,314 519.4,298.8 527.9,304.2 523.2,309 520.1,307.8 532.2,309.4 531.1,307.4 521.7,291.9 516.9,316.9 527.2,307.8 534.6,312.5 533.9,304.1 531.5,296.6 526.5,316.7 532,319.6 532.5,312.8 519.7,306.9 534.5,314.6 534.5,307.6 533.2,317.1 534.7,306.1 525.9,299.1 534.4,305.2 523.7,304.5 532,295.1 518.5,301.8 528,308.9 529.5,316.5 533.8,306.6 533.1,306 521.5,299.5 529,304.1 520.5,315.5 526.6,302.6 527,312.4 521.9,304.7 524.3,313.7 532,307.5 523.3,319.7 518.4,320 532.8,306 523,309.5 531.3,309.9 527.8,293.1 519.3,289.7 519.7,318 529.5,304.9 523.2,302.5 534.3,302 529.5,316.6 517.2,317.6 519.7,315.7 531,286.2 528.1,306.6 521.5,317.8 523.3,311.6 519.4,316.8 523,317.5 519.7,276.8 527.1,311.7 517.7,316.9 519.3,307.9 521.3,290.3 529.2,295.4 522.1,318.1 517,293.6 517.6,311 527,319.5 518.2,299.7 533.2,306.1 520.4,315.2 525.2,318.2 520.5,311.3 527.6,273 524.1,237 530.2,237 521,239.7 527.1,239.7 520.4,246.1 520.4,251.3 521.6,252.8" fill="none" stroke="none" marker-start="url(#mr)" marker-mid="url(#mr)" marker-end="url(#mr)"/><polyline points="595.1,296.4 595,315.7 593.4,315.2 594.5,311.7 584.9,261.3 587.1,300 590.6,309.7 595,300.7 578.9,304.1 588.4,313.6 585.9,248.9 578.3,300.7 589.9,278.6 579.9,304.1 589.4,298 579.2,288.7 582.6,284.4 594.1,292.6 588.4,309.5 583.1,291.2 581.3,308.8 580.7,270.3 594,319.9 589.5,241.9 580.6,313 588.6,311.2 580.2,312.1 582.9,305.1 589.7,310.5 593.1,282.2 595.1,265.4 594.6,296 586.1,316.2 584.5,296.5 591.1,319 588.4,309 578.6,293.3 585.3,314.4 585.8,290.7 584.9,300.4 583.1,299.4 579.8,314.1 593.7,272.2 591.3,296.2 580.6,298.2 595,282.3 584.1,302.3 591.2,298.4 581.5,298.4 594.9,312.5 591.3,286.7 590.7,301.8 593.7,318.5 590.6,258.3 593.3,315.2 583.5,311.5 592.3,304.6 588.9,268.4 587.5,232.2 594.8,299 585.3,296.9 588.1,301.8 580.1,298.4 582.3,313.6 589.9,307.8 580.9,294.8 580.5,304.2 592.9,298.4 579.8,319.3 595.2,272.8 584.4,297.3 594.2,314.9 585.9,317.1 582.4,311.4 587,315.5 591.8,304.9 591.3,294.8 596,307.7 581.1,318.7 580.7,309.2 587.7,319.4 582.2,315.1 578.5,289.4 587.9,278.8 592.4,304.6 594.5,310.6 583.4,256.2 587.2,315.6 590.2,312.4 577.9,316.8 589.7,259.6 580.1,311.3 587.4,309.8 590.8,308.9 584.6,299.3 594.6,298.7 584.5,315.5 581.4,308 582.6,281.7 579.6,261.9 580.2,314.2 588.2,308.9 588.8,311.9 591.6,304.2 592.5,295.8 585.4,257.7 581.5,307.4 584.3,305.5 585,317.6 577.9,265.4 587.6,299.4 595.2,285.1 580.5,312.3 583,315.7 588.7,301.5 588,307.6 588.2,319.9 591.9,316.3 586.4,313.4 582.1,315.8 578.5,316 579.9,308.4 580.6,305.2 584.9,319.6 592.5,311.8 582.2,288.1 580.5,295.8 579.6,303.7 588.5,264.8 586.2,304.2 588,274.9 579.8,304.1 578.2,314.6 580.5,298.2 584,299.5 594.2,302.1 595.8,294.2 594.9,319.8 583.1,307.8 588.7,301.5 577.9,313.9 589.2,292.9 577.8,290.9 581.5,296.7 591.5,276.8 581.6,304.6 584.6,297.2 589.4,250.6 582.9,311 586.3,317.6 583.8,314.7 586.2,304.4 578.7,293.8 584.9,307.9 592.8,313.5 592.5,316.4 582.1,301 580.5,300.3 583.5,299.5 581.8,312.3 592.3,316.8 583.4,292.6 587.9,318.3 589,288 582,270.3 579.3,306.4 587.9,273.7 579.4,308.4 592.3,300.7 580.9,296.8 585.6,250 582.3,259.8 589,277.3 581.5,296 579.3,305.5 594.1,303.3 577.9,289 579.7,312.3 582.7,311.1 578.5,314.1 589.7,316 583.6,290.2 586.4,292.1 584,291.9 588.1,315.5 584.5,303.2 580.5,259.6 591.7,308.9 586.4,310.7 584.1,310.4 587.3,311.3 592.3,295.4 587.8,310.9 589.5,300.8 581.5,302.9 589.1,295.5 581.9,298.5 595.4,267.9 587.9,292.7 580.2,317 593.1,315.7 580.6,299.7 588.8,309.9 588.9,318.5 579.2,280.7 591.5,296.6 591.3,295.5 596,265.8 590.3,280.3 587.5,306.5 583,310.9 581,311 590.6,267.6 594.7,292.2 592.7,316.9 584.8,298 583.1,297.7 583.5,319.3 579.1,298.6 578.8,231.9 593.9,275.3 582.5,307.3 581.4,292.2 591.7,304.5 594.7,309 588.8,300.8 587,318 587.1,305.7 594.9,289.7 589,314 587.7,306.7 587,302 595.3,303.3 593,242.7 593.8,304.1 578.2,295.9 589,291.8 584.6,293.2 583.1,296.7 595.3,312.6 590.8,305.5 594.8,270.7 582.5,308.5 578.4,319.6 582.7,294.7 581.5,251.3 583.6,300.3 589.1,309.4 581.2,307.4 587.4,317.9 595.3,298.5 585,305.5 585.7,291.5 578.6,316.2 582.8,271.6 589.2,311.7 586.6,313.1 589.3,295.6 583,305.3 593.2,314.1 593.3,301.6 590.6,313.2 591.5,313.3 592.7,269.3 588.1,289.1 581.9,299.1 595.6,259.7 585,310.9 578.7,267.2 582.4,273.2 586.5,316.1 587.8,308.2 590.5,302.6 586.1,260.6 594.4,258.7 593.8,319.8 584.1,295 591.8,315.9 591.5,319.3 583.6,301.1 595.9,297.6 585.9,317.9 588.4,228.2 579.5,295.6 580.2,304.8 586.9,304.1 587.3,306.2 593,314 593.6,287 578.7,303.5 578.8,300.2 584.4,317.8 592.6,289.2 584.9,314.4 580.7,305 579.5,300.9 591.4,310.1 586.5,314.5 589.1,289.1 594.6,315.1 589.1,311.8 580.1,264.5 584.4,310 591.6,293.1 577.8,292.8 594.7,319.2 594.7,317.9 581.6,319.7 595.9,317.5 588.1,312 581.4,291.1 590.7,306.7 590.6,293.1 590.2,296.7 594.2,247.8 592.9,295.7 579.1,306.1 582.9,318.6 589.1,302.5 585.3,262.7 585.8,313 582.6,304 586.7,282.9 578.1,303.3 585.7,302.3 594.2,317.3 583.4,307.2 592.5,268.2 579.3,300.4 593.3,302.3 583.1,301.3 589.7,316.3 587.6,298.6 591.3,317 585.4,314.3 585.4,310.4 582.4,317 585.2,299.8 594,314.2 587.3,281.6 587.5,311.6 595.7,259.3 588,300.2 588.8,307.4 592.5,223.4 583.4,315.1 595,302.2 589.6,319.2 585.3,262.5 595.6,315.2 594.6,309.1 581.7,307.1 589.3,299 587.1,314 577.8,300.3 585.8,275.3 590.4,276.3 592.1,300.8 594.9,294.5 587.2,279.8 581.6,293.9 589.4,279.9 582.8,309.9 583.5,316.4 579.6,317.8 588.8,292.6 580.1,304.5 595.9,301 592.1,319.7 592,304.6 591.6,270.2 581.1,305.9 578.8,317.4 590.3,295.1 583.2,294.2 589.8,308.7 589.3,279.9 589.7,298.2 583.3,291.1 595.3,289.6 595.8,306.6 585.6,304 584.4,314.1 582.4,272.1 587.1,261.9 584.9,317.4 593.7,318.4 584.1,297.2 594.5,301.4 590,316.9 584.1,253.2 590,293.7 579.9,310.8 594.2,310.1 589,297 592.6,305.1 583,307 588.5,304.7 581.3,312 579.9,291.8 580.5,269.3 585.6,300.1 590.5,302.6 591.2,315.1 581.7,304.2 591.1,285.7 585.6,308.6 582.3,316.4 578.1,311.3 582.7,315.2 589.4,315.6 583.8,274.9 583,305.2 593.9,311.7 590.1,312.5 582.8,259.6 588.7,293.4 584.8,315.7 581.7,311.5 591.6,307.6 583.7,315.4 595.6,302.9 578.5,316.3 580.6,285.5 585.6,295.5 591.9,302.9 580.2,302.3 585.5,300.7 585.2,293.8 578,236.7 583,307 578.1,245.3 581.1,318.3 590.3,315.5 592.8,297.2 587.5,314 585.5,293.6 584.6,299.1 587.3,305.7 582,311.4 578.1,309.5 592.2,294.5 583.3,280 588,292.7 587,319.9 582.6,293.9 585.9,304.5 581.1,298.3 581.5,306.5 586.8,318.8 593.1,268.5 583.2,312.9 589.7,309.4 583.9,306.6 586.7,309 579.5,298.6 584.4,306.6 595.9,311 590.6,307.3 586.6,320.1 581.3,299.1 581.2,305.5 589.8,310.8 582.9,313.3 582.3,296.1 582.2,314.3 591.7,319.8 578.7,307.6 585.9,294 583.4,296.5 585.1,311.1 583.2,310.3 591.8,310.6 586.4,255.6 591.8,252.5 580.4,302 587.7,304.4 582.1,294.2 586.2,300.6 595.2,299.3 578.2,309.5 581.2,317.4 590.4,294.5 590.9,271.3 580.8,294 587.1,292.1 584.8,265.2 583.2,318.4 593.3,273.5 586.7,293.5 594.1,315.2 589.6,296.1 583,314.4 592.8,294.2 578.2,307.7 595,293 579.5,286.8 594.5,306.7 578.8,303.5 581,275 583.2,312.7 594.6,274.3 585.4,256.2 593.4,296.9 582.8,313.2 591.8,311.4 587.1,305.4 592,296.4 589.7,307.6 591.3,311.9 580.8,308.3 580.1,320 579.8,308.8 593.9,313.4 588.2,301.1 581.4,255.7 585.7,316.6 591.1,316 589.2,301.6 590.5,295.3 591.1,312.8 593.6,312.8 585.4,308.8 581.8,289.9 594.8,312.3 594.1,296.4 583.2,302.9 591.5,265.1 588,276.7 590,315.4 593.9,313.2 586.7,281.2 592.2,319.7 583.7,295.6 590.6,291.2 584.8,303.8 595.4,311.3 579.6,308.1 584.4,308.9 586.1,238.6 581.4,299.4 585.6,295.9 583.5,316.7 588.1,274.5 582.2,301.8 581.9,302.1 579.1,283.2 582.9,294.2 579.3,319.5 590.2,288.3 589.6,301.4 588.6,303.7 588.9,317.8 592.1,304.6 594.8,303.3 593.7,315.1 594.7,304.6 580.6,305 588.7,266.9 591.9,260.1 590.8,304.1 587.6,319.6 583,304.4 595.7,310.4 578,303.9 578.8,294.7 589.2,308 586,294.9 590.9,290.1 579.3,308.7 594.8,319.9 592.2,300.5 590.6,312 594,289 585.2,309.5 583.3,308.4 591.4,281.2 584.9,296.9 579.1,276.3 587.4,308.2 592.1,320 586.2,307.8 580,313.5 593.1,277 595.9,285.5 586.9,291 584.4,316.7 582.4,318.8 582.5,312.8 594,306.8 580.3,287.9 582.6,274 589.5,268.8 584.4,309.4 593.1,310.6 592.3,302 579.6,302 587.8,282.3 578.1,318.8 594.1,278.5 593.8,298.4 584.6,268.7 579,310.2 590.2,317.6 593.6,316.9 580.6,218.8 591.1,218.8" fill="none" stroke="none" marker-start="url(#mg)" marker-mid="url(#mg)" marker-end="url(#mg)"/><polyline points="643.8,227.8 639.6,241.1 654.8,257.4 654.3,247.6 649.2,278.5 649.2,319.7 648.2,222.5 649.1,292.5 649.4,241.1 656.7,253.8 655.1,296.9 648.2,307.9 654.8,249.5 641.3,241.2 649.3,269.1 642,281.6 650,246.3 642.5,303.8 652.6,269.8 654.8,232 656.1,270.3 648.1,279.5 654.4,295.5 644.1,315.5 645.1,237.3 656.2,286.3 654.1,312.6 644.8,300.5 650.5,272.9 641.4,252.7 650.2,275 644,303.4 639.6,246.9 645.1,250.2 647.2,277.1 641.6,306.1 656.9,258.8 641,315 655.7,267 639.3,282 639,237.9 642.8,244.7 642.4,292.6 653.7,294.3 650.8,293.6 641.1,258.2 649.1,317.7 642.3,289.8 652.8,300.4 641.8,239.9 647.2,277.3 655.2,274.9 645.5,282.3 641.3,302.5 651.6,283.1 649.8,277.3 647,295.3 641.8,315.7 650.9,244.1 655.7,294 656.6,273.4 642.3,297.8 653.4,266.9 655.7,302.4 646.5,306.6 643.5,256.5 656.3,315.3 645.2,257.6 643.2,250.7 643.4,246.3 647,306 651.5,291.9 646.9,293.1 646.6,261.3 642.4,291.2 645.6,283.8 656.5,220.1 642.9,277.6 640.6,252.4 641.4,239.7 649.6,260.1 654.9,318.1 639.4,227.1 643.9,310.8 654.8,233.2 640.8,284.5 649.5,246.6 647.6,223 643,259.5 652,254.3 642,286.5 640.9,299.1 639.9,279.6 655.8,289.7 642.4,290.5 641.4,235.3 645.3,264.8 642.1,305.2 647.2,233.4 640,287.6 642.6,292.3 651.3,252.1 649.1,298.9 654.8,237 640.5,265.8 650.3,299.6 647.5,276.5 644.2,311.1 646,304.1 654.3,270.8 656.8,272.7 649.7,239.6 650.3,278.4 640.1,280.5 639.3,240.4 649,266 640.1,313.8 656.7,260.4 640.9,257.6 640.9,306.6 649.5,318 647.6,248.7 650.8,293.7 651.5,268 645,270.5 642.7,276.4 647.9,273.1 641.7,274 648,235 653.5,317 640.7,238.5 649.9,309.4 639.3,282 652.9,300.9 651.6,244.5 653.6,319.3 653,239.8 651.4,255.8 650.2,247.3 644.9,262 641.7,258.8 655.8,251.8 655.9,311.1 644.8,276 655.8,269.3 649.6,254.7 642.2,294 641.5,273.9 646,241.3 646.1,268.8 643.8,233.8 645.6,248.9 643.9,297.8 656.9,281.4 640.3,233.7 652.6,243.1 641.9,264 647.2,254.7 643.7,271.2 650.4,223.5 652.1,308.7 646.7,285.5 649.4,291.4 652.2,267 642.8,258.5 656.6,247.6 656.6,245.3 648.2,281.6 640.6,253.8 650.7,291.4 650.4,284.8 646.3,291.2 639.7,284.3 642.3,251.1 640.9,283.6 646.1,228.1 642.4,287.3 647.9,281.1 652,249.7 652,259.7 656.6,240.6 654.6,294 643.4,299.2 644.4,318.5 647.7,240.4 650.5,304.9 651.6,293.5 642.2,310.3 650.3,293.8 652.3,255.2 650.3,237.1 654.3,256.8 641.6,313.4 641.1,258.6 641.9,301.1 643.3,319.5 653.6,308.4 642.2,239.7 640.1,291.7 649.7,242 639.8,256.8 654.4,250 651.3,309 641.5,253.5 649.6,294.1 652.7,270.4 647.3,302.1 648.9,268.8 656.9,288.2 649,234.7 654.8,272.1 640.1,245.8 647.1,250.1 642.4,289.5 654,274.3 655.8,298.8 643.3,233.7 656.5,271.9 653.3,285.7 644.7,247.8 642.1,281.9 655.5,292.1 651.1,308.4 651.4,274.9 656.7,312.9 654.5,303.1 649.1,268 651.2,307.5 650.6,256.3 638.8,315.1 641.1,305.4 640.3,228.1 650.7,280.8 656.6,313.8 651.7,256.8 645.7,274.1 641,283.1 652.7,309.9 644.2,276.4 650.6,274.1 639.5,315.5 652.1,246.4 643.5,294 654.6,290.3 649.5,296.5 642.9,207.3 654.8,288.2 650,247.3 652.1,255.4 656.6,316.7 647.7,307.1 652,252.4 655.3,246.7 643.5,266.6 644.9,304.1 655.3,284.1 642.2,300.9 648.7,270.4 652.4,228.2 651.8,254.6 642.8,247.3 648,270.7 647.5,278.5 647.1,292.2 650.5,259.1 640.3,222.5 642.6,279.1 644.4,244 647.2,311.2 650,246.7 642.1,234.6 639.7,231.8 646.2,288.1 654.6,244 644.6,258.7 651.3,244 640.1,256.1 649.1,259.3 640.7,292.9 645,265.3 645.1,223 643.3,300.9 641.2,304.5 650.9,258.5 645.5,249.5 654.8,317.9 642.4,284.1 651.6,292.6 643.9,250.5 640.6,291 645.2,239.3 654.6,265.6 652.9,294.2 641.7,291.2 639.5,291.2 643.5,259.9 642.9,292.9 653.3,261.8 646.4,287.6 648.4,245.8 651.3,313.3 655.7,255.6 640,277.5 645.2,275.9 639.8,239.8 650.3,271.6 646.4,314.9 644.8,250.5 649.2,275.8 646.2,285.9 650.4,274.1 644.2,269.7 638.9,244.1 656.3,316.5 640,278.3 653.4,267.2 646.9,247.6 644.5,288.3 651.5,305 643.6,288 643,282.2 655.8,317.6 641.9,289.7 655.5,227.8 645.1,316.7 650.4,281.4 651.4,265.5 642.3,242 643.7,258.5 650.4,237.8 641.3,269.6 640,312.7 639.1,288.3 655.6,295.2 653.5,289.6 656.9,261 643.8,292 649.6,242 645.5,300.7 653.5,317.2 645.2,243.8 654.4,257.9 651.1,275.2 643.4,244.1 640.4,314.2 647.8,273.9 656.1,277 655,234.1 651.5,294.2 646.6,245.4 648.5,274.4 653.6,260.5 653.1,268.3 645.3,258.2 652.3,260.3 652.1,269.9 644.5,301.4 645.5,226.8 652.5,280.5 645,287.9 654.3,315.8 650.4,260.7 647.7,276.1 650.2,259.5 641.9,262.3 644.5,255.2 651.6,265.1 648.7,237.9 655.5,246.4 653.1,243.4 642.1,239.1 645.1,286.6 648.7,264.3 645.4,296.2 639.2,247.9 646.2,307.5 643.1,214.8 647.3,258.1 646.7,257 648,300.1 642,240.7 652.5,247 655.3,238.5 648.7,312.9 638.9,232.4 647.2,306.9 648.9,259.5 644.7,307.4 651.9,294 639.1,299.6 651.1,311.3 644,314.5 646.1,284.7 640.6,316.9 640.4,239.9 649.6,258.9 646.7,288.3 647.5,239.6 644.5,252.1 649.4,286.1 645.3,228.2 647.8,279.2 656.3,287.8 639.8,313.3 650.2,268.5 654.6,255.4 656.7,283 648.4,270.9 648.5,274 651.7,294 643.8,302.5 648.4,302.8 653.6,228.9 650.9,292.1 639.7,310.4 652.7,308.5 640,268.4 654.2,303.8 643.6,237.7 648.4,258.7 648.1,275.3 651.6,260.6 647.3,314.6 647.9,309.1 656,251.5 645.1,277.4 650,284.3 654.5,264.5 654.2,268.5 643.4,270.9 656.5,216.5 639.3,250.8 647,283.8 652,273 651.3,252.5 646.1,247.2 647.5,254.1 639.3,264.7 655.6,296.5 652.3,280.4 649.7,272 651.8,277.9 649.6,287 639.8,297.7 644.4,303.6 653.8,297.1 651.8,242.7 645.8,292.5 654.3,317.2 645.4,285.5 655.6,313.4 654.6,240.6 641,311.1 644.7,244.2 642.8,297 655.7,265.1 654.5,243.7 642.9,298.2 638.8,295.5 650.6,269 643.6,258 641.5,318.6 654.7,282.6 643.2,255.5 640.4,258.1 653.4,296 647.2,288 642.2,292.6 638.8,252.9 647.4,234.8 643.9,311.9 640.8,242.2 651.8,276.1 654.6,303.7 650.5,216.1 655.2,245.4 651.7,241.7 647.3,259.2 639.4,287.1 643.9,292.3 645.1,298.5 649.9,290.5 647.3,266.9 644.1,257.4 648,298.6 649.1,304.2 655.6,261.1 653.3,249.4 654.2,265.1 643.8,254.7 648.1,231.5 654.7,255.7 642,283.2 641.1,318.8 650.2,270.9 643.8,316 645.6,307.2 649.5,287.2 654.4,247.1 645.5,281.2 642.1,232.5 643.3,270.3 654.2,274.3 640.8,302.1 652.9,239.9 656.9,238.2 648.8,306.5 652.3,285.1 651.9,293.6 654.2,256.3 655.4,270.8 652.5,248.6 650.5,268.2 645.5,249.5 641.1,307.8 640.7,308.8 645.9,234.8 653.7,294.8 646.3,274.1 648.9,279.9 652.4,290.5 646.3,275.8 655.4,296.6 654.6,291.1 650,302.1 647.1,261.7 655.9,244.7 647.2,264.7 648.4,260.3 640.1,287.9 649,305.1 651.7,271.1 650,277.1 649.7,283.2 656.9,319.8 643.2,275.1 656.1,310.1 656.8,288.8 645.8,296.8 648.5,318.1 643.2,259.2 647.9,268.2 654.6,283.4 655.8,252.5 651.4,270.6 656.5,316.1 641.9,297.6 651.5,319.1 647.8,293 639.3,284.1 639.9,319.2 648.5,234 639.8,248.5 651.9,317.1 641.6,283.9 648.3,319.7 645.3,293.9 641.4,223 650.1,279.4 643.8,252 654,255.7 653.6,201.6 646.4,316.4 650.8,235.7 656,310.9 648.9,305.9 652.7,261.4 641.4,253.1 647.5,275.3 650.8,275.8 652.2,251.9 653.1,304.2 654.8,262.6 652.7,274.7 649.9,274.9 655.8,246.5 649.8,300.5 656,244.2 647.1,261.9 646.3,238.8 646,316.3 641.4,308.3 639.7,300.5 640.3,311.7 640.1,229.8 653.5,251 653.2,251.1 655.2,293.3 648.6,299.7 656.9,259.6 654.7,318.2 654.9,304.3 654.7,305.2 656.3,298.4 641.8,317.6 642.6,295.4 649.7,315.8 648.1,291.8 645.2,234.8 651.5,318.9 647.9,267.4 648,239 648.2,266.3 641.5,244.4 654.2,308.7 639.1,246.2 644.1,273.8 651,312.8 647,314.8 645.6,317.4 642.4,277.4 652.4,251.3 656.5,316.2 656.9,303.2 651.7,261.7 646.6,300.9 656.5,226.8 655.4,293.9 646.7,257.1 656,237.7 653,254.1 639.8,248.1 653.2,232.1 655.2,264.9 644,315.8 655,268.1 641.5,291.6 652.4,244.9 650,314.4 639.8,301.1 652.4,302.5 654.7,299.9 656.4,253.6 642.2,273.7 646.6,242.2 652,253.5 650,313.1 653.1,253.9 641.5,318.6 656.5,296.7 640.8,317.9 656,315 649.4,299.5 641.3,241.1 639.2,307.3 651.2,264.2 651.6,295.7 651.4,285.4 641.2,236.2 644.3,311.1 641.2,291.4 653.9,289 654.1,307.3 649.6,239.4 646.5,258.4 656.6,277.4 645.3,234.5 639.1,300.7 650.9,298.5 647.9,275.6 640.8,309.2 646.5,249.4 655.5,295 650.9,245.6 647.1,309.8 649.4,302.8 648.7,279.3 644.9,289.4 641.2,301.6 644,258 643.7,270.3 655.1,268.6 647.8,291.8 647,309.3 638.8,241.5 652.5,305.4 643.4,301.4 653,253.4 649.5,299.9 655.5,264.3 648,305.5 655.6,256.4 646.3,249.9 642.8,304.7 656.7,253.4 642.5,237.8 641.9,297.5 642.4,265.1 646.5,254.9 647.9,287.3 642.5,273.5 649.6,266.3 655.8,236 648.6,285.7 650,247.8 644.7,235.7 645.3,257.9 646.3,306.1 652,260.7 651.7,298.4 654.1,288.4 649.3,316.9 647.6,310.4 649.1,226.3 656.8,255.9 646.4,261.3 652.8,246.6 654,253.7 647.4,258.8 641.2,307.3 655.7,230.7 646.7,247.2 638.8,299.5 656.1,318.9 647.6,317.5 638.8,267.7 654.6,297.1 653.5,270.5 640.2,295.1 647.9,225.8 653.4,250.4 654,260.3 644.5,317.6 645.6,274.9 652.9,316.7 649.1,270.3 655.6,312.9 654.1,293.7 642.1,251.4 656,311.1 650.1,240.8 652,256.2 646.8,284 639,283 639.8,276 642,313.6 652.6,242.7 641.5,234 650.8,253.7 639.3,280.8 652.4,244.8 640,319.5 640.6,311.5 639.1,273.6 639.1,258.1 646.5,246.4 642.9,280.8 646.3,300 641.7,312.7 639.9,261.4 652.7,249.1 641.6,263 647.4,290.3 644,254.4 640.3,243.7 646.7,271.9 657,315.4 650.8,267.9 652.4,287.5 651.2,271.3 642.4,317.5 655.5,288.4 640.6,263.3 654.8,269.2 649.8,315.7 640.1,290.7 643.3,302.4 647.1,270.9 642.9,257.6 650,318.1 651.3,281.7 656.2,281.7 652.9,309.7 640.4,290.3 646.6,238.7 640.1,285.8 639,307.5 655.7,290.6 649.2,287.1 639.1,268.1 643,292.9 655.8,308.6 651.2,265.2 657,279.4 640.5,273.5 652.4,262.2 644.4,262.6 645.4,232.1 644.5,286.8 652.1,289.5 639.2,279.5 650.4,282.6 651.3,236.8 652.3,239.8 649.5,266.3 655.5,255.7 650.2,294.5 645.7,305.3 655.1,293.9 652.1,251.7 652.5,267.9 640.5,247.8 654.7,282.6 656.7,283.1 640.4,283.6 641.4,276.2 646.3,244.6 656.5,283.8 650.6,308.1 646.5,290.5 648.6,244.8 641,276.2 655.1,253.1 643.7,264 651.4,311.7 648.4,308.9 643.4,276 654.3,268.9 654.8,268 646.5,304.9 651.2,316.5 645.7,277 639.8,254.8 650,220.7 644.5,313.1 649.8,284.7 651.2,305.4 646.2,307.8 653.8,286.5 643.9,266.9 645.8,247.5 651.1,319 640.5,286.7 650.5,293.6 648.9,287.4 654.1,290.5 651.4,277 651.7,311.5 653.3,306.6 651.4,304.1 645.5,276.8 641.1,274.9 655,308.5 655.6,284.3 646.1,240.9 649.9,292.5 656.1,299.5 640.6,288.3 656,318.3 656.7,245 639.8,282.3 641.2,252.7 643.3,277.4 640,290.7 641.8,299.9 653.4,299.2 650.8,306.4 640.7,241.5 646.4,286.2 653.3,311.5 644,311.2 649.2,282.2 645.8,269.9 642.4,273.7 655.6,293.7 642.5,267 649.3,318.3 649.4,270.1 651.6,248.2 650.2,287.3 651,259 656.7,248.9 657,286.7 650.3,295.7 645.5,305.9 654.9,274.7 652.2,316 655.6,294 644.7,315.7 639.9,262.7 646.7,296.6 646.9,270.7 648.5,300.8 656.3,307.3 653.8,314.1 654.1,301.7 651.7,232.6 642.6,319.5 643.2,291.2 647.8,304.3 645,260.8 650.6,319.9 644.9,227.7 641.5,319.1 640.6,258.4 641.2,237.8 642.1,282.1 649,291.8 651.9,298.3 648.5,309.7 646.3,282.2 647.6,287.9 644.3,237.4 648.4,254.2 646.8,311.8 656.4,286.1 655.1,316.2 645.6,258.3 645.6,224.6 645.6,251.4 648.4,292 642.2,317.5 654.8,297.5 644.6,248.6 640.2,300.7 654.7,310.3 649.2,282.1 640.5,235.8 648.9,306.5 649.9,312.7 645.7,306.4 641.9,234.7 652.6,290 638.9,284.9 650.6,253.7 655.3,244.3 654.8,311.9 655.2,267.2 643.2,266.1 646.5,277.8 647.3,260.1 647.7,268.2 646.1,207.9 650.2,270.5 651,265.1 653.3,279.5 643.6,266.5 646.7,224.4 639.3,270.5 639.1,230 642.5,311.6 642.4,232 645.6,309 643.6,302.3 638.8,244.9 652.1,292.7 642.5,299.5 656.6,271.4 644,311.1 648.4,268.9 639.7,283.3 645.4,254.1 653.6,236.9 652.4,256.8 654.2,249.9 645.9,226.7 644.3,294.9 639.1,213.5 639.8,292.9 651.3,258.4 646.4,280.6 650.7,279.6 643.6,231.7 645.6,304.1 645.4,318 648,285.3 645.3,279.3 643.4,246.5 647.2,280.6 645.6,262.4 646.1,309.5 653.2,315.9 652.9,239.4 644.3,248.8 654.7,266.5 649.4,295.2 650.7,317.4 643.2,290 647.9,300.4 642.8,311.4 649,240.1 650.9,249.7 649.8,285.6 644.8,252 640.6,311.2 654.3,310.1 653.5,292.1 643.3,319.1 656.7,316.6 641.3,270.2 651.2,262 651.8,301.7 640.8,295.1 645.4,233.9 651.2,319.2 640.5,213.5 638.9,257.5 638.9,243.6 640.4,313.1 650.4,319.3 645.8,283.5 652.3,252.1 648.6,308.2 650.7,319.4 645.3,226.7 656.4,296.9 642.7,279.1 640.8,314.6 654.1,300.9 654.6,229.4 639.5,294.9 652.7,262.4 652.1,252.6 642.7,248.1 645.6,299.3 652,251.6 653.5,270.3 650.8,264.1 639.9,244.4 639.8,272.7 644.7,244.5 643.9,246.4 651,244.2 645.2,292.4 652.3,285.1 648.8,287.7 648.9,318.1 655.6,294.8 644.8,318.2 640.4,249 650.1,296 654.4,236.1 646.2,270.1 652.9,267.7 646.2,272.2 647.4,294 649.8,286.8 650.9,239.3 646.4,243.1 655.6,279.8 647.7,301.7 652.7,292.8 639.4,281.2 656.8,299 653.9,301.2 643.2,283.3 651.5,231.8 645.7,242.9 639.9,317.8 648.1,250.4 647.3,245.2 651.3,293.7 649.3,249.6 655.8,293.1 647.8,269.3 640.8,276.2 641.1,279.3 655.8,296.9 650.8,250.6 652.9,254.3 644.9,293.8 644.8,250.3 641.6,271 646.9,286.1 653.1,268.6 651,272.9 652.7,254.4 638.8,263.4 652.9,242 652.2,252.5 647.4,263.2 641.2,292.2 649.7,231.1 646.4,300.9 650.8,271.3 653.2,306.2 647.3,313.1 643.9,243.8 652.4,234.6 648.9,272.4 641.8,304.7 642.2,253.9 652.7,235.2 638.8,293.1 654.4,295.8 648.7,301.8 652.2,296.8 649.8,242.6 645,266.3 642.5,194.9 655.6,197.4" fill="none" stroke="none" marker-start="url(#mb)" marker-mid="url(#mb)" marker-end="url(#mb)"/></svg></body></html>
